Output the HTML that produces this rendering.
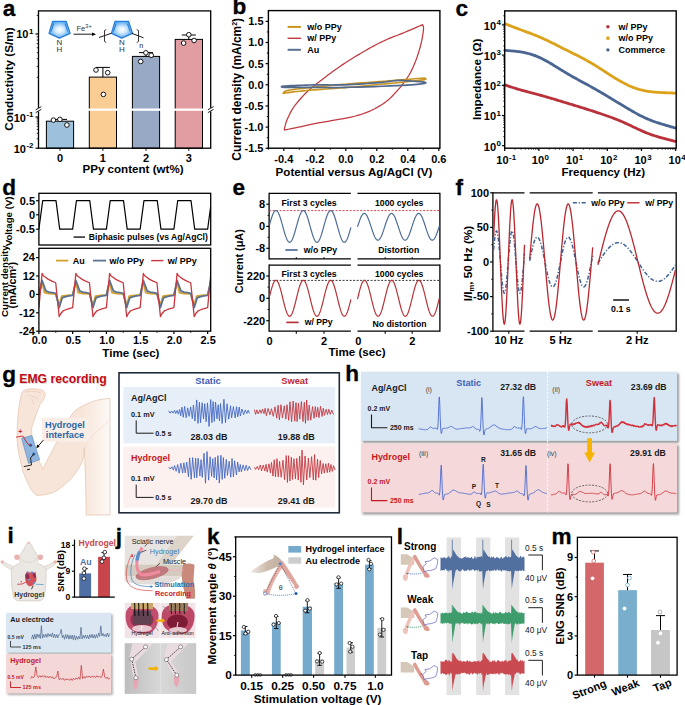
<!DOCTYPE html>
<html><head><meta charset="utf-8"><style>
html,body{margin:0;padding:0;background:#fff;width:685px;height:705px;overflow:hidden}
svg{display:block}
text{font-family:"Liberation Sans", sans-serif}
</style></head><body>
<svg width="685" height="705" viewBox="0 0 685 705">
<defs>
<radialGradient id="pyg" cx="50%" cy="50%" r="55%"><stop offset="0" stop-color="#ffffff"/><stop offset="0.35" stop-color="#d8ecff"/><stop offset="1" stop-color="#3f9ff0"/></radialGradient>
</defs><text x="2.7" y="16.4" font-size="22.6" font-weight="bold" fill="#000" stroke="#000" stroke-width="0.3">a</text><rect x="46.4" y="121.2" width="27.2" height="27" fill="#9dc0dd" stroke="#000" stroke-width="1" /><rect x="89.3" y="77.1" width="27.2" height="71.1" fill="#f9cd93" stroke="#000" stroke-width="1" /><rect x="132.4" y="56.4" width="27.2" height="91.8" fill="#98a9c6" stroke="#000" stroke-width="1" /><rect x="175.2" y="39.4" width="27.3" height="108.8" fill="#e19da1" stroke="#000" stroke-width="1" /><rect x="39.3" y="108.5" width="170.6" height="2.3" fill="#fff" stroke="none" stroke-width="1" /><line x1="60" y1="121.2" x2="60" y2="119.4" stroke="#000" stroke-width="1" /><line x1="53" y1="119.4" x2="67" y2="119.4" stroke="#000" stroke-width="1" /><line x1="102.9" y1="77.1" x2="102.9" y2="67.4" stroke="#000" stroke-width="1" /><line x1="95.9" y1="67.4" x2="109.9" y2="67.4" stroke="#000" stroke-width="1" /><line x1="146" y1="56.4" x2="146" y2="52.6" stroke="#000" stroke-width="1" /><line x1="139" y1="52.6" x2="153" y2="52.6" stroke="#000" stroke-width="1" /><line x1="188.8" y1="39.4" x2="188.8" y2="35" stroke="#000" stroke-width="1" /><line x1="181.8" y1="35" x2="195.8" y2="35" stroke="#000" stroke-width="1" /><circle cx="53.4" cy="120.1" r="2.3" fill="#fff" stroke="#000" stroke-width="0.9" /><circle cx="59.9" cy="119.4" r="2.3" fill="#fff" stroke="#000" stroke-width="0.9" /><circle cx="66.9" cy="125" r="2.3" fill="#fff" stroke="#000" stroke-width="0.9" /><circle cx="96" cy="70" r="2.3" fill="#fff" stroke="#000" stroke-width="0.9" /><circle cx="107.7" cy="72.7" r="2.3" fill="#fff" stroke="#000" stroke-width="0.9" /><circle cx="103.4" cy="94.4" r="2.3" fill="#fff" stroke="#000" stroke-width="0.9" /><circle cx="145.9" cy="52.8" r="2.3" fill="#fff" stroke="#000" stroke-width="0.9" /><circle cx="151.2" cy="55.3" r="2.3" fill="#fff" stroke="#000" stroke-width="0.9" /><circle cx="140.7" cy="61.5" r="2.3" fill="#fff" stroke="#000" stroke-width="0.9" /><circle cx="188.8" cy="34.7" r="2.3" fill="#fff" stroke="#000" stroke-width="0.9" /><circle cx="194.1" cy="40.5" r="2.3" fill="#fff" stroke="#000" stroke-width="0.9" /><circle cx="183.6" cy="43.1" r="2.3" fill="#fff" stroke="#000" stroke-width="0.9" /><rect x="38.5" y="10.9" width="172.2" height="137.3" fill="none" stroke="#000" stroke-width="1.3" /><rect x="36" y="107.8" width="5" height="3.7" fill="#fff" stroke="none" stroke-width="1" /><line x1="35.7" y1="109.8" x2="41.3" y2="106.6" stroke="#000" stroke-width="0.9" /><line x1="35.7" y1="112.6" x2="41.3" y2="109.4" stroke="#000" stroke-width="0.9" /><rect x="208.2" y="107.8" width="5" height="3.7" fill="#fff" stroke="none" stroke-width="1" /><line x1="207.9" y1="109.8" x2="213.5" y2="106.6" stroke="#000" stroke-width="0.9" /><line x1="207.9" y1="112.6" x2="213.5" y2="109.4" stroke="#000" stroke-width="0.9" /><line x1="35.5" y1="34" x2="38.5" y2="34" stroke="#000" stroke-width="1.2" /><line x1="35.5" y1="117" x2="38.5" y2="117" stroke="#000" stroke-width="1.2" /><line x1="35.5" y1="148.2" x2="38.5" y2="148.2" stroke="#000" stroke-width="1.2" /><line x1="36.7" y1="138.81" x2="38.5" y2="138.81" stroke="#000" stroke-width="0.8" /><line x1="36.7" y1="133.31" x2="38.5" y2="133.31" stroke="#000" stroke-width="0.8" /><line x1="36.7" y1="129.42" x2="38.5" y2="129.42" stroke="#000" stroke-width="0.8" /><line x1="36.7" y1="126.39" x2="38.5" y2="126.39" stroke="#000" stroke-width="0.8" /><line x1="36.7" y1="123.92" x2="38.5" y2="123.92" stroke="#000" stroke-width="0.8" /><line x1="36.7" y1="121.83" x2="38.5" y2="121.83" stroke="#000" stroke-width="0.8" /><line x1="36.7" y1="120.02" x2="38.5" y2="120.02" stroke="#000" stroke-width="0.8" /><line x1="36.7" y1="118.43" x2="38.5" y2="118.43" stroke="#000" stroke-width="0.8" /><line x1="36.7" y1="77.34" x2="38.5" y2="77.34" stroke="#000" stroke-width="0.8" /><line x1="36.7" y1="15.34" x2="38.5" y2="15.34" stroke="#000" stroke-width="0.8" /><line x1="36.7" y1="66.42" x2="38.5" y2="66.42" stroke="#000" stroke-width="0.8" /><line x1="36.7" y1="58.67" x2="38.5" y2="58.67" stroke="#000" stroke-width="0.8" /><line x1="36.7" y1="52.66" x2="38.5" y2="52.66" stroke="#000" stroke-width="0.8" /><line x1="36.7" y1="47.75" x2="38.5" y2="47.75" stroke="#000" stroke-width="0.8" /><line x1="36.7" y1="43.6" x2="38.5" y2="43.6" stroke="#000" stroke-width="0.8" /><line x1="36.7" y1="40.01" x2="38.5" y2="40.01" stroke="#000" stroke-width="0.8" /><line x1="36.7" y1="36.84" x2="38.5" y2="36.84" stroke="#000" stroke-width="0.8" /><text x="33.3" y="38.45" font-size="11" text-anchor="end" font-weight="bold" fill="#000">10<tspan font-size="7.92" dx="0.5" dy="-4.62">1</tspan></text><text x="33.5" y="121.85" font-size="11" text-anchor="end" font-weight="bold" fill="#000">10<tspan font-size="7.92" dx="0.5" dy="-4.62">-1</tspan></text><text x="33.5" y="152.85" font-size="11" text-anchor="end" font-weight="bold" fill="#000">10<tspan font-size="7.92" dx="0.5" dy="-4.62">-2</tspan></text><line x1="60" y1="148.2" x2="60" y2="150.7" stroke="#000" stroke-width="1" /><text x="60" y="162.25" font-size="11" text-anchor="middle" font-weight="bold" fill="#000" >0</text><line x1="102.9" y1="148.2" x2="102.9" y2="150.7" stroke="#000" stroke-width="1" /><text x="102.9" y="162.25" font-size="11" text-anchor="middle" font-weight="bold" fill="#000" >1</text><line x1="146" y1="148.2" x2="146" y2="150.7" stroke="#000" stroke-width="1" /><text x="146" y="162.25" font-size="11" text-anchor="middle" font-weight="bold" fill="#000" >2</text><line x1="188.8" y1="148.2" x2="188.8" y2="150.7" stroke="#000" stroke-width="1" /><text x="188.8" y="162.25" font-size="11" text-anchor="middle" font-weight="bold" fill="#000" >3</text><text x="133" y="172.76" font-size="11.6" text-anchor="middle" font-weight="bold" fill="#000" >PPy content (wt%)</text><text x="8.6" y="83.19" font-size="11.7" text-anchor="middle" font-weight="bold" fill="#000" transform="rotate(-90 8.6 79.1)" >Conductivity (S/m)</text><path d="M52.6 21.4 L66.2 21.4 L70.1 33.3 L59.4 38.2 L49.1 33.3 Z" fill="url(#pyg)" stroke="#2a7fd8" stroke-width="1.3" stroke-linejoin="round" /><line x1="53.6" y1="23.8" x2="51.2" y2="31.5" stroke="#1f6fc2" stroke-width="0.9" /><line x1="65.2" y1="23.8" x2="67.6" y2="31.5" stroke="#1f6fc2" stroke-width="0.9" /><text x="59.4" y="44.8" font-size="8" text-anchor="middle" font-weight="normal" fill="#333" >N</text><text x="59.4" y="52.4" font-size="8" text-anchor="middle" font-weight="normal" fill="#333" >H</text><path d="M115 21.4 L128.6 21.4 L132.5 33.3 L121.8 38.2 L111.5 33.3 Z" fill="url(#pyg)" stroke="#2a7fd8" stroke-width="1.3" stroke-linejoin="round" /><line x1="116" y1="23.8" x2="113.6" y2="31.5" stroke="#1f6fc2" stroke-width="0.9" /><line x1="127.6" y1="23.8" x2="130" y2="31.5" stroke="#1f6fc2" stroke-width="0.9" /><text x="121.8" y="44.8" font-size="8" text-anchor="middle" font-weight="normal" fill="#333" >N</text><text x="121.8" y="52.4" font-size="8" text-anchor="middle" font-weight="normal" fill="#333" >H</text><line x1="73.6" y1="34.2" x2="94.5" y2="34.2" stroke="#000" stroke-width="0.9" /><path d="M92 32.4 L96 34.2 L92 36 Z" fill="#000" stroke="#000" stroke-width="0" stroke-linejoin="round" /><text x="76.4" y="30.6" font-size="7.6" fill="#333">Fe<tspan font-size="5.6" dy="-3">3+</tspan></text><line x1="99" y1="37.5" x2="111.4" y2="33.3" stroke="#000" stroke-width="0.9" /><line x1="131.8" y1="33.3" x2="143.5" y2="37.8" stroke="#000" stroke-width="0.9" /><path d="M106.3 29.6 L104.5 30.5 L104.5 41.5 L106.3 42.6" fill="none" stroke="#222" stroke-width="0.9"/><path d="M136.7 29.6 L138.5 30.5 L138.5 41.5 L136.7 42.6" fill="none" stroke="#222" stroke-width="0.9"/><text x="141.2" y="47.72" font-size="7.2" text-anchor="middle" font-weight="normal" fill="#222" >n</text><text x="232.4" y="13.8" font-size="22.6" font-weight="bold" fill="#000" stroke="#000" stroke-width="0.3">b</text><path d="M284.1 130.1 L284.28 129.39 L284.49 128.46 L284.74 127.36 L285.04 126.13 L285.38 124.81 L285.76 123.43 L286.2 122.05 L286.7 120.7 L287.26 119.34 L287.87 117.91 L288.54 116.43 L289.25 114.92 L290.01 113.4 L290.81 111.89 L291.64 110.42 L292.5 109 L293.4 107.62 L294.36 106.26 L295.35 104.92 L296.38 103.6 L297.44 102.3 L298.52 101.01 L299.61 99.75 L300.7 98.5 L301.79 97.28 L302.89 96.09 L304 94.92 L305.13 93.77 L306.29 92.63 L307.48 91.5 L308.72 90.35 L310 89.2 L311.35 88.03 L312.76 86.86 L314.21 85.69 L315.7 84.52 L317.21 83.35 L318.72 82.19 L320.22 81.04 L321.7 79.9 L323.13 78.79 L324.52 77.72 L325.89 76.66 L327.26 75.61 L328.68 74.55 L330.15 73.45 L331.72 72.31 L333.4 71.1 L335.18 69.83 L337.03 68.52 L338.95 67.18 L340.94 65.79 L343 64.38 L345.15 62.94 L347.38 61.48 L349.7 60 L352.18 58.46 L354.85 56.82 L357.64 55.14 L360.49 53.44 L363.34 51.77 L366.12 50.17 L368.76 48.66 L371.2 47.3 L373.43 46.08 L375.51 44.97 L377.48 43.95 L379.37 42.99 L381.21 42.09 L383.04 41.22 L384.89 40.36 L386.8 39.5 L388.72 38.66 L390.59 37.89 L392.44 37.16 L394.31 36.45 L396.21 35.73 L398.17 34.98 L400.23 34.18 L402.4 33.3 L404.85 32.28 L407.62 31.12 L410.56 29.87 L413.52 28.61 L416.37 27.4 L418.94 26.3 L421.1 25.38 L422.7 24.7 L422.78 25 L422.92 25.33 L423.08 25.71 L423.25 26.18 L423.4 26.75 L423.51 27.46 L423.55 28.34 L423.5 29.4 L423.37 30.69 L423.18 32.21 L422.94 33.9 L422.64 35.72 L422.31 37.62 L421.94 39.57 L421.53 41.51 L421.1 43.4 L420.63 45.28 L420.12 47.23 L419.57 49.2 L418.99 51.2 L418.37 53.2 L417.73 55.17 L417.08 57.12 L416.4 59 L415.7 60.86 L414.96 62.72 L414.18 64.57 L413.39 66.39 L412.59 68.16 L411.79 69.86 L410.99 71.48 L410.2 73 L409.43 74.41 L408.65 75.71 L407.88 76.93 L407.11 78.09 L406.33 79.19 L405.56 80.27 L404.78 81.33 L404 82.4 L403.25 83.43 L402.54 84.39 L401.85 85.31 L401.14 86.21 L400.4 87.12 L399.6 88.07 L398.71 89.09 L397.7 90.2 L396.59 91.42 L395.41 92.74 L394.16 94.13 L392.83 95.55 L391.43 96.99 L389.96 98.41 L388.42 99.79 L386.8 101.1 L385.07 102.37 L383.23 103.65 L381.29 104.91 L379.29 106.14 L377.26 107.33 L375.21 108.46 L373.18 109.52 L371.2 110.5 L369.25 111.39 L367.3 112.2 L365.35 112.95 L363.4 113.64 L361.45 114.28 L359.5 114.88 L357.55 115.45 L355.6 116 L353.71 116.5 L351.9 116.94 L350.12 117.32 L348.33 117.68 L346.47 118.03 L344.5 118.38 L342.36 118.77 L340 119.2 L337.35 119.68 L334.42 120.19 L331.3 120.72 L328.07 121.26 L324.83 121.81 L321.66 122.35 L318.65 122.89 L315.9 123.4 L313.37 123.9 L310.99 124.4 L308.71 124.89 L306.54 125.38 L304.44 125.86 L302.4 126.32 L300.39 126.77 L298.4 127.2 L296.36 127.63 L294.26 128.06 L292.17 128.48 L290.16 128.89 L288.27 129.26 L286.59 129.6 L285.18 129.88 L284.1 130.1" fill="none" stroke="#c0393f" stroke-width="1.25" stroke-linejoin="round" /><path d="M283.6 93.6 L283.55 93.55 L283.45 93.49 L283.33 93.43 L283.21 93.35 L283.13 93.25 L283.12 93.13 L283.2 92.98 L283.4 92.8 L283.63 92.58 L283.8 92.32 L284.01 92.03 L284.31 91.72 L284.79 91.4 L285.51 91.07 L286.56 90.73 L288 90.4 L289.83 90.07 L291.97 89.74 L294.4 89.41 L297.1 89.06 L300.03 88.71 L303.18 88.35 L306.51 87.98 L310 87.6 L313.68 87.2 L317.6 86.79 L321.73 86.37 L326.06 85.94 L330.57 85.5 L335.24 85.06 L340.06 84.63 L345 84.2 L350.22 83.77 L355.8 83.34 L361.62 82.9 L367.55 82.46 L373.48 82.03 L379.28 81.61 L384.82 81.2 L390 80.8 L395.03 80.4 L400.11 79.99 L405.12 79.58 L409.91 79.19 L414.35 78.82 L418.31 78.49 L421.64 78.21 L424.2 78 L424.37 78.12 L424.77 78.26 L425.26 78.43 L425.71 78.62 L425.97 78.84 L425.9 79.08 L425.36 79.33 L424.2 79.6 L422.54 79.88 L420.57 80.16 L418.25 80.46 L415.54 80.77 L412.39 81.12 L408.78 81.5 L404.66 81.93 L400 82.4 L394.46 82.95 L387.95 83.59 L380.75 84.29 L373.18 85.01 L365.51 85.73 L358.07 86.43 L351.13 87.06 L345 87.6 L339.58 88.05 L334.54 88.44 L329.84 88.77 L325.44 89.07 L321.29 89.35 L317.37 89.62 L313.62 89.9 L310 90.2 L306.51 90.52 L303.17 90.85 L300.02 91.18 L297.09 91.5 L294.39 91.81 L291.96 92.1 L289.82 92.37 L288 92.6 L286.58 92.8 L285.56 92.97 L284.87 93.12 L284.43 93.25 L284.15 93.36 L283.98 93.45 L283.82 93.53 L283.6 93.6" fill="none" stroke="#c8961e" stroke-width="1.6" stroke-linejoin="round" /><path d="M283.4 87.5 L283.22 87.4 L282.78 87.26 L282.23 87.1 L281.74 86.93 L281.45 86.74 L281.53 86.55 L282.13 86.37 L283.4 86.2 L285.39 86.04 L287.98 85.87 L291.06 85.7 L294.51 85.53 L298.24 85.37 L302.14 85.23 L306.09 85.1 L310 85 L313.98 84.94 L318.18 84.93 L322.55 84.94 L327.04 84.96 L331.58 84.98 L336.12 84.97 L340.62 84.91 L345 84.8 L349.4 84.62 L353.93 84.39 L358.5 84.12 L363.02 83.82 L367.41 83.51 L371.6 83.2 L375.49 82.89 L379 82.6 L382.13 82.31 L384.97 81.99 L387.54 81.66 L389.89 81.34 L392.04 81.03 L394.04 80.77 L395.91 80.55 L397.7 80.4 L399.27 80.32 L400.52 80.3 L401.57 80.32 L402.5 80.39 L403.42 80.48 L404.43 80.58 L405.62 80.69 L407.1 80.8 L408.99 80.92 L411.23 81.07 L413.7 81.24 L416.24 81.42 L418.7 81.6 L420.95 81.77 L422.83 81.9 L424.2 82 L424.35 82.1 L424.71 82.24 L425.16 82.4 L425.56 82.58 L425.8 82.77 L425.73 82.98 L425.24 83.19 L424.2 83.4 L422.76 83.62 L421.12 83.86 L419.19 84.11 L416.89 84.36 L414.14 84.62 L410.86 84.89 L406.98 85.15 L402.4 85.4 L396.78 85.66 L390.03 85.95 L382.5 86.24 L374.52 86.53 L366.45 86.8 L358.61 87.04 L351.35 87.25 L345 87.4 L339.5 87.5 L334.48 87.54 L329.87 87.54 L325.57 87.52 L321.53 87.48 L317.63 87.44 L313.82 87.41 L310 87.4 L306.09 87.41 L302.14 87.42 L298.24 87.43 L294.51 87.45 L291.06 87.47 L287.98 87.48 L285.39 87.49 L283.4 87.5" fill="none" stroke="#52698c" stroke-width="1.7" stroke-linejoin="round" /><rect x="268.4" y="10.6" width="171.5" height="137.6" fill="none" stroke="#000" stroke-width="1.4" /><line x1="265.6" y1="21.35" x2="268.4" y2="21.35" stroke="#000" stroke-width="1.2" /><text x="263.5" y="25.2" font-size="11" text-anchor="end" font-weight="bold" fill="#000" >1.5</text><line x1="266.8" y1="31.95" x2="268.4" y2="31.95" stroke="#000" stroke-width="0.9" /><line x1="265.6" y1="42.5" x2="268.4" y2="42.5" stroke="#000" stroke-width="1.2" /><text x="263.5" y="46.35" font-size="11" text-anchor="end" font-weight="bold" fill="#000" >1.0</text><line x1="266.8" y1="53.1" x2="268.4" y2="53.1" stroke="#000" stroke-width="0.9" /><line x1="265.6" y1="63.65" x2="268.4" y2="63.65" stroke="#000" stroke-width="1.2" /><text x="263.5" y="67.5" font-size="11" text-anchor="end" font-weight="bold" fill="#000" >0.5</text><line x1="266.8" y1="74.25" x2="268.4" y2="74.25" stroke="#000" stroke-width="0.9" /><line x1="265.6" y1="84.8" x2="268.4" y2="84.8" stroke="#000" stroke-width="1.2" /><text x="263.5" y="88.65" font-size="11" text-anchor="end" font-weight="bold" fill="#000" >0.0</text><line x1="266.8" y1="95.4" x2="268.4" y2="95.4" stroke="#000" stroke-width="0.9" /><line x1="265.6" y1="105.95" x2="268.4" y2="105.95" stroke="#000" stroke-width="1.2" /><text x="263.5" y="109.8" font-size="11" text-anchor="end" font-weight="bold" fill="#000" >-0.5</text><line x1="266.8" y1="116.55" x2="268.4" y2="116.55" stroke="#000" stroke-width="0.9" /><line x1="265.6" y1="127.1" x2="268.4" y2="127.1" stroke="#000" stroke-width="1.2" /><text x="263.5" y="130.95" font-size="11" text-anchor="end" font-weight="bold" fill="#000" >-1.0</text><line x1="266.8" y1="137.7" x2="268.4" y2="137.7" stroke="#000" stroke-width="0.9" /><line x1="265.6" y1="148.25" x2="268.4" y2="148.25" stroke="#000" stroke-width="1.2" /><text x="263.5" y="152.1" font-size="11" text-anchor="end" font-weight="bold" fill="#000" >-1.5</text><line x1="283.8" y1="148.2" x2="283.8" y2="151" stroke="#000" stroke-width="1.2" /><text x="283.8" y="163.15" font-size="11" text-anchor="middle" font-weight="bold" fill="#000" >-0.4</text><line x1="314.8" y1="148.2" x2="314.8" y2="151" stroke="#000" stroke-width="1.2" /><text x="314.8" y="163.15" font-size="11" text-anchor="middle" font-weight="bold" fill="#000" >-0.2</text><line x1="345.8" y1="148.2" x2="345.8" y2="151" stroke="#000" stroke-width="1.2" /><text x="345.8" y="163.15" font-size="11" text-anchor="middle" font-weight="bold" fill="#000" >0.0</text><line x1="376.8" y1="148.2" x2="376.8" y2="151" stroke="#000" stroke-width="1.2" /><text x="376.8" y="163.15" font-size="11" text-anchor="middle" font-weight="bold" fill="#000" >0.2</text><line x1="407.8" y1="148.2" x2="407.8" y2="151" stroke="#000" stroke-width="1.2" /><text x="407.8" y="163.15" font-size="11" text-anchor="middle" font-weight="bold" fill="#000" >0.4</text><line x1="438.8" y1="148.2" x2="438.8" y2="151" stroke="#000" stroke-width="1.2" /><text x="438.8" y="163.15" font-size="11" text-anchor="middle" font-weight="bold" fill="#000" >0.6</text><line x1="268.3" y1="148.2" x2="268.3" y2="149.8" stroke="#000" stroke-width="0.9" /><line x1="299.3" y1="148.2" x2="299.3" y2="149.8" stroke="#000" stroke-width="0.9" /><line x1="330.3" y1="148.2" x2="330.3" y2="149.8" stroke="#000" stroke-width="0.9" /><line x1="361.3" y1="148.2" x2="361.3" y2="149.8" stroke="#000" stroke-width="0.9" /><line x1="392.3" y1="148.2" x2="392.3" y2="149.8" stroke="#000" stroke-width="0.9" /><line x1="423.3" y1="148.2" x2="423.3" y2="149.8" stroke="#000" stroke-width="0.9" /><text x="354" y="176.16" font-size="11.6" text-anchor="middle" font-weight="bold" fill="#000" >Potential versus Ag/AgCl (V)</text><text transform="rotate(-90 237.4 89.3)" x="237.4" y="93.3" font-size="11.9" text-anchor="middle" font-weight="bold">Current density (mA/cm<tspan font-size="7" dy="-4">2</tspan><tspan dy="4">)</tspan></text><line x1="287.6" y1="26.9" x2="300.9" y2="26.9" stroke="#c8961e" stroke-width="2" /><text x="307.3" y="30.05" font-size="9" text-anchor="start" font-weight="bold" fill="#000" >w/o PPy</text><line x1="287.6" y1="38.3" x2="300.9" y2="38.3" stroke="#c0393f" stroke-width="1.4" /><text x="307.3" y="41.45" font-size="9" text-anchor="start" font-weight="bold" fill="#000" >w/ PPy</text><line x1="287.6" y1="49.8" x2="300.9" y2="49.8" stroke="#5a7292" stroke-width="2" /><text x="307.3" y="52.95" font-size="9" text-anchor="start" font-weight="bold" fill="#000" >Au</text><text x="455.5" y="16.4" font-size="22.6" font-weight="bold" fill="#000" stroke="#000" stroke-width="0.3">c</text><path d="M504.8 23.6 L506.23 24.18 L507.67 24.76 L509.1 25.34 L510.53 25.91 L511.97 26.48 L513.4 27.04 L514.84 27.59 L516.27 28.14 L517.7 28.68 L519.14 29.21 L520.57 29.74 L522 30.26 L523.44 30.79 L524.87 31.31 L526.3 31.83 L527.74 32.35 L529.17 32.88 L530.61 33.42 L532.04 33.96 L533.47 34.51 L534.91 35.08 L536.34 35.65 L537.77 36.24 L539.21 36.85 L540.64 37.47 L542.07 38.11 L543.51 38.75 L544.94 39.42 L546.37 40.09 L547.81 40.78 L549.24 41.47 L550.68 42.17 L552.11 42.89 L553.54 43.6 L554.98 44.32 L556.41 45.05 L557.84 45.77 L559.28 46.5 L560.71 47.23 L562.14 47.95 L563.58 48.68 L565.01 49.4 L566.45 50.12 L567.88 50.83 L569.31 51.54 L570.75 52.25 L572.18 52.95 L573.61 53.66 L575.05 54.37 L576.48 55.08 L577.91 55.8 L579.35 56.53 L580.78 57.27 L582.22 58.03 L583.65 58.79 L585.08 59.57 L586.52 60.36 L587.95 61.16 L589.38 61.98 L590.82 62.81 L592.25 63.65 L593.68 64.51 L595.12 65.38 L596.55 66.26 L597.98 67.15 L599.42 68.06 L600.85 68.98 L602.29 69.9 L603.72 70.84 L605.15 71.77 L606.59 72.71 L608.02 73.64 L609.45 74.57 L610.89 75.49 L612.32 76.41 L613.75 77.31 L615.19 78.19 L616.62 79.06 L618.06 79.91 L619.49 80.74 L620.92 81.55 L622.36 82.34 L623.79 83.11 L625.22 83.85 L626.66 84.56 L628.09 85.25 L629.52 85.9 L630.96 86.52 L632.39 87.1 L633.83 87.65 L635.26 88.16 L636.69 88.64 L638.13 89.08 L639.56 89.49 L640.99 89.87 L642.43 90.21 L643.86 90.53 L645.29 90.82 L646.73 91.08 L648.16 91.31 L649.59 91.52 L651.03 91.71 L652.46 91.88 L653.9 92.03 L655.33 92.16 L656.76 92.28 L658.2 92.38 L659.63 92.47 L661.06 92.56 L662.5 92.63 L663.93 92.7 L665.36 92.76 L666.8 92.81 L668.23 92.87 L669.67 92.92 L671.1 92.96 L672.53 93.01 L673.97 93.06 L675.4 93.1" fill="none" stroke="#dba21a" stroke-width="2.8" stroke-linejoin="round" stroke-linecap="round"/><path d="M504.8 50.4 L506.23 50.49 L507.67 50.59 L509.1 50.7 L510.53 50.81 L511.97 50.93 L513.4 51.06 L514.84 51.2 L516.27 51.36 L517.7 51.54 L519.14 51.73 L520.57 51.94 L522 52.17 L523.44 52.43 L524.87 52.71 L526.3 53.02 L527.74 53.37 L529.17 53.75 L530.61 54.16 L532.04 54.61 L533.47 55.09 L534.91 55.61 L536.34 56.17 L537.77 56.76 L539.21 57.38 L540.64 58.04 L542.07 58.74 L543.51 59.46 L544.94 60.22 L546.37 60.99 L547.81 61.8 L549.24 62.62 L550.68 63.46 L552.11 64.32 L553.54 65.2 L554.98 66.08 L556.41 66.97 L557.84 67.86 L559.28 68.75 L560.71 69.64 L562.14 70.53 L563.58 71.41 L565.01 72.28 L566.45 73.14 L567.88 73.98 L569.31 74.82 L570.75 75.64 L572.18 76.45 L573.61 77.25 L575.05 78.05 L576.48 78.84 L577.91 79.62 L579.35 80.4 L580.78 81.18 L582.22 81.96 L583.65 82.74 L585.08 83.52 L586.52 84.3 L587.95 85.08 L589.38 85.86 L590.82 86.64 L592.25 87.43 L593.68 88.23 L595.12 89.03 L596.55 89.85 L597.98 90.67 L599.42 91.5 L600.85 92.35 L602.29 93.2 L603.72 94.06 L605.15 94.92 L606.59 95.78 L608.02 96.64 L609.45 97.51 L610.89 98.38 L612.32 99.24 L613.75 100.1 L615.19 100.97 L616.62 101.83 L618.06 102.68 L619.49 103.54 L620.92 104.41 L622.36 105.27 L623.79 106.13 L625.22 106.99 L626.66 107.85 L628.09 108.71 L629.52 109.56 L630.96 110.4 L632.39 111.23 L633.83 112.05 L635.26 112.85 L636.69 113.64 L638.13 114.41 L639.56 115.16 L640.99 115.89 L642.43 116.6 L643.86 117.29 L645.29 117.96 L646.73 118.61 L648.16 119.23 L649.59 119.82 L651.03 120.39 L652.46 120.94 L653.9 121.47 L655.33 121.98 L656.76 122.47 L658.2 122.94 L659.63 123.4 L661.06 123.85 L662.5 124.28 L663.93 124.71 L665.36 125.13 L666.8 125.55 L668.23 125.96 L669.67 126.37 L671.1 126.78 L672.53 127.19 L673.97 127.6 L675.4 128" fill="none" stroke="#4a6591" stroke-width="2.8" stroke-linejoin="round" stroke-linecap="round"/><path d="M504.8 84.9 L506.23 85.38 L507.67 85.87 L509.1 86.34 L510.53 86.81 L511.97 87.28 L513.4 87.74 L514.84 88.18 L516.27 88.62 L517.7 89.05 L519.14 89.47 L520.57 89.89 L522 90.29 L523.44 90.69 L524.87 91.08 L526.3 91.47 L527.74 91.85 L529.17 92.23 L530.61 92.6 L532.04 92.98 L533.47 93.35 L534.91 93.73 L536.34 94.11 L537.77 94.49 L539.21 94.88 L540.64 95.28 L542.07 95.68 L543.51 96.08 L544.94 96.49 L546.37 96.9 L547.81 97.32 L549.24 97.74 L550.68 98.17 L552.11 98.59 L553.54 99.02 L554.98 99.46 L556.41 99.89 L557.84 100.32 L559.28 100.76 L560.71 101.19 L562.14 101.62 L563.58 102.06 L565.01 102.49 L566.45 102.93 L567.88 103.36 L569.31 103.8 L570.75 104.23 L572.18 104.67 L573.61 105.11 L575.05 105.55 L576.48 105.99 L577.91 106.43 L579.35 106.87 L580.78 107.32 L582.22 107.76 L583.65 108.21 L585.08 108.66 L586.52 109.11 L587.95 109.56 L589.38 110.02 L590.82 110.47 L592.25 110.93 L593.68 111.39 L595.12 111.85 L596.55 112.32 L597.98 112.8 L599.42 113.27 L600.85 113.75 L602.29 114.24 L603.72 114.73 L605.15 115.23 L606.59 115.73 L608.02 116.24 L609.45 116.76 L610.89 117.28 L612.32 117.81 L613.75 118.35 L615.19 118.9 L616.62 119.46 L618.06 120.03 L619.49 120.62 L620.92 121.22 L622.36 121.83 L623.79 122.46 L625.22 123.11 L626.66 123.76 L628.09 124.43 L629.52 125.11 L630.96 125.79 L632.39 126.47 L633.83 127.15 L635.26 127.83 L636.69 128.51 L638.13 129.18 L639.56 129.83 L640.99 130.48 L642.43 131.12 L643.86 131.74 L645.29 132.35 L646.73 132.93 L648.16 133.5 L649.59 134.05 L651.03 134.57 L652.46 135.07 L653.9 135.54 L655.33 136 L656.76 136.44 L658.2 136.87 L659.63 137.28 L661.06 137.68 L662.5 138.07 L663.93 138.45 L665.36 138.83 L666.8 139.21 L668.23 139.58 L669.67 139.94 L671.1 140.31 L672.53 140.67 L673.97 141.04 L675.4 141.4" fill="none" stroke="#b8313b" stroke-width="2.8" stroke-linejoin="round" stroke-linecap="round"/><rect x="504.7" y="10.9" width="171.5" height="137.3" fill="none" stroke="#000" stroke-width="1.4" /><line x1="501.9" y1="145.7" x2="504.7" y2="145.7" stroke="#000" stroke-width="1.2" /><text x="501" y="150.55" font-size="11" text-anchor="end" font-weight="bold" fill="#000">10<tspan font-size="7.92" dx="0.5" dy="-4.62">0</tspan></text><line x1="503.1" y1="136.61" x2="504.7" y2="136.61" stroke="#000" stroke-width="0.7" /><line x1="503.1" y1="131.29" x2="504.7" y2="131.29" stroke="#000" stroke-width="0.7" /><line x1="503.1" y1="127.52" x2="504.7" y2="127.52" stroke="#000" stroke-width="0.7" /><line x1="503.1" y1="124.59" x2="504.7" y2="124.59" stroke="#000" stroke-width="0.7" /><line x1="503.1" y1="122.2" x2="504.7" y2="122.2" stroke="#000" stroke-width="0.7" /><line x1="503.1" y1="120.18" x2="504.7" y2="120.18" stroke="#000" stroke-width="0.7" /><line x1="503.1" y1="118.43" x2="504.7" y2="118.43" stroke="#000" stroke-width="0.7" /><line x1="503.1" y1="116.88" x2="504.7" y2="116.88" stroke="#000" stroke-width="0.7" /><line x1="501.9" y1="115.5" x2="504.7" y2="115.5" stroke="#000" stroke-width="1.2" /><text x="501" y="120.35" font-size="11" text-anchor="end" font-weight="bold" fill="#000">10<tspan font-size="7.92" dx="0.5" dy="-4.62">1</tspan></text><line x1="503.1" y1="106.41" x2="504.7" y2="106.41" stroke="#000" stroke-width="0.7" /><line x1="503.1" y1="101.09" x2="504.7" y2="101.09" stroke="#000" stroke-width="0.7" /><line x1="503.1" y1="97.32" x2="504.7" y2="97.32" stroke="#000" stroke-width="0.7" /><line x1="503.1" y1="94.39" x2="504.7" y2="94.39" stroke="#000" stroke-width="0.7" /><line x1="503.1" y1="92" x2="504.7" y2="92" stroke="#000" stroke-width="0.7" /><line x1="503.1" y1="89.98" x2="504.7" y2="89.98" stroke="#000" stroke-width="0.7" /><line x1="503.1" y1="88.23" x2="504.7" y2="88.23" stroke="#000" stroke-width="0.7" /><line x1="503.1" y1="86.68" x2="504.7" y2="86.68" stroke="#000" stroke-width="0.7" /><line x1="501.9" y1="85.3" x2="504.7" y2="85.3" stroke="#000" stroke-width="1.2" /><text x="501" y="90.15" font-size="11" text-anchor="end" font-weight="bold" fill="#000">10<tspan font-size="7.92" dx="0.5" dy="-4.62">2</tspan></text><line x1="503.1" y1="76.21" x2="504.7" y2="76.21" stroke="#000" stroke-width="0.7" /><line x1="503.1" y1="70.89" x2="504.7" y2="70.89" stroke="#000" stroke-width="0.7" /><line x1="503.1" y1="67.12" x2="504.7" y2="67.12" stroke="#000" stroke-width="0.7" /><line x1="503.1" y1="64.19" x2="504.7" y2="64.19" stroke="#000" stroke-width="0.7" /><line x1="503.1" y1="61.8" x2="504.7" y2="61.8" stroke="#000" stroke-width="0.7" /><line x1="503.1" y1="59.78" x2="504.7" y2="59.78" stroke="#000" stroke-width="0.7" /><line x1="503.1" y1="58.03" x2="504.7" y2="58.03" stroke="#000" stroke-width="0.7" /><line x1="503.1" y1="56.48" x2="504.7" y2="56.48" stroke="#000" stroke-width="0.7" /><line x1="501.9" y1="55.1" x2="504.7" y2="55.1" stroke="#000" stroke-width="1.2" /><text x="501" y="59.95" font-size="11" text-anchor="end" font-weight="bold" fill="#000">10<tspan font-size="7.92" dx="0.5" dy="-4.62">3</tspan></text><line x1="503.1" y1="46.01" x2="504.7" y2="46.01" stroke="#000" stroke-width="0.7" /><line x1="503.1" y1="40.69" x2="504.7" y2="40.69" stroke="#000" stroke-width="0.7" /><line x1="503.1" y1="36.92" x2="504.7" y2="36.92" stroke="#000" stroke-width="0.7" /><line x1="503.1" y1="33.99" x2="504.7" y2="33.99" stroke="#000" stroke-width="0.7" /><line x1="503.1" y1="31.6" x2="504.7" y2="31.6" stroke="#000" stroke-width="0.7" /><line x1="503.1" y1="29.58" x2="504.7" y2="29.58" stroke="#000" stroke-width="0.7" /><line x1="503.1" y1="27.83" x2="504.7" y2="27.83" stroke="#000" stroke-width="0.7" /><line x1="503.1" y1="26.28" x2="504.7" y2="26.28" stroke="#000" stroke-width="0.7" /><line x1="501.9" y1="24.9" x2="504.7" y2="24.9" stroke="#000" stroke-width="1.2" /><text x="501" y="29.75" font-size="11" text-anchor="end" font-weight="bold" fill="#000">10<tspan font-size="7.92" dx="0.5" dy="-4.62">4</tspan></text><line x1="503.1" y1="15.81" x2="504.7" y2="15.81" stroke="#000" stroke-width="0.7" /><line x1="504.7" y1="148.2" x2="504.7" y2="151" stroke="#000" stroke-width="1.2" /><text x="506.2" y="164.15" font-size="11" text-anchor="middle" font-weight="bold" fill="#000">10<tspan font-size="7.92" dx="0.5" dy="-4.62">-1</tspan></text><line x1="515" y1="148.2" x2="515" y2="149.8" stroke="#000" stroke-width="0.7" /><line x1="521.02" y1="148.2" x2="521.02" y2="149.8" stroke="#000" stroke-width="0.7" /><line x1="525.29" y1="148.2" x2="525.29" y2="149.8" stroke="#000" stroke-width="0.7" /><line x1="528.6" y1="148.2" x2="528.6" y2="149.8" stroke="#000" stroke-width="0.7" /><line x1="531.31" y1="148.2" x2="531.31" y2="149.8" stroke="#000" stroke-width="0.7" /><line x1="533.6" y1="148.2" x2="533.6" y2="149.8" stroke="#000" stroke-width="0.7" /><line x1="535.59" y1="148.2" x2="535.59" y2="149.8" stroke="#000" stroke-width="0.7" /><line x1="537.34" y1="148.2" x2="537.34" y2="149.8" stroke="#000" stroke-width="0.7" /><line x1="538.9" y1="148.2" x2="538.9" y2="151" stroke="#000" stroke-width="1.2" /><text x="540.4" y="164.15" font-size="11" text-anchor="middle" font-weight="bold" fill="#000">10<tspan font-size="7.92" dx="0.5" dy="-4.62">0</tspan></text><line x1="549.2" y1="148.2" x2="549.2" y2="149.8" stroke="#000" stroke-width="0.7" /><line x1="555.22" y1="148.2" x2="555.22" y2="149.8" stroke="#000" stroke-width="0.7" /><line x1="559.49" y1="148.2" x2="559.49" y2="149.8" stroke="#000" stroke-width="0.7" /><line x1="562.8" y1="148.2" x2="562.8" y2="149.8" stroke="#000" stroke-width="0.7" /><line x1="565.51" y1="148.2" x2="565.51" y2="149.8" stroke="#000" stroke-width="0.7" /><line x1="567.8" y1="148.2" x2="567.8" y2="149.8" stroke="#000" stroke-width="0.7" /><line x1="569.79" y1="148.2" x2="569.79" y2="149.8" stroke="#000" stroke-width="0.7" /><line x1="571.54" y1="148.2" x2="571.54" y2="149.8" stroke="#000" stroke-width="0.7" /><line x1="573.1" y1="148.2" x2="573.1" y2="151" stroke="#000" stroke-width="1.2" /><text x="574.6" y="164.15" font-size="11" text-anchor="middle" font-weight="bold" fill="#000">10<tspan font-size="7.92" dx="0.5" dy="-4.62">1</tspan></text><line x1="583.4" y1="148.2" x2="583.4" y2="149.8" stroke="#000" stroke-width="0.7" /><line x1="589.42" y1="148.2" x2="589.42" y2="149.8" stroke="#000" stroke-width="0.7" /><line x1="593.69" y1="148.2" x2="593.69" y2="149.8" stroke="#000" stroke-width="0.7" /><line x1="597" y1="148.2" x2="597" y2="149.8" stroke="#000" stroke-width="0.7" /><line x1="599.71" y1="148.2" x2="599.71" y2="149.8" stroke="#000" stroke-width="0.7" /><line x1="602" y1="148.2" x2="602" y2="149.8" stroke="#000" stroke-width="0.7" /><line x1="603.99" y1="148.2" x2="603.99" y2="149.8" stroke="#000" stroke-width="0.7" /><line x1="605.74" y1="148.2" x2="605.74" y2="149.8" stroke="#000" stroke-width="0.7" /><line x1="607.3" y1="148.2" x2="607.3" y2="151" stroke="#000" stroke-width="1.2" /><text x="608.8" y="164.15" font-size="11" text-anchor="middle" font-weight="bold" fill="#000">10<tspan font-size="7.92" dx="0.5" dy="-4.62">2</tspan></text><line x1="617.6" y1="148.2" x2="617.6" y2="149.8" stroke="#000" stroke-width="0.7" /><line x1="623.62" y1="148.2" x2="623.62" y2="149.8" stroke="#000" stroke-width="0.7" /><line x1="627.89" y1="148.2" x2="627.89" y2="149.8" stroke="#000" stroke-width="0.7" /><line x1="631.2" y1="148.2" x2="631.2" y2="149.8" stroke="#000" stroke-width="0.7" /><line x1="633.91" y1="148.2" x2="633.91" y2="149.8" stroke="#000" stroke-width="0.7" /><line x1="636.2" y1="148.2" x2="636.2" y2="149.8" stroke="#000" stroke-width="0.7" /><line x1="638.19" y1="148.2" x2="638.19" y2="149.8" stroke="#000" stroke-width="0.7" /><line x1="639.94" y1="148.2" x2="639.94" y2="149.8" stroke="#000" stroke-width="0.7" /><line x1="641.5" y1="148.2" x2="641.5" y2="151" stroke="#000" stroke-width="1.2" /><text x="643" y="164.15" font-size="11" text-anchor="middle" font-weight="bold" fill="#000">10<tspan font-size="7.92" dx="0.5" dy="-4.62">3</tspan></text><line x1="651.8" y1="148.2" x2="651.8" y2="149.8" stroke="#000" stroke-width="0.7" /><line x1="657.82" y1="148.2" x2="657.82" y2="149.8" stroke="#000" stroke-width="0.7" /><line x1="662.09" y1="148.2" x2="662.09" y2="149.8" stroke="#000" stroke-width="0.7" /><line x1="665.4" y1="148.2" x2="665.4" y2="149.8" stroke="#000" stroke-width="0.7" /><line x1="668.11" y1="148.2" x2="668.11" y2="149.8" stroke="#000" stroke-width="0.7" /><line x1="670.4" y1="148.2" x2="670.4" y2="149.8" stroke="#000" stroke-width="0.7" /><line x1="672.39" y1="148.2" x2="672.39" y2="149.8" stroke="#000" stroke-width="0.7" /><line x1="674.14" y1="148.2" x2="674.14" y2="149.8" stroke="#000" stroke-width="0.7" /><line x1="675.7" y1="148.2" x2="675.7" y2="151" stroke="#000" stroke-width="1.2" /><text x="677.2" y="164.15" font-size="11" text-anchor="middle" font-weight="bold" fill="#000">10<tspan font-size="7.92" dx="0.5" dy="-4.62">4</tspan></text><text x="603.3" y="176.36" font-size="11.6" text-anchor="middle" font-weight="bold" fill="#000" >Frequency (Hz)</text><text x="476.6" y="83.39" font-size="11.7" text-anchor="middle" font-weight="bold" fill="#000" transform="rotate(-90 476.6 79.3)" >Impedance (Ω)</text><circle cx="607.9" cy="26.8" r="1.7" fill="#b8313b" stroke="none" stroke-width="0" /><rect x="606.3" y="36.6" width="3.2" height="3.2" fill="#dba21a" stroke="none" stroke-width="1" /><circle cx="607.9" cy="49.9" r="1.7" fill="#4a6591" stroke="none" stroke-width="0" /><text x="618.4" y="29.95" font-size="9" text-anchor="start" font-weight="bold" fill="#000" >w/ PPy</text><text x="618.4" y="41.35" font-size="9" text-anchor="start" font-weight="bold" fill="#000" >w/o PPy</text><text x="618.4" y="53.05" font-size="9" text-anchor="start" font-weight="bold" fill="#000" >Commerce</text><text x="2.3" y="195" font-size="22.6" font-weight="bold" fill="#000" stroke="#000" stroke-width="0.3">d</text><clipPath id="cd1"><rect x="38.9" y="193.3" width="171.79999999999998" height="51.69999999999999"/></clipPath><g clip-path="url(#cd1)"><path d="M38.9 229.2 L42.7 200.7 L56 200.7 L59.7 229.2 L72.65 229.2 L76.45 200.7 L89.75 200.7 L93.45 229.2 L106.4 229.2 L110.2 200.7 L123.5 200.7 L127.2 229.2 L140.15 229.2 L143.95 200.7 L157.25 200.7 L160.95 229.2 L173.9 229.2 L177.7 200.7 L191 200.7 L194.7 229.2 L207.65 229.2 L210.7 206.33" fill="none" stroke="#000" stroke-width="1.2" stroke-linejoin="round" /></g><rect x="38.9" y="193.3" width="171.8" height="51.7" fill="none" stroke="#000" stroke-width="1.3" /><line x1="36.1" y1="200.7" x2="38.9" y2="200.7" stroke="#000" stroke-width="1.2" /><text x="35" y="204.55" font-size="11" text-anchor="end" font-weight="bold" fill="#000" >0.5</text><line x1="36.1" y1="214.8" x2="38.9" y2="214.8" stroke="#000" stroke-width="1.2" /><text x="35" y="218.65" font-size="11" text-anchor="end" font-weight="bold" fill="#000" >0</text><line x1="36.1" y1="229.2" x2="38.9" y2="229.2" stroke="#000" stroke-width="1.2" /><text x="35" y="233.05" font-size="11" text-anchor="end" font-weight="bold" fill="#000" >-0.5</text><line x1="73.6" y1="237.1" x2="85" y2="237.1" stroke="#333" stroke-width="1.6" /><text x="88.8" y="240.11" font-size="8.6" text-anchor="start" font-weight="bold" fill="#000" >Biphasic pulses (vs Ag/AgCl)</text><text x="8.3" y="224.8" font-size="9.7" text-anchor="middle" font-weight="bold" fill="#000" transform="rotate(-90 8.3 221.4)" >Voltage (V)</text><clipPath id="cd2"><rect x="38.9" y="248.3" width="171.79999999999998" height="82.89999999999998"/></clipPath><g clip-path="url(#cd2)"><path d="M38.9 294.86 L42.1 281.68 L44.5 292.71 L48.9 293.63 L55.7 293.94 L59.2 304.98 L61.7 296.24 L66.9 295.32 L72.65 294.86 L75.85 281.68 L78.25 292.71 L82.65 293.63 L89.45 293.94 L92.95 304.98 L95.45 296.24 L100.65 295.32 L106.4 294.86 L109.6 281.68 L112 292.71 L116.4 293.63 L123.2 293.94 L126.7 304.98 L129.2 296.24 L134.4 295.32 L140.15 294.86 L143.35 281.68 L145.75 292.71 L150.15 293.63 L156.95 293.94 L160.45 304.98 L162.95 296.24 L168.15 295.32 L173.9 294.86 L177.1 281.68 L179.5 292.71 L183.9 293.63 L190.7 293.94 L194.2 304.98 L196.7 296.24 L201.9 295.32 L207.65 294.86 L210.85 281.68 L213.25 292.71 L217.65 293.63 L224.45 293.94 L227.95 304.98 L230.45 296.24 L235.65 295.32" fill="none" stroke="#d6a128" stroke-width="1.8" stroke-linejoin="round" /><path d="M38.9 295.32 L42.1 280.45 L45.9 290.87 L48.9 292.1 L52.6 292.71 L55.7 293.33 L59.2 307.58 L62.2 297.93 L64.9 296.85 L68.9 295.93 L72.65 295.32 L75.85 280.45 L79.65 290.87 L82.65 292.1 L86.35 292.71 L89.45 293.33 L92.95 307.58 L95.95 297.93 L98.65 296.85 L102.65 295.93 L106.4 295.32 L109.6 280.45 L113.4 290.87 L116.4 292.1 L120.1 292.71 L123.2 293.33 L126.7 307.58 L129.7 297.93 L132.4 296.85 L136.4 295.93 L140.15 295.32 L143.35 280.45 L147.15 290.87 L150.15 292.1 L153.85 292.71 L156.95 293.33 L160.45 307.58 L163.45 297.93 L166.15 296.85 L170.15 295.93 L173.9 295.32 L177.1 280.45 L180.9 290.87 L183.9 292.1 L187.6 292.71 L190.7 293.33 L194.2 307.58 L197.2 297.93 L199.9 296.85 L203.9 295.93 L207.65 295.32 L210.85 280.45 L214.65 290.87 L217.65 292.1 L221.35 292.71 L224.45 293.33 L227.95 307.58 L230.95 297.93 L233.65 296.85 L237.65 295.93" fill="none" stroke="#5b7394" stroke-width="1.8" stroke-linejoin="round" /><path d="M38.9 307.58 L42.1 273.4 L43.4 275.7 L45.5 277.23 L48.4 279.38 L51.9 281.06 L55.7 282.75 L59.2 316.63 L60.7 313.72 L63 310.96 L65.9 309.73 L68.3 308.96 L72.65 307.58 L75.85 273.4 L77.15 275.7 L79.25 277.23 L82.15 279.38 L85.65 281.06 L89.45 282.75 L92.95 316.63 L94.45 313.72 L96.75 310.96 L99.65 309.73 L102.05 308.96 L106.4 307.58 L109.6 273.4 L110.9 275.7 L113 277.23 L115.9 279.38 L119.4 281.06 L123.2 282.75 L126.7 316.63 L128.2 313.72 L130.5 310.96 L133.4 309.73 L135.8 308.96 L140.15 307.58 L143.35 273.4 L144.65 275.7 L146.75 277.23 L149.65 279.38 L153.15 281.06 L156.95 282.75 L160.45 316.63 L161.95 313.72 L164.25 310.96 L167.15 309.73 L169.55 308.96 L173.9 307.58 L177.1 273.4 L178.4 275.7 L180.5 277.23 L183.4 279.38 L186.9 281.06 L190.7 282.75 L194.2 316.63 L195.7 313.72 L198 310.96 L200.9 309.73 L203.3 308.96 L207.65 307.58 L210.85 273.4 L212.15 275.7 L214.25 277.23 L217.15 279.38 L220.65 281.06 L224.45 282.75 L227.95 316.63 L229.45 313.72 L231.75 310.96 L234.65 309.73 L237.05 308.96" fill="none" stroke="#c8383e" stroke-width="1.3" stroke-linejoin="round" /></g><rect x="38.9" y="248.3" width="171.8" height="82.9" fill="none" stroke="#000" stroke-width="1.3" /><line x1="36.1" y1="257.61" x2="38.9" y2="257.61" stroke="#000" stroke-width="1.2" /><text x="35" y="261.46" font-size="11" text-anchor="end" font-weight="bold" fill="#000" >24</text><line x1="36.1" y1="276" x2="38.9" y2="276" stroke="#000" stroke-width="1.2" /><text x="35" y="279.85" font-size="11" text-anchor="end" font-weight="bold" fill="#000" >12</text><line x1="36.1" y1="294.4" x2="38.9" y2="294.4" stroke="#000" stroke-width="1.2" /><text x="35" y="298.25" font-size="11" text-anchor="end" font-weight="bold" fill="#000" >0</text><line x1="36.1" y1="312.8" x2="38.9" y2="312.8" stroke="#000" stroke-width="1.2" /><text x="35" y="316.65" font-size="11" text-anchor="end" font-weight="bold" fill="#000" >-12</text><line x1="36.1" y1="331.19" x2="38.9" y2="331.19" stroke="#000" stroke-width="1.2" /><text x="35" y="335.04" font-size="11" text-anchor="end" font-weight="bold" fill="#000" >-24</text><line x1="38.9" y1="331.2" x2="38.9" y2="334" stroke="#000" stroke-width="1.2" /><text x="39.4" y="343.65" font-size="11" text-anchor="middle" font-weight="bold" fill="#000" >0.0</text><line x1="55.77" y1="331.2" x2="55.77" y2="332.8" stroke="#000" stroke-width="0.9" /><line x1="72.65" y1="331.2" x2="72.65" y2="334" stroke="#000" stroke-width="1.2" /><text x="73.15" y="343.65" font-size="11" text-anchor="middle" font-weight="bold" fill="#000" >0.5</text><line x1="89.53" y1="331.2" x2="89.53" y2="332.8" stroke="#000" stroke-width="0.9" /><line x1="106.4" y1="331.2" x2="106.4" y2="334" stroke="#000" stroke-width="1.2" /><text x="106.9" y="343.65" font-size="11" text-anchor="middle" font-weight="bold" fill="#000" >1.0</text><line x1="123.28" y1="331.2" x2="123.28" y2="332.8" stroke="#000" stroke-width="0.9" /><line x1="140.15" y1="331.2" x2="140.15" y2="334" stroke="#000" stroke-width="1.2" /><text x="140.65" y="343.65" font-size="11" text-anchor="middle" font-weight="bold" fill="#000" >1.5</text><line x1="157.03" y1="331.2" x2="157.03" y2="332.8" stroke="#000" stroke-width="0.9" /><line x1="173.9" y1="331.2" x2="173.9" y2="334" stroke="#000" stroke-width="1.2" /><text x="174.4" y="343.65" font-size="11" text-anchor="middle" font-weight="bold" fill="#000" >2.0</text><line x1="190.78" y1="331.2" x2="190.78" y2="332.8" stroke="#000" stroke-width="0.9" /><line x1="207.65" y1="331.2" x2="207.65" y2="334" stroke="#000" stroke-width="1.2" /><text x="208.15" y="343.65" font-size="11" text-anchor="middle" font-weight="bold" fill="#000" >2.5</text><text x="130.9" y="357.26" font-size="11.6" text-anchor="middle" font-weight="bold" fill="#000" >Time (sec)</text><text x="4.7" y="284.59" font-size="9.7" text-anchor="middle" font-weight="bold" fill="#000" transform="rotate(-90 4.7 281.2)" >Current density</text><text transform="rotate(-90 12.8 285.2)" x="12.8" y="288.8" font-size="10.8" text-anchor="middle" font-weight="bold">(mA/cm<tspan font-size="6" dy="-3.5">2</tspan><tspan dy="3.5">)</tspan></text><line x1="56" y1="260.6" x2="68.3" y2="260.6" stroke="#d6a128" stroke-width="1.8" /><text x="72.7" y="263.75" font-size="9" text-anchor="start" font-weight="bold" fill="#000" >Au</text><line x1="92.9" y1="260.6" x2="106" y2="260.6" stroke="#5b7394" stroke-width="1.8" /><text x="109.5" y="263.75" font-size="9" text-anchor="start" font-weight="bold" fill="#000" >w/o PPy</text><line x1="151.2" y1="260.6" x2="163.4" y2="260.6" stroke="#c8383e" stroke-width="1.4" /><text x="167.8" y="263.75" font-size="9" text-anchor="start" font-weight="bold" fill="#000" >w/ PPy</text><text x="232.4" y="195" font-size="22.6" font-weight="bold" fill="#000" stroke="#000" stroke-width="0.3">e</text><line x1="269.1" y1="193.3" x2="350.9" y2="193.3" stroke="#000" stroke-width="1.3" /><line x1="269.1" y1="258.9" x2="350.9" y2="258.9" stroke="#000" stroke-width="1.3" /><line x1="357.5" y1="193.3" x2="439.9" y2="193.3" stroke="#000" stroke-width="1.3" /><line x1="357.5" y1="258.9" x2="439.9" y2="258.9" stroke="#000" stroke-width="1.3" /><line x1="269.1" y1="192.65" x2="269.1" y2="259.55" stroke="#000" stroke-width="1.3" /><line x1="439.9" y1="192.65" x2="439.9" y2="259.55" stroke="#000" stroke-width="1.3" /><line x1="269.1" y1="265.2" x2="350.9" y2="265.2" stroke="#000" stroke-width="1.3" /><line x1="269.1" y1="331.2" x2="350.9" y2="331.2" stroke="#000" stroke-width="1.3" /><line x1="357.5" y1="265.2" x2="439.9" y2="265.2" stroke="#000" stroke-width="1.3" /><line x1="357.5" y1="331.2" x2="439.9" y2="331.2" stroke="#000" stroke-width="1.3" /><line x1="269.1" y1="264.55" x2="269.1" y2="331.85" stroke="#000" stroke-width="1.3" /><line x1="439.9" y1="264.55" x2="439.9" y2="331.85" stroke="#000" stroke-width="1.3" /><line x1="269.1" y1="210.6" x2="439.9" y2="210.6" stroke="#d0303a" stroke-width="0.9" stroke-dasharray="2 1.5"/><line x1="269.1" y1="280.4" x2="439.9" y2="280.4" stroke="#222" stroke-width="0.9" stroke-dasharray="2 1.5"/><path d="M269.7 224.22 L270.2 222.43 L270.7 220.7 L271.19 219.04 L271.69 217.48 L272.19 216.04 L272.69 214.73 L273.19 213.57 L273.69 212.58 L274.18 211.77 L274.68 211.16 L275.18 210.74 L275.68 210.53 L276.18 210.52 L276.67 210.73 L277.17 211.14 L277.67 211.74 L278.17 212.54 L278.67 213.52 L279.17 214.67 L279.66 215.98 L280.16 217.42 L280.66 218.97 L281.16 220.63 L281.66 222.36 L282.15 224.14 L282.65 225.95 L283.15 227.77 L283.65 229.57 L284.15 231.33 L284.64 233.02 L285.14 234.63 L285.64 236.13 L286.14 237.5 L286.64 238.73 L287.14 239.79 L287.63 240.69 L288.13 241.39 L288.63 241.9 L289.13 242.2 L289.63 242.3 L290.12 242.19 L290.62 241.87 L291.12 241.35 L291.62 240.64 L292.12 239.74 L292.62 238.66 L293.11 237.43 L293.61 236.05 L294.11 234.54 L294.61 232.93 L295.11 231.23 L295.6 229.47 L296.1 227.67 L296.6 225.85 L297.1 224.04 L297.6 222.26 L298.1 220.53 L298.59 218.88 L299.09 217.33 L299.59 215.9 L300.09 214.61 L300.59 213.47 L301.08 212.49 L301.58 211.7 L302.08 211.11 L302.58 210.71 L303.08 210.52 L303.57 210.53 L304.07 210.76 L304.57 211.19 L305.07 211.81 L305.57 212.63 L306.07 213.63 L306.56 214.8 L307.06 216.11 L307.56 217.56 L308.06 219.13 L308.56 220.79 L309.05 222.53 L309.55 224.32 L310.05 226.13 L310.55 227.95 L311.05 229.74 L311.55 231.5 L312.04 233.18 L312.54 234.78 L313.04 236.27 L313.54 237.63 L314.04 238.84 L314.53 239.89 L315.03 240.76 L315.53 241.45 L316.03 241.94 L316.53 242.22 L317.03 242.3 L317.52 242.17 L318.02 241.83 L318.52 241.29 L319.02 240.56 L319.52 239.64 L320.01 238.55 L320.51 237.3 L321.01 235.91 L321.51 234.39 L322.01 232.77 L322.5 231.06 L323 229.29 L323.5 227.49 L324 225.67 L324.5 223.86 L325 222.09 L325.49 220.37 L325.99 218.73 L326.49 217.19 L326.99 215.77 L327.49 214.49 L327.98 213.36 L328.48 212.41 L328.98 211.64 L329.48 211.06 L329.98 210.68 L330.48 210.51 L330.97 210.55 L331.47 210.79 L331.97 211.24 L332.47 211.89 L332.97 212.72 L333.46 213.74 L333.96 214.92 L334.46 216.25 L334.96 217.71 L335.46 219.29 L335.96 220.96 L336.45 222.7 L336.95 224.49 L337.45 226.31 L337.95 228.12 L338.45 229.92 L338.94 231.67 L339.44 233.34 L339.94 234.93 L340.44 236.41 L340.94 237.75 L341.43 238.95 L341.93 239.98 L342.43 240.84 L342.93 241.5 L343.43 241.97 L343.93 242.24 L344.42 242.29 L344.92 242.14 L345.42 241.79 L345.92 241.23 L346.42 240.48 L346.91 239.54 L347.41 238.43 L347.91 237.17 L348.41 235.76 L348.91 234.23 L349.41 232.6 L349.9 230.89 L350.4 229.12 L350.9 227.31" fill="none" stroke="#4f6d96" stroke-width="1.2" stroke-linejoin="round" /><path d="M357.5 226.8 L358 225.26 L358.5 223.74 L359 222.26 L359.5 220.84 L359.99 219.5 L360.49 218.26 L360.99 217.13 L361.49 216.12 L361.99 215.26 L362.49 214.56 L362.99 214.01 L363.49 213.64 L363.98 213.44 L364.48 213.41 L364.98 213.57 L365.48 213.9 L365.98 214.4 L366.48 215.06 L366.98 215.88 L367.48 216.85 L367.97 217.94 L368.47 219.16 L368.97 220.47 L369.47 221.87 L369.97 223.34 L370.47 224.85 L370.97 226.39 L371.47 227.93 L371.96 229.46 L372.46 230.95 L372.96 232.39 L373.46 233.75 L373.96 235.02 L374.46 236.18 L374.96 237.22 L375.46 238.12 L375.95 238.87 L376.45 239.46 L376.95 239.88 L377.45 240.13 L377.95 240.2 L378.45 240.09 L378.95 239.81 L379.45 239.35 L379.95 238.73 L380.44 237.95 L380.94 237.02 L381.44 235.96 L381.94 234.78 L382.44 233.48 L382.94 232.11 L383.44 230.66 L383.94 229.15 L384.43 227.62 L384.93 226.08 L385.43 224.55 L385.93 223.04 L386.43 221.59 L386.93 220.2 L387.43 218.91 L387.93 217.71 L388.42 216.64 L388.92 215.7 L389.42 214.91 L389.92 214.28 L390.42 213.82 L390.92 213.52 L391.42 213.4 L391.92 213.46 L392.41 213.7 L392.91 214.11 L393.41 214.69 L393.91 215.43 L394.41 216.31 L394.91 217.34 L395.41 218.5 L395.91 219.76 L396.4 221.12 L396.9 222.55 L397.4 224.04 L397.9 225.57 L398.4 227.11 L398.9 228.65 L399.4 230.16 L399.9 231.63 L400.4 233.04 L400.89 234.36 L401.39 235.58 L401.89 236.68 L402.39 237.66 L402.89 238.49 L403.39 239.17 L403.89 239.68 L404.39 240.02 L404.88 240.18 L405.38 240.17 L405.88 239.98 L406.38 239.62 L406.88 239.08 L407.38 238.39 L407.88 237.54 L408.38 236.54 L408.87 235.42 L409.37 234.18 L409.87 232.85 L410.37 231.44 L410.87 229.96 L411.37 228.44 L411.87 226.9 L412.37 225.36 L412.86 223.84 L413.36 222.36 L413.86 220.93 L414.36 219.59 L414.86 218.34 L415.36 217.2 L415.86 216.19 L416.36 215.32 L416.85 214.6 L417.35 214.04 L417.85 213.66 L418.35 213.44 L418.85 213.41 L419.35 213.55 L419.85 213.87 L420.35 214.36 L420.85 215.01 L421.34 215.82 L421.84 216.78 L422.34 217.87 L422.84 219.08 L423.34 220.39 L423.84 221.78 L424.34 223.24 L424.84 224.75 L425.33 226.29 L425.83 227.83 L426.33 229.36 L426.83 230.85 L427.33 232.3 L427.83 233.66 L428.33 234.94 L428.83 236.11 L429.32 237.16 L429.82 238.07 L430.32 238.83 L430.82 239.43 L431.32 239.86 L431.82 240.12 L432.32 240.2 L432.82 240.1 L433.31 239.83 L433.81 239.39 L434.31 238.78 L434.81 238.01 L435.31 237.09 L435.81 236.03 L436.31 234.86 L436.81 233.57 L437.3 232.2 L437.8 230.75 L438.3 229.25 L438.8 227.72 L439.3 226.18" fill="none" stroke="#4f6d96" stroke-width="1.2" stroke-linejoin="round" /><path d="M269.7 295.83 L270.2 293.81 L270.7 291.85 L271.19 289.97 L271.69 288.2 L272.19 286.57 L272.69 285.08 L273.19 283.78 L273.69 282.66 L274.18 281.74 L274.68 281.04 L275.18 280.57 L275.68 280.33 L276.18 280.33 L276.67 280.56 L277.17 281.02 L277.67 281.71 L278.17 282.61 L278.67 283.72 L279.17 285.03 L279.66 286.5 L280.16 288.13 L280.66 289.89 L281.16 291.76 L281.66 293.72 L282.15 295.74 L282.65 297.79 L283.15 299.85 L283.65 301.89 L284.15 303.88 L284.64 305.8 L285.14 307.62 L285.64 309.31 L286.14 310.87 L286.64 312.26 L287.14 313.46 L287.63 314.47 L288.13 315.27 L288.63 315.84 L289.13 316.19 L289.63 316.3 L290.12 316.18 L290.62 315.82 L291.12 315.23 L291.62 314.42 L292.12 313.4 L292.62 312.18 L293.11 310.79 L293.61 309.22 L294.11 307.52 L294.61 305.69 L295.11 303.77 L295.6 301.78 L296.1 299.74 L296.6 297.68 L297.1 295.63 L297.6 293.61 L298.1 291.66 L298.59 289.79 L299.09 288.04 L299.59 286.41 L300.09 284.95 L300.59 283.66 L301.08 282.56 L301.58 281.66 L302.08 280.99 L302.58 280.54 L303.08 280.32 L303.57 280.34 L304.07 280.59 L304.57 281.08 L305.07 281.79 L305.57 282.71 L306.07 283.84 L306.56 285.16 L307.06 286.65 L307.56 288.3 L308.06 290.07 L308.56 291.95 L309.05 293.92 L309.55 295.94 L310.05 297.99 L310.55 300.05 L311.05 302.09 L311.55 304.07 L312.04 305.98 L312.54 307.79 L313.04 309.47 L313.54 311.01 L314.04 312.38 L314.53 313.57 L315.03 314.56 L315.53 315.33 L316.03 315.89 L316.53 316.21 L317.03 316.3 L317.52 316.15 L318.02 315.77 L318.52 315.16 L319.02 314.33 L319.52 313.29 L320.01 312.05 L320.51 310.64 L321.01 309.06 L321.51 307.34 L322.01 305.51 L322.5 303.58 L323 301.58 L323.5 299.53 L324 297.48 L324.5 295.43 L325 293.42 L325.49 291.47 L325.99 289.61 L326.49 287.87 L326.99 286.26 L327.49 284.81 L327.98 283.54 L328.48 282.46 L328.98 281.59 L329.48 280.93 L329.98 280.51 L330.48 280.31 L330.97 280.35 L331.47 280.63 L331.97 281.14 L332.47 281.87 L332.97 282.82 L333.46 283.96 L333.96 285.3 L334.46 286.81 L334.96 288.47 L335.46 290.25 L335.96 292.14 L336.45 294.11 L336.95 296.14 L337.45 298.2 L337.95 300.25 L338.45 302.28 L338.94 304.26 L339.44 306.16 L339.94 307.96 L340.44 309.63 L340.94 311.15 L341.43 312.51 L341.93 313.68 L342.43 314.65 L342.93 315.4 L343.43 315.93 L343.93 316.23 L344.42 316.29 L344.92 316.12 L345.42 315.72 L345.92 315.09 L346.42 314.24 L346.91 313.18 L347.41 311.92 L347.91 310.49 L348.41 308.9 L348.91 307.17 L349.41 305.32 L349.9 303.38 L350.4 301.38 L350.9 299.33" fill="none" stroke="#b8343a" stroke-width="1.2" stroke-linejoin="round" /><path d="M357.5 299.13 L358 297.06 L358.5 295 L359 292.99 L359.5 291.05 L359.99 289.2 L360.49 287.48 L360.99 285.9 L361.49 284.48 L361.99 283.24 L362.49 282.21 L362.99 281.39 L363.49 280.79 L363.98 280.43 L364.48 280.3 L364.98 280.41 L365.48 280.76 L365.98 281.34 L366.48 282.15 L366.98 283.17 L367.48 284.39 L367.97 285.79 L368.47 287.36 L368.97 289.08 L369.47 290.92 L369.97 292.85 L370.47 294.86 L370.97 296.92 L371.47 298.99 L371.96 301.05 L372.46 303.08 L372.96 305.04 L373.46 306.92 L373.96 308.68 L374.46 310.3 L374.96 311.76 L375.46 313.05 L375.95 314.13 L376.45 315.01 L376.95 315.67 L377.45 316.1 L377.95 316.29 L378.45 316.24 L378.95 315.96 L379.45 315.44 L379.95 314.69 L380.44 313.73 L380.94 312.56 L381.44 311.2 L381.94 309.67 L382.44 307.99 L382.94 306.18 L383.44 304.27 L383.94 302.28 L384.43 300.23 L384.93 298.16 L385.43 296.09 L385.93 294.06 L386.43 292.07 L386.93 290.17 L387.43 288.38 L387.93 286.72 L388.42 285.21 L388.92 283.88 L389.42 282.74 L389.92 281.8 L390.42 281.08 L390.92 280.59 L391.42 280.34 L391.92 280.32 L392.41 280.54 L392.91 281 L393.41 281.69 L393.91 282.6 L394.41 283.71 L394.91 285.02 L395.41 286.51 L395.91 288.15 L396.4 289.92 L396.9 291.81 L397.4 293.79 L397.9 295.82 L398.4 297.88 L398.9 299.96 L399.4 302.01 L399.9 304.01 L400.4 305.93 L400.89 307.75 L401.39 309.45 L401.89 311 L402.39 312.38 L402.89 313.58 L403.39 314.57 L403.89 315.35 L404.39 315.9 L404.88 316.22 L405.38 316.3 L405.88 316.14 L406.38 315.74 L406.88 315.12 L407.38 314.27 L407.88 313.2 L408.38 311.95 L408.87 310.51 L409.37 308.9 L409.87 307.16 L410.37 305.3 L410.87 303.35 L411.37 301.33 L411.87 299.27 L412.37 297.2 L412.86 295.14 L413.36 293.12 L413.86 291.17 L414.36 289.32 L414.86 287.59 L415.36 285.99 L415.86 284.57 L416.36 283.32 L416.85 282.27 L417.35 281.44 L417.85 280.82 L418.35 280.44 L418.85 280.3 L419.35 280.4 L419.85 280.73 L420.35 281.3 L420.85 282.09 L421.34 283.09 L421.84 284.3 L422.34 285.69 L422.84 287.26 L423.34 288.96 L423.84 290.79 L424.34 292.72 L424.84 294.73 L425.33 296.78 L425.83 298.85 L426.33 300.92 L426.83 302.95 L427.33 304.92 L427.83 306.8 L428.33 308.56 L428.83 310.2 L429.32 311.67 L429.82 312.97 L430.32 314.07 L430.82 314.96 L431.32 315.63 L431.82 316.08 L432.32 316.28 L432.82 316.25 L433.31 315.98 L433.81 315.48 L434.31 314.75 L434.81 313.8 L435.31 312.64 L435.81 311.29 L436.31 309.78 L436.81 308.11 L437.3 306.31 L437.8 304.4 L438.3 302.41 L438.8 300.37 L439.3 298.3" fill="none" stroke="#b8343a" stroke-width="1.2" stroke-linejoin="round" /><line x1="266.3" y1="204.2" x2="269.1" y2="204.2" stroke="#000" stroke-width="1.2" /><text x="265.2" y="208.05" font-size="11" text-anchor="end" font-weight="bold" fill="#000" >8</text><line x1="266.3" y1="226.4" x2="269.1" y2="226.4" stroke="#000" stroke-width="1.2" /><text x="265.2" y="230.25" font-size="11" text-anchor="end" font-weight="bold" fill="#000" >0</text><line x1="266.3" y1="248.3" x2="269.1" y2="248.3" stroke="#000" stroke-width="1.2" /><text x="265.2" y="252.15" font-size="11" text-anchor="end" font-weight="bold" fill="#000" >-8</text><line x1="266.3" y1="276" x2="269.1" y2="276" stroke="#000" stroke-width="1.2" /><text x="265.2" y="279.85" font-size="11" text-anchor="end" font-weight="bold" fill="#000" >220</text><line x1="266.3" y1="298.3" x2="269.1" y2="298.3" stroke="#000" stroke-width="1.2" /><text x="265.2" y="302.15" font-size="11" text-anchor="end" font-weight="bold" fill="#000" >0</text><line x1="266.3" y1="320.7" x2="269.1" y2="320.7" stroke="#000" stroke-width="1.2" /><text x="265.2" y="324.55" font-size="11" text-anchor="end" font-weight="bold" fill="#000" >-220</text><line x1="267.5" y1="215.3" x2="269.1" y2="215.3" stroke="#000" stroke-width="0.9" /><line x1="267.5" y1="237.3" x2="269.1" y2="237.3" stroke="#000" stroke-width="0.9" /><line x1="267.5" y1="287.1" x2="269.1" y2="287.1" stroke="#000" stroke-width="0.9" /><line x1="267.5" y1="309.5" x2="269.1" y2="309.5" stroke="#000" stroke-width="0.9" /><line x1="296.3" y1="258.9" x2="296.3" y2="257.1" stroke="#000" stroke-width="0.9" /><line x1="296.3" y1="331.2" x2="296.3" y2="333.8" stroke="#000" stroke-width="1.1" /><line x1="324" y1="258.9" x2="324" y2="257.1" stroke="#000" stroke-width="0.9" /><line x1="324" y1="331.2" x2="324" y2="333.8" stroke="#000" stroke-width="1.1" /><line x1="385.2" y1="258.9" x2="385.2" y2="257.1" stroke="#000" stroke-width="0.9" /><line x1="385.2" y1="331.2" x2="385.2" y2="333.8" stroke="#000" stroke-width="1.1" /><line x1="412.2" y1="258.9" x2="412.2" y2="257.1" stroke="#000" stroke-width="0.9" /><line x1="412.2" y1="331.2" x2="412.2" y2="333.8" stroke="#000" stroke-width="1.1" /><text x="269.6" y="344.65" font-size="11" text-anchor="middle" font-weight="bold" fill="#000" >0</text><text x="324" y="344.65" font-size="11" text-anchor="middle" font-weight="bold" fill="#000" >2</text><text x="358.4" y="344.65" font-size="11" text-anchor="middle" font-weight="bold" fill="#000" >0</text><text x="412.2" y="344.65" font-size="11" text-anchor="middle" font-weight="bold" fill="#000" >2</text><text x="357" y="355.86" font-size="11.6" text-anchor="middle" font-weight="bold" fill="#000" >Time (sec)</text><text x="239.5" y="265.01" font-size="10.9" text-anchor="middle" font-weight="bold" fill="#000" transform="rotate(-90 239.5 261.2)" >Current (μA)</text><text x="309.1" y="205.84" font-size="8.7" text-anchor="middle" font-weight="bold" fill="#000" >First 3 cycles</text><text x="399.2" y="205.84" font-size="8.7" text-anchor="middle" font-weight="bold" fill="#000" >1000 cycles</text><text x="309.1" y="276.94" font-size="8.7" text-anchor="middle" font-weight="bold" fill="#000" >First 3 cycles</text><text x="399.2" y="276.94" font-size="8.7" text-anchor="middle" font-weight="bold" fill="#000" >1000 cycles</text><line x1="285.4" y1="250" x2="297.7" y2="250" stroke="#4f6d96" stroke-width="1.7" /><text x="303.8" y="253.04" font-size="8.7" text-anchor="start" font-weight="bold" fill="#000" >w/o PPy</text><text x="398.7" y="253.04" font-size="8.7" text-anchor="middle" font-weight="bold" fill="#000" >Distortion</text><line x1="286.3" y1="322.4" x2="298.6" y2="322.4" stroke="#b8343a" stroke-width="1.7" /><text x="304.7" y="325.44" font-size="8.7" text-anchor="start" font-weight="bold" fill="#000" >w/ PPy</text><text x="399.6" y="326.85" font-size="8.7" text-anchor="middle" font-weight="bold" fill="#000" >No distortion</text><text x="455.6" y="194.9" font-size="22.6" font-weight="bold" fill="#000" stroke="#000" stroke-width="0.3">f</text><line x1="492.9" y1="192.8" x2="524.5" y2="192.8" stroke="#000" stroke-width="1.3" /><line x1="492.9" y1="331.2" x2="524.5" y2="331.2" stroke="#000" stroke-width="1.3" /><line x1="529.7" y1="192.8" x2="592.7" y2="192.8" stroke="#000" stroke-width="1.3" /><line x1="529.7" y1="331.2" x2="592.7" y2="331.2" stroke="#000" stroke-width="1.3" /><line x1="597.9" y1="192.8" x2="676.2" y2="192.8" stroke="#000" stroke-width="1.3" /><line x1="597.9" y1="331.2" x2="676.2" y2="331.2" stroke="#000" stroke-width="1.3" /><line x1="492.9" y1="192.15" x2="492.9" y2="331.85" stroke="#000" stroke-width="1.3" /><line x1="676.2" y1="192.15" x2="676.2" y2="331.85" stroke="#000" stroke-width="1.3" /><path d="M493.6 249.79 L494 245.4 L494.39 241.42 L494.79 237.97 L495.18 235.13 L495.58 232.97 L495.98 231.55 L496.37 230.9 L496.77 231.04 L497.17 231.97 L497.56 233.66 L497.96 236.07 L498.35 239.14 L498.75 242.8 L499.15 246.93 L499.54 251.46 L499.94 256.24 L500.33 261.18 L500.73 266.14 L501.13 270.99 L501.52 275.61 L501.92 279.89 L502.32 283.71 L502.71 286.98 L503.11 289.62 L503.5 291.55 L503.9 292.74 L504.3 293.14 L504.69 292.75 L505.09 291.58 L505.48 289.66 L505.88 287.04 L506.28 283.78 L506.67 279.97 L507.07 275.7 L507.47 271.08 L507.86 266.23 L508.26 261.28 L508.65 256.34 L509.05 251.55 L509.45 247.02 L509.84 242.87 L510.24 239.21 L510.63 236.13 L511.03 233.7 L511.43 232 L511.82 231.05 L512.22 230.9 L512.62 231.53 L513.01 232.94 L513.41 235.08 L513.8 237.91 L514.2 241.35 L514.6 245.32 L514.99 249.71 L515.39 254.41 L515.78 259.3 L516.18 264.27 L516.58 269.17 L516.97 273.89 L517.37 278.32 L517.77 282.32 L518.16 285.81 L518.56 288.7 L518.95 290.91 L519.35 292.38 L519.75 293.08 L520.14 292.99 L520.54 292.12 L520.93 290.48 L521.33 288.11 L521.73 285.08 L522.12 281.47 L522.52 277.36 L522.92 272.86 L523.31 268.09 L523.71 263.16 L524.1 258.2 L524.5 253.34" fill="none" stroke="#3e6294" stroke-width="1.5" stroke-linejoin="round" stroke-dasharray="4 1.8 1.2 1.8"/><path d="M493.6 237.59 L494 228.8 L494.39 220.85 L494.79 213.94 L495.18 208.26 L495.58 203.94 L495.98 201.1 L496.37 199.8 L496.77 200.09 L497.17 201.94 L497.56 205.33 L497.96 210.15 L498.35 216.29 L498.75 223.59 L499.15 231.87 L499.54 240.91 L499.94 250.49 L500.33 260.36 L500.73 270.27 L501.13 279.98 L501.52 289.22 L501.92 297.78 L502.32 305.42 L502.71 311.96 L503.11 317.24 L503.5 321.11 L503.9 323.47 L504.3 324.28 L504.69 323.5 L505.09 321.17 L505.48 317.32 L505.88 312.08 L506.28 305.56 L506.67 297.93 L507.07 289.39 L507.47 280.16 L507.86 270.46 L508.26 260.55 L508.65 250.68 L509.05 241.09 L509.45 232.04 L509.84 223.74 L510.24 216.42 L510.63 210.26 L511.03 205.41 L511.43 201.99 L511.82 200.11 L512.22 199.79 L512.62 201.06 L513.01 203.87 L513.41 208.16 L513.8 213.82 L514.2 220.7 L514.6 228.63 L514.99 237.41 L515.39 246.81 L515.78 256.6 L516.18 266.53 L516.58 276.34 L516.97 285.79 L517.37 294.63 L517.77 302.65 L518.16 309.63 L518.56 315.4 L518.95 319.81 L519.35 322.76 L519.75 324.16 L520.14 323.98 L520.54 322.23 L520.93 318.95 L521.33 314.22 L521.73 308.17 L522.12 300.94 L522.52 292.72 L522.92 283.72 L523.31 274.17 L523.71 264.31 L524.1 254.4 L524.5 244.67" fill="none" stroke="#b8282f" stroke-width="1.3" stroke-linejoin="round" /><path d="M529.7 260.74 L530.1 258.73 L530.5 256.75 L530.9 254.8 L531.29 252.9 L531.69 251.06 L532.09 249.29 L532.49 247.6 L532.89 246 L533.29 244.51 L533.69 243.14 L534.09 241.89 L534.48 240.77 L534.88 239.78 L535.28 238.95 L535.68 238.26 L536.08 237.73 L536.48 237.35 L536.88 237.14 L537.28 237.09 L537.67 237.2 L538.07 237.48 L538.47 237.91 L538.87 238.5 L539.27 239.25 L539.67 240.14 L540.07 241.18 L540.47 242.35 L540.86 243.65 L541.26 245.07 L541.66 246.6 L542.06 248.23 L542.46 249.95 L542.86 251.75 L543.26 253.62 L543.66 255.54 L544.05 257.5 L544.45 259.5 L544.85 261.5 L545.25 263.52 L545.65 265.52 L546.05 267.5 L546.45 269.44 L546.85 271.34 L547.24 273.17 L547.64 274.93 L548.04 276.61 L548.44 278.19 L548.84 279.67 L549.24 281.03 L549.64 282.26 L550.04 283.37 L550.43 284.33 L550.83 285.15 L551.23 285.82 L551.63 286.33 L552.03 286.68 L552.43 286.87 L552.83 286.9 L553.23 286.77 L553.62 286.48 L554.02 286.02 L554.42 285.41 L554.82 284.65 L555.22 283.74 L555.62 282.68 L556.02 281.49 L556.42 280.18 L556.81 278.74 L557.21 277.2 L557.61 275.56 L558.01 273.82 L558.41 272.01 L558.81 270.14 L559.21 268.21 L559.61 266.25 L560 264.25 L560.4 262.24 L560.8 260.23 L561.2 258.23 L561.6 256.25 L562 254.31 L562.4 252.43 L562.79 250.6 L563.19 248.85 L563.59 247.18 L563.99 245.62 L564.39 244.15 L564.79 242.81 L565.19 241.59 L565.59 240.5 L565.98 239.56 L566.38 238.76 L566.78 238.11 L567.18 237.62 L567.58 237.28 L567.98 237.11 L568.38 237.1 L568.78 237.26 L569.17 237.57 L569.57 238.05 L569.97 238.68 L570.37 239.46 L570.77 240.39 L571.17 241.46 L571.57 242.67 L571.97 244 L572.36 245.45 L572.76 247.01 L573.16 248.66 L573.56 250.4 L573.96 252.22 L574.36 254.1 L574.76 256.03 L575.16 258.01 L575.55 260 L575.95 262.02 L576.35 264.03 L576.75 266.02 L577.15 268 L577.55 269.93 L577.95 271.81 L578.35 273.63 L578.74 275.37 L579.14 277.02 L579.54 278.58 L579.94 280.02 L580.34 281.35 L580.74 282.56 L581.14 283.62 L581.54 284.55 L581.93 285.33 L582.33 285.96 L582.73 286.43 L583.13 286.75 L583.53 286.9 L583.93 286.89 L584.33 286.71 L584.73 286.38 L585.12 285.88 L585.52 285.23 L585.92 284.43 L586.32 283.48 L586.72 282.39 L587.12 281.17 L587.52 279.82 L587.92 278.36 L588.31 276.79 L588.71 275.12 L589.11 273.37 L589.51 271.54 L589.91 269.66 L590.31 267.72 L590.71 265.74 L591.11 263.74 L591.5 261.73 L591.9 259.72 L592.3 257.72 L592.7 255.76" fill="none" stroke="#3e6294" stroke-width="1.5" stroke-linejoin="round" stroke-dasharray="4 1.8 1.2 1.8"/><path d="M529.7 259.06 L530.1 254.38 L530.5 249.75 L530.9 245.2 L531.29 240.77 L531.69 236.47 L532.09 232.34 L532.49 228.4 L532.89 224.68 L533.29 221.2 L533.69 217.99 L534.09 215.07 L534.48 212.45 L534.88 210.16 L535.28 208.21 L535.68 206.61 L536.08 205.36 L536.48 204.49 L536.88 204 L537.28 203.88 L537.67 204.14 L538.07 204.78 L538.47 205.79 L538.87 207.17 L539.27 208.91 L539.67 211 L540.07 213.41 L540.47 216.15 L540.86 219.18 L541.26 222.5 L541.66 226.07 L542.06 229.87 L542.46 233.89 L542.86 238.09 L543.26 242.44 L543.66 246.93 L544.05 251.51 L544.45 256.16 L544.85 260.84 L545.25 265.54 L545.65 270.21 L546.05 274.83 L546.45 279.37 L546.85 283.79 L547.24 288.07 L547.64 292.18 L548.04 296.09 L548.44 299.78 L548.84 303.22 L549.24 306.4 L549.64 309.28 L550.04 311.86 L550.43 314.11 L550.83 316.02 L551.23 317.57 L551.63 318.77 L552.03 319.59 L552.43 320.04 L552.83 320.11 L553.23 319.8 L553.62 319.11 L554.02 318.05 L554.42 316.63 L554.82 314.84 L555.22 312.72 L555.62 310.26 L556.02 307.48 L556.42 304.41 L556.81 301.06 L557.21 297.46 L557.61 293.63 L558.01 289.59 L558.41 285.37 L558.81 280.99 L559.21 276.5 L559.61 271.91 L560 267.25 L560.4 262.56 L560.8 257.87 L561.2 253.2 L561.6 248.59 L562 244.07 L562.4 239.66 L562.79 235.4 L563.19 231.32 L563.59 227.43 L563.99 223.77 L564.39 220.36 L564.79 217.22 L565.19 214.38 L565.59 211.84 L565.98 209.63 L566.38 207.77 L566.78 206.26 L567.18 205.11 L567.58 204.33 L567.98 203.93 L568.38 203.91 L568.78 204.27 L569.17 205 L569.57 206.11 L569.97 207.58 L570.37 209.41 L570.77 211.58 L571.17 214.08 L571.57 216.89 L571.97 220 L572.36 223.38 L572.76 227.01 L573.16 230.87 L573.56 234.94 L573.96 239.18 L574.36 243.57 L574.76 248.08 L575.16 252.68 L575.55 257.34 L575.95 262.04 L576.35 266.73 L576.75 271.39 L577.15 275.99 L577.55 280.5 L577.95 284.89 L578.35 289.13 L578.74 293.19 L579.14 297.05 L579.54 300.68 L579.94 304.05 L580.34 307.16 L580.74 309.96 L581.14 312.46 L581.54 314.62 L581.93 316.44 L582.33 317.91 L582.73 319.01 L583.13 319.74 L583.53 320.09 L583.93 320.07 L584.33 319.66 L584.73 318.88 L585.12 317.72 L585.52 316.21 L585.92 314.33 L586.32 312.12 L586.72 309.58 L587.12 306.73 L587.52 303.59 L587.92 300.17 L588.31 296.51 L588.71 292.62 L589.11 288.53 L589.51 284.27 L589.91 279.86 L590.31 275.34 L590.71 270.73 L591.11 266.06 L591.5 261.37 L591.9 256.68 L592.3 252.02 L592.7 247.43" fill="none" stroke="#b8282f" stroke-width="1.3" stroke-linejoin="round" /><path d="M597.9 263.08 L598.3 262.47 L598.7 261.85 L599.09 261.24 L599.49 260.62 L599.89 260.01 L600.29 259.4 L600.69 258.79 L601.08 258.19 L601.48 257.59 L601.88 256.99 L602.28 256.4 L602.68 255.81 L603.07 255.23 L603.47 254.66 L603.87 254.1 L604.27 253.54 L604.67 252.99 L605.06 252.45 L605.46 251.92 L605.86 251.4 L606.26 250.89 L606.65 250.39 L607.05 249.91 L607.45 249.43 L607.85 248.97 L608.25 248.52 L608.64 248.09 L609.04 247.67 L609.44 247.26 L609.84 246.87 L610.24 246.49 L610.63 246.13 L611.03 245.79 L611.43 245.46 L611.83 245.15 L612.23 244.85 L612.62 244.57 L613.02 244.31 L613.42 244.07 L613.82 243.85 L614.22 243.64 L614.61 243.45 L615.01 243.29 L615.41 243.14 L615.81 243.01 L616.21 242.89 L616.6 242.8 L617 242.73 L617.4 242.67 L617.8 242.64 L618.2 242.62 L618.59 242.63 L618.99 242.65 L619.39 242.7 L619.79 242.76 L620.19 242.84 L620.58 242.94 L620.98 243.07 L621.38 243.2 L621.78 243.36 L622.17 243.54 L622.57 243.74 L622.97 243.95 L623.37 244.19 L623.77 244.44 L624.16 244.7 L624.56 244.99 L624.96 245.29 L625.36 245.61 L625.76 245.95 L626.15 246.3 L626.55 246.67 L626.95 247.05 L627.35 247.45 L627.75 247.87 L628.14 248.29 L628.54 248.73 L628.94 249.19 L629.34 249.66 L629.74 250.14 L630.13 250.63 L630.53 251.13 L630.93 251.65 L631.33 252.17 L631.73 252.71 L632.12 253.25 L632.52 253.8 L632.92 254.36 L633.32 254.93 L633.72 255.51 L634.11 256.09 L634.51 256.68 L634.91 257.27 L635.31 257.87 L635.71 258.47 L636.1 259.08 L636.5 259.69 L636.9 260.3 L637.3 260.91 L637.69 261.53 L638.09 262.14 L638.49 262.76 L638.89 263.37 L639.29 263.98 L639.68 264.59 L640.08 265.2 L640.48 265.81 L640.88 266.41 L641.28 267 L641.67 267.6 L642.07 268.18 L642.47 268.76 L642.87 269.33 L643.27 269.9 L643.66 270.46 L644.06 271.01 L644.46 271.54 L644.86 272.08 L645.26 272.6 L645.65 273.1 L646.05 273.6 L646.45 274.09 L646.85 274.56 L647.25 275.03 L647.64 275.47 L648.04 275.91 L648.44 276.33 L648.84 276.74 L649.24 277.13 L649.63 277.5 L650.03 277.87 L650.43 278.21 L650.83 278.54 L651.23 278.85 L651.62 279.15 L652.02 279.42 L652.42 279.68 L652.82 279.93 L653.21 280.15 L653.61 280.36 L654.01 280.54 L654.41 280.71 L654.81 280.86 L655.2 280.99 L655.6 281.11 L656 281.2 L656.4 281.27 L656.8 281.33 L657.19 281.36 L657.59 281.38 L657.99 281.37 L658.39 281.35 L658.79 281.3 L659.18 281.24 L659.58 281.16 L659.98 281.06 L660.38 280.94 L660.78 280.8 L661.17 280.64 L661.57 280.46 L661.97 280.26 L662.37 280.05 L662.77 279.82 L663.16 279.57 L663.56 279.3 L663.96 279.01 L664.36 278.71 L664.76 278.39 L665.15 278.05 L665.55 277.7 L665.95 277.33 L666.35 276.95 L666.75 276.55 L667.14 276.14 L667.54 275.71 L667.94 275.27 L668.34 274.81 L668.73 274.35 L669.13 273.87 L669.53 273.38 L669.93 272.87 L670.33 272.36 L670.72 271.83 L671.12 271.3 L671.52 270.75 L671.92 270.2 L672.32 269.64 L672.71 269.07 L673.11 268.5 L673.51 267.91 L673.91 267.33 L674.31 266.73 L674.7 266.13 L675.1 265.53 L675.5 264.92" fill="none" stroke="#3e6294" stroke-width="1.5" stroke-linejoin="round" stroke-dasharray="4 1.8 1.2 1.8"/><path d="M597.9 264.86 L598.3 263.23 L598.7 261.61 L599.09 259.98 L599.49 258.36 L599.89 256.74 L600.29 255.13 L600.69 253.52 L601.08 251.93 L601.48 250.34 L601.88 248.76 L602.28 247.2 L602.68 245.65 L603.07 244.12 L603.47 242.61 L603.87 241.11 L604.27 239.64 L604.67 238.19 L605.06 236.76 L605.46 235.36 L605.86 233.99 L606.26 232.64 L606.65 231.33 L607.05 230.04 L607.45 228.79 L607.85 227.57 L608.25 226.38 L608.64 225.23 L609.04 224.12 L609.44 223.05 L609.84 222.01 L610.24 221.02 L610.63 220.06 L611.03 219.15 L611.43 218.28 L611.83 217.46 L612.23 216.68 L612.62 215.95 L613.02 215.26 L613.42 214.62 L613.82 214.03 L614.22 213.48 L614.61 212.99 L615.01 212.54 L615.41 212.15 L615.81 211.8 L616.21 211.5 L616.6 211.26 L617 211.07 L617.4 210.92 L617.8 210.83 L618.2 210.79 L618.59 210.81 L618.99 210.87 L619.39 210.99 L619.79 211.15 L620.19 211.37 L620.58 211.64 L620.98 211.96 L621.38 212.33 L621.78 212.75 L622.17 213.22 L622.57 213.74 L622.97 214.3 L623.37 214.92 L623.77 215.58 L624.16 216.29 L624.56 217.04 L624.96 217.85 L625.36 218.69 L625.76 219.58 L626.15 220.51 L626.55 221.48 L626.95 222.5 L627.35 223.55 L627.75 224.64 L628.14 225.77 L628.54 226.94 L628.94 228.14 L629.34 229.38 L629.74 230.65 L630.13 231.95 L630.53 233.28 L630.93 234.64 L631.33 236.02 L631.73 237.44 L632.12 238.87 L632.52 240.34 L632.92 241.82 L633.32 243.32 L633.72 244.84 L634.11 246.38 L634.51 247.94 L634.91 249.51 L635.31 251.09 L635.71 252.68 L636.1 254.28 L636.5 255.89 L636.9 257.51 L637.3 259.13 L637.69 260.75 L638.09 262.38 L638.49 264 L638.89 265.63 L639.29 267.24 L639.68 268.86 L640.08 270.46 L640.48 272.06 L640.88 273.65 L641.28 275.23 L641.67 276.79 L642.07 278.34 L642.47 279.87 L642.87 281.38 L643.27 282.88 L643.66 284.35 L644.06 285.8 L644.46 287.23 L644.86 288.63 L645.26 290 L645.65 291.35 L646.05 292.66 L646.45 293.95 L646.85 295.2 L647.25 296.42 L647.64 297.61 L648.04 298.76 L648.44 299.87 L648.84 300.95 L649.24 301.98 L649.63 302.98 L650.03 303.93 L650.43 304.84 L650.83 305.71 L651.23 306.53 L651.62 307.31 L652.02 308.05 L652.42 308.73 L652.82 309.38 L653.21 309.97 L653.61 310.51 L654.01 311.01 L654.41 311.45 L654.81 311.85 L655.2 312.2 L655.6 312.49 L656 312.74 L656.4 312.93 L656.8 313.08 L657.19 313.17 L657.59 313.21 L657.99 313.19 L658.39 313.13 L658.79 313.02 L659.18 312.85 L659.58 312.63 L659.98 312.36 L660.38 312.05 L660.78 311.68 L661.17 311.26 L661.57 310.79 L661.97 310.27 L662.37 309.7 L662.77 309.09 L663.16 308.43 L663.56 307.72 L663.96 306.96 L664.36 306.16 L664.76 305.32 L665.15 304.43 L665.55 303.5 L665.95 302.52 L666.35 301.51 L666.75 300.46 L667.14 299.37 L667.54 298.24 L667.94 297.07 L668.34 295.87 L668.73 294.63 L669.13 293.36 L669.53 292.06 L669.93 290.73 L670.33 289.37 L670.72 287.99 L671.12 286.57 L671.52 285.14 L671.92 283.68 L672.32 282.19 L672.71 280.69 L673.11 279.17 L673.51 277.63 L673.91 276.07 L674.31 274.5 L674.7 272.92 L675.1 271.33 L675.5 269.73" fill="none" stroke="#b8282f" stroke-width="1.3" stroke-linejoin="round" /><line x1="490.1" y1="192.8" x2="492.9" y2="192.8" stroke="#000" stroke-width="1.2" /><text x="489" y="196.65" font-size="11" text-anchor="end" font-weight="bold" fill="#000" >100</text><line x1="490.1" y1="227.4" x2="492.9" y2="227.4" stroke="#000" stroke-width="1.2" /><text x="489" y="231.25" font-size="11" text-anchor="end" font-weight="bold" fill="#000" >50</text><line x1="490.1" y1="262" x2="492.9" y2="262" stroke="#000" stroke-width="1.2" /><text x="489" y="265.85" font-size="11" text-anchor="end" font-weight="bold" fill="#000" >0</text><line x1="490.1" y1="296.6" x2="492.9" y2="296.6" stroke="#000" stroke-width="1.2" /><text x="489" y="300.45" font-size="11" text-anchor="end" font-weight="bold" fill="#000" >-50</text><line x1="490.1" y1="331.2" x2="492.9" y2="331.2" stroke="#000" stroke-width="1.2" /><text x="489" y="335.05" font-size="11" text-anchor="end" font-weight="bold" fill="#000" >-100</text><line x1="491.3" y1="210.1" x2="492.9" y2="210.1" stroke="#000" stroke-width="0.9" /><line x1="491.3" y1="244.7" x2="492.9" y2="244.7" stroke="#000" stroke-width="0.9" /><line x1="491.3" y1="279.3" x2="492.9" y2="279.3" stroke="#000" stroke-width="0.9" /><line x1="491.3" y1="313.9" x2="492.9" y2="313.9" stroke="#000" stroke-width="0.9" /><line x1="508.8" y1="331.2" x2="508.8" y2="333.8" stroke="#000" stroke-width="1.1" /><text x="508.8" y="344.35" font-size="11" text-anchor="middle" font-weight="bold" fill="#000" >10 Hz</text><line x1="560.8" y1="331.2" x2="560.8" y2="333.8" stroke="#000" stroke-width="1.1" /><text x="560.8" y="344.35" font-size="11" text-anchor="middle" font-weight="bold" fill="#000" >5 Hz</text><line x1="637.2" y1="331.2" x2="637.2" y2="333.8" stroke="#000" stroke-width="1.1" /><text x="637.2" y="344.35" font-size="11" text-anchor="middle" font-weight="bold" fill="#000" >2 Hz</text><line x1="613.2" y1="300" x2="629" y2="300" stroke="#000" stroke-width="1.4" /><text x="620.9" y="312.38" font-size="8.8" text-anchor="middle" font-weight="bold" fill="#000" >0.1 s</text><text transform="rotate(-90 467.6 263.5)" x="467.6" y="267.5" font-size="11.8" text-anchor="middle" font-weight="bold">I/I<tspan font-size="7.5" dy="2.5">m</tspan><tspan dy="-2.5">, 50 Hz (%)</tspan></text><line x1="572.9" y1="202.8" x2="586" y2="202.8" stroke="#3e6294" stroke-width="1.5" stroke-dasharray="4 1.8 1.2 1.8"/><text x="591.3" y="205.84" font-size="8.7" text-anchor="start" font-weight="bold" fill="#000" >w/o PPy</text><line x1="627.2" y1="202.8" x2="639.5" y2="202.8" stroke="#b8282f" stroke-width="1.4" /><text x="645.2" y="205.84" font-size="8.7" text-anchor="start" font-weight="bold" fill="#000" >w/ PPy</text><text x="2.2" y="382.3" font-size="22.6" font-weight="bold" fill="#000" stroke="#000" stroke-width="0.3">g</text><text x="20.1" y="383.57" font-size="12.2" text-anchor="start" font-weight="bold" fill="#bbb" opacity="0.6">EMG recording</text><text x="19.3" y="382.87" font-size="12.2" text-anchor="start" font-weight="bold" fill="#c20a16" >EMG recording</text><linearGradient id="skfade" x1="0" y1="0" x2="1" y2="0"><stop offset="0.7" stop-color="#f7e5d9"/><stop offset="1" stop-color="#f7e5d9" stop-opacity="0.25"/></linearGradient><linearGradient id="skfade2" x1="0" y1="0" x2="0" y2="1"><stop offset="0.6" stop-color="#f7e5d9"/><stop offset="1" stop-color="#f7e5d9" stop-opacity="0.2"/></linearGradient><path d="M43.1 469.3 C47 460 50 455 53.7 448.2 C60 435 65 425 70.9 415.7 C74 411 78 408 82.4 406.1 C90 402 96 400 101.6 399.4 L110 398.4 L110 515 L86.2 515 C85.8 490 85.2 465 84.3 448.2 C84 453 83.4 457 82.4 461.7 C78 470 74 476 69 480.8 C64 485 59 490 53.7 492.3 C47 495 41 495.5 36.4 495.2 C32 492 30 488 28.7 484.7 C25 477 23 472 22 467.4 C19 455 17.5 448 17.2 440.6 C17 430 17.5 420 18.2 413.7 C19 405 20.5 398 22 392.7 C24 389 30 388.5 36 389 C41 389.5 44.5 390.5 45 393 C45.5 397 43 401 40.2 404.2 C38 409 36 414 34.5 419.5 C33 423 32 426 31.6 429.1 C31.8 436 32.5 442 33.5 448.2 C35 454 37 458 39.3 461.7 C41 464.5 42 467 43.1 469.3 Z" fill="url(#skfade)" stroke="#e6c6b2" stroke-width="0.8"/><path d="M25 392 C30 390.5 36 391 41 393 M28 395 C32 396 36 397 38.5 400 M31.6 398.5 C33 401 33.5 403 33 405" fill="none" stroke="#e6c6b2" stroke-width="0.6"/><path d="M84.3 448.2 C88 440 95 432 110 420" fill="none" stroke="#efd8ca" stroke-width="0.7"/><rect x="42" y="417.8" width="47.6" height="23.9" fill="#f9eee7" stroke="none" stroke-width="1" rx="1"/><path d="M21.6 438.3 L31.8 435.6 L39.7 459.8 L28.6 463.4 Z" fill="#8fb5de" stroke="#6b98c9" stroke-width="0.8"/><circle cx="30.6" cy="445.2" r="1.5" fill="#2d5a8e" stroke="none" stroke-width="0" /><circle cx="33.8" cy="454" r="1.5" fill="#2d5a8e" stroke="none" stroke-width="0" /><path d="M16 437.2 L22.8 436 L27.8 444 L30.6 445.2" fill="none" stroke="#d0202a" stroke-width="0.9" stroke-linejoin="round" /><path d="M23.8 466.6 L31.5 465 L30.5 458 L33.8 454" fill="none" stroke="#111" stroke-width="0.9" stroke-linejoin="round" /><text x="20.4" y="433.95" font-size="7" text-anchor="middle" font-weight="bold" fill="#d0202a" >+</text><line x1="27" y1="469.8" x2="30" y2="469" stroke="#000" stroke-width="0.9" /><line x1="43.3" y1="440.2" x2="37.6" y2="446.8" stroke="#000" stroke-width="0.9" /><path d="M36.4 448.2 L37.2 444.6 L39.6 446.8 Z" fill="#000" stroke="#000" stroke-width="0" stroke-linejoin="round" /><text x="65" y="427.92" font-size="9.2" text-anchor="middle" font-weight="bold" fill="#2c67a8" >Hydrogel</text><text x="65" y="438.12" font-size="9.2" text-anchor="middle" font-weight="bold" fill="#2c67a8" >interface</text><rect x="123.4" y="386.9" width="211.6" height="56.4" fill="#e6eff8" stroke="none" stroke-width="1" /><rect x="123.4" y="446.6" width="211.6" height="61.1" fill="#fcf1ef" stroke="none" stroke-width="1" /><rect x="119" y="372.8" width="220.3" height="140" fill="none" stroke="#1f2a3a" stroke-width="1.6" /><text x="208" y="384.06" font-size="9.3" text-anchor="middle" font-weight="bold" fill="#3a5cb8" >Static</text><text x="294.7" y="384.06" font-size="9.3" text-anchor="middle" font-weight="bold" fill="#c0282e" >Sweat</text><text x="131.1" y="400.75" font-size="9" text-anchor="start" font-weight="bold" fill="#1a1a1a" >Ag/AgCl</text><text x="131.1" y="460.55" font-size="9" text-anchor="start" font-weight="bold" fill="#c4161c" >Hydrogel</text><text x="131" y="416.95" font-size="7.3" text-anchor="start" font-weight="bold" fill="#1a1a1a" >0.1 mV</text><path d="M136.2 420.4 L136.2 433.2 L153.6 433.2" fill="none" stroke="#1a1a1a" stroke-width="1" stroke-linejoin="round" /><text x="155.3" y="435.75" font-size="7.3" text-anchor="start" font-weight="bold" fill="#1a1a1a" >0.5 s</text><text x="131" y="481.15" font-size="7.3" text-anchor="start" font-weight="bold" fill="#1a1a1a" >0.1 mV</text><path d="M136.2 484.6 L136.2 497.4 L153.6 497.4" fill="none" stroke="#1a1a1a" stroke-width="1" stroke-linejoin="round" /><text x="155.3" y="499.95" font-size="7.3" text-anchor="start" font-weight="bold" fill="#1a1a1a" >0.5 s</text><text x="209" y="439.75" font-size="9" text-anchor="middle" font-weight="bold" fill="#1a1a1a" >28.03 dB</text><text x="296.3" y="439.75" font-size="9" text-anchor="middle" font-weight="bold" fill="#1a1a1a" >19.88 dB</text><text x="209" y="503.55" font-size="9" text-anchor="middle" font-weight="bold" fill="#1a1a1a" >29.70 dB</text><text x="296.3" y="503.55" font-size="9" text-anchor="middle" font-weight="bold" fill="#1a1a1a" >29.41 dB</text><path d="M168.7 410.74 L169.97 413.21 L171.63 410.93 L173.03 413.18 L174.64 410.29 L175.75 413.56 L177.12 410.46 L178.37 414.16 L179.62 409.44 L180.72 415.9 L181.95 407.17 L183.27 417.29 L184.67 406.41 L186.18 417.8 L187.7 407.9 L189.08 416.4 L190.66 406.91 L192.31 418.66 L193.42 405.02 L194.94 421.13 L196.74 399.92 L197.99 423.38 L199.41 402.21 L200.51 422.76 L202.13 402.75 L203.53 419 L204.76 403.72 L206.1 421.65 L207.52 402.9 L209.03 426.41 L210.71 399.53 L211.86 422.74 L213.12 401.57 L214.26 421.41 L215.55 402.14 L216.98 418.9 L218.2 404.72 L219.44 420.98 L220.54 403.56 L222.14 423.5 L223.93 399.27 L225.49 422.69 L227.04 403.74 L228.76 419.21 L230.53 405.72 L231.62 417.92 L233.41 406.63 L235.2 417.97 L236.54 406.72 L237.77 416.88 L239.22 407.02 L240.32 415.96 L241.97 409 L243.67 414.68 L245.25 409.96 L246.87 413.48 L248.11 410.15 L249.46 413.5" fill="none" stroke="#3d63c0" stroke-width="0.85" stroke-linejoin="round" /><path d="M254.4 409.55 L255.55 414.35 L256.86 409.89 L258.06 413.84 L259.87 409.85 L261.15 413.31 L262.47 408.98 L263.97 413.66 L265.15 408.31 L266.37 415.66 L268.12 408.45 L269.91 414.82 L271.52 408.7 L273.28 416.34 L275.01 406.81 L276.76 418.17 L278.08 405.32 L279.37 419.81 L280.97 404.7 L282.48 418.03 L284.24 405.86 L285.86 419.1 L286.99 404.7 L288.71 420.3 L289.97 401.79 L291.58 421.71 L293.16 401 L294.77 421.21 L295.98 402.62 L297.09 421.54 L298.43 403.21 L299.76 419.11 L301.39 401.52 L302.99 421.62 L304.3 402.3 L305.48 423.31 L306.67 399.97 L308.07 420.47 L309.19 405.11 L310.74 420.21 L312.55 406.64 L314.07 418.34 L315.34 406.62 L316.45 417.09 L317.72 407.35 L318.96 417.65 L320.51 406.21 L322.13 416.48 L323.25 408.22 L324.41 415.36 L326.17 409.26 L327.52 414.64 L328.83 409.26 L330.25 414.33 L331.76 410.08 L333.53 414.53" fill="none" stroke="#c2303a" stroke-width="0.85" stroke-linejoin="round" /><path d="M168.7 466.94 L170.23 469.09 L171.92 466.63 L173.35 470.17 L174.55 465.48 L176.17 471.3 L177.69 464.47 L179.12 473.24 L180.87 463.24 L182.64 473.14 L183.88 462.73 L185.19 472.87 L186.7 462.06 L188.46 476.63 L189.67 457.83 L191.17 479.32 L192.67 457.6 L194.47 477.86 L195.67 458.2 L196.79 477.75 L198.12 458.16 L199.93 476.03 L201.04 459.6 L202.24 477.42 L204.02 453.29 L205.49 483.22 L207.03 451.54 L208.64 480.15 L210.1 456.79 L211.61 476.39 L212.74 458.6 L214.08 477.89 L215.21 457.37 L216.63 479.88 L217.95 455.68 L219.31 483.08 L220.93 455.3 L222.19 479.43 L223.35 457.59 L224.76 478.27 L226.31 459.43 L227.49 475.46 L229.18 461.24 L230.74 477.19 L232.04 458.5 L233.43 476.81 L234.63 460.82 L236.43 475.03 L237.68 461.98 L239.14 471.89 L240.28 464.47 L241.4 471.84 L243.14 464.92 L244.76 470.69 L246.23 465.14 L247.57 470.62 L249.22 466.26 L250.9 469.83" fill="none" stroke="#3d63c0" stroke-width="0.85" stroke-linejoin="round" /><path d="M254.4 467.21 L255.6 469.49 L257.27 466.39 L258.56 469.74 L260.32 464.95 L261.54 470.99 L263.25 465.03 L264.83 470.94 L265.98 464.32 L267.28 472.1 L268.98 463.76 L270.38 473.04 L271.5 462.36 L272.98 476.08 L274.21 459.73 L275.5 476.86 L276.99 458.65 L278.24 476.94 L279.57 461.38 L281.16 477.27 L282.95 460.28 L284.6 479.63 L286.28 455.55 L287.46 482.44 L288.56 455.72 L289.91 480.99 L291.3 457.27 L292.51 479.41 L293.95 458.78 L295.43 478.89 L296.86 458.31 L298.25 480.07 L299.7 456.16 L300.94 482.27 L302.06 450.17 L303.44 484.88 L305.07 455.93 L306.79 479.95 L308.36 457.99 L309.83 477.64 L311.58 456.64 L313.37 479.94 L314.55 454.52 L315.76 480.24 L317.52 459.23 L318.61 477.64 L320.27 460.48 L321.5 473.98 L323.15 463.41 L324.26 473.08 L325.79 463.77 L327.26 472.63 L328.41 463.29 L329.72 472.22 L330.88 464.52 L332.34 471.41 L333.47 465.65 L335.17 470.08" fill="none" stroke="#c2303a" stroke-width="0.85" stroke-linejoin="round" /><text x="345.3" y="381.4" font-size="22.6" font-weight="bold" fill="#000" stroke="#000" stroke-width="0.3">h</text><filter id="sh" x="-5%" y="-10%" width="110%" height="130%"><feGaussianBlur stdDeviation="1"/></filter><rect x="362.5" y="373.5" width="316.5" height="69.5" fill="#9a9a9a" stroke="none" stroke-width="1" filter="url(#sh)"/><rect x="362.5" y="445.2" width="316.5" height="69.3" fill="#9a9a9a" stroke="none" stroke-width="1" filter="url(#sh)"/><rect x="361" y="371.8" width="316.1" height="69.1" fill="#d8e6f3" stroke="none" stroke-width="1" /><rect x="361" y="443.6" width="316.1" height="68.8" fill="#f5d9da" stroke="none" stroke-width="1" /><line x1="547.6" y1="371.8" x2="547.6" y2="512.4" stroke="#fff" stroke-width="1" stroke-dasharray="2.5 1.5"/><text x="371.5" y="390.72" font-size="8.9" text-anchor="start" font-weight="bold" fill="#1a1a1a" >Ag/AgCl</text><text x="371.5" y="460.31" font-size="8.9" text-anchor="start" font-weight="bold" fill="#c4161c" >Hydrogel</text><text x="468.7" y="386.29" font-size="9.1" text-anchor="middle" font-weight="bold" fill="#3f5fb8" >Static</text><text x="599" y="386.29" font-size="9.1" text-anchor="middle" font-weight="bold" fill="#c4161c" >Sweat</text><text x="536" y="390.05" font-size="8.7" text-anchor="end" font-weight="bold" fill="#1a1a1a" >27.32 dB</text><text x="666.6" y="390.05" font-size="8.7" text-anchor="end" font-weight="bold" fill="#1a1a1a" >23.69 dB</text><text x="536" y="456.35" font-size="8.7" text-anchor="end" font-weight="bold" fill="#1a1a1a" >31.65 dB</text><text x="665.8" y="456.35" font-size="8.7" text-anchor="end" font-weight="bold" fill="#1a1a1a" >29.91 dB</text><text x="428.8" y="391.95" font-size="7" text-anchor="middle" font-weight="normal" fill="#444" >(i)</text><text x="556.2" y="391.95" font-size="7" text-anchor="middle" font-weight="normal" fill="#444" >(ii)</text><text x="423.6" y="456.45" font-size="7" text-anchor="middle" font-weight="normal" fill="#444" >(iii)</text><text x="551.8" y="456.45" font-size="7" text-anchor="middle" font-weight="normal" fill="#444" >(iv)</text><text x="367.6" y="411.05" font-size="7" text-anchor="start" font-weight="bold" fill="#1a1a1a" >0.2 mV</text><path d="M371.5 414.6 L371.5 427.8 L387.3 427.8" fill="none" stroke="#1a1a1a" stroke-width="1.1" stroke-linejoin="round" /><text x="389.9" y="430.25" font-size="7" text-anchor="start" font-weight="bold" fill="#1a1a1a" >250 ms</text><text x="367.6" y="483.85" font-size="7" text-anchor="start" font-weight="bold" fill="#c4161c" >0.2 mV</text><path d="M371.5 487.4 L371.5 500.6 L387.3 500.6" fill="none" stroke="#c4161c" stroke-width="1.1" stroke-linejoin="round" /><text x="389.9" y="503.05" font-size="7" text-anchor="start" font-weight="bold" fill="#c4161c" >250 ms</text><path d="M418.8 428.92 L419.15 428.64 L419.5 428.75 L419.85 429.08 L420.2 429.03 L420.55 429.12 L420.9 429.09 L421.25 429.09 L421.6 429.5 L421.95 429.59 L422.3 429.24 L422.65 429.49 L423 429.37 L423.35 429.8 L423.7 429.61 L424.05 429.51 L424.4 429.78 L424.75 429.44 L425.1 429.48 L425.46 429.92 L425.81 429.92 L426.16 429.65 L426.51 429.41 L426.86 429.62 L427.21 429.6 L427.56 429.34 L427.91 429.32 L428.26 428.94 L428.61 428.49 L428.96 428.09 L429.31 427.85 L429.66 427.54 L430.01 427.32 L430.36 427.09 L430.71 427.2 L431.06 427.47 L431.41 427.29 L431.76 427.68 L432.11 427.89 L432.46 428.33 L432.81 428.08 L433.16 428.25 L433.51 428.66 L433.86 428.56 L434.21 428.34 L434.56 428.31 L434.91 428.14 L435.26 428.34 L435.61 428.08 L435.96 428.11 L436.31 428.31 L436.66 428.49 L437.01 429.13 L437.36 429.52 L437.71 428.06 L438.07 423.63 L438.42 416.1 L438.77 405.56 L439.12 397.07 L439.47 397.05 L439.82 405.23 L440.17 416.03 L440.52 424.98 L440.87 430.79 L441.22 433.62 L441.57 433.33 L441.92 431.32 L442.27 429.31 L442.62 428.49 L442.97 428.28 L443.32 428.21 L443.67 428.48 L444.02 428.52 L444.37 428.23 L444.72 428.13 L445.07 428.36 L445.42 428.47 L445.77 428.59 L446.12 428.4 L446.47 428.13 L446.82 428.17 L447.17 428.19 L447.52 427.91 L447.87 428.08 L448.22 427.77 L448.57 427.37 L448.92 427.36 L449.27 427.23 L449.62 427.14 L449.97 426.84 L450.32 426.5 L450.67 426.89 L451.03 426.46 L451.38 426.46 L451.73 426.5 L452.08 426.69 L452.43 426.83 L452.78 427.17 L453.13 427.38 L453.48 427.7 L453.83 428.13 L454.18 427.97 L454.53 428.34 L454.88 428.73 L455.23 428.75 L455.58 428.91 L455.93 429.08 L456.28 429.17 L456.63 429.12 L456.98 429.11 L457.33 429.12 L457.68 429.18 L458.03 429.37 L458.38 429.22 L458.73 429.2 L459.08 428.94 L459.43 428.74 L459.78 428.7 L460.13 428.63 L460.48 428.55 L460.83 428.76 L461.18 428.4 L461.53 428.41 L461.88 428.64 L462.23 428.61 L462.58 428.55 L462.93 428.12 L463.28 428.32 L463.63 428.34 L463.99 428.03 L464.34 428.13 L464.69 428.23 L465.04 428.15 L465.39 427.94 L465.74 428.1 L466.09 428.03 L466.44 427.8 L466.79 427.92 L467.14 427.99 L467.49 427.92 L467.84 428.16 L468.19 427.99 L468.54 427.98 L468.89 428.11 L469.24 428.15 L469.59 427.73 L469.94 427.86 L470.29 427.91 L470.64 427.55 L470.99 427.23 L471.34 427.37 L471.69 427.11 L472.04 426.81 L472.39 426.36 L472.74 426.58 L473.09 426.39 L473.44 426.61 L473.79 426.99 L474.14 427.53 L474.49 427.56 L474.84 428.03 L475.19 428.5 L475.54 428.92 L475.89 428.92 L476.24 429.21 L476.6 429.24 L476.95 429.46 L477.3 429.38 L477.65 429.72 L478 429.65 L478.35 429.35 L478.7 429.45 L479.05 429.9 L479.4 430.2 L479.75 431.35 L480.1 430.84 L480.45 428.35 L480.8 422.93 L481.15 413.93 L481.5 403.69 L481.85 397.58 L482.2 401.29 L482.55 410.79 L482.9 421.29 L483.25 429.23 L483.6 433.97 L483.95 435.05 L484.3 433.79 L484.65 431.7 L485 430.16 L485.35 429.48 L485.7 429.24 L486.05 429.2 L486.4 428.88 L486.75 428.92 L487.1 428.94 L487.45 428.88 L487.8 428.48 L488.15 428.54 L488.5 428.29 L488.85 428.21 L489.2 427.75 L489.56 427.53 L489.91 427.73 L490.26 427.38 L490.61 427.04 L490.96 426.42 L491.31 426.22 L491.66 426.14 L492.01 425.92 L492.36 425.42 L492.71 425.11 L493.06 424.88 L493.41 425.05 L493.76 424.72 L494.11 424.82 L494.46 424.98 L494.81 424.86 L495.16 425.42 L495.51 425.4 L495.86 425.98 L496.21 426.22 L496.56 426.14 L496.91 426.78 L497.26 426.79 L497.61 427.14 L497.96 427.26 L498.31 427.73 L498.66 427.94 L499.01 428.14 L499.36 428.02 L499.71 428.29 L500.06 428.24 L500.41 428.38 L500.76 428.86 L501.11 428.75 L501.46 429.06 L501.81 429.17 L502.17 429.23 L502.52 428.91 L502.87 429.02 L503.22 429.07 L503.57 429.37 L503.92 429.29 L504.27 429.27 L504.62 429.52 L504.97 429.47 L505.32 429.69 L505.67 429.8 L506.02 429.74 L506.37 429.45 L506.72 429.64 L507.07 429.47 L507.42 429.72 L507.77 429.81 L508.12 429.55 L508.47 429.53 L508.82 429.92 L509.17 429.57 L509.52 429.83 L509.87 429.79 L510.22 429.35 L510.57 429.71 L510.92 429.51 L511.27 429 L511.62 429.1 L511.97 429.02 L512.32 428.69 L512.67 428.29 L513.02 427.65 L513.37 427.58 L513.72 426.83 L514.07 426.85 L514.42 426.42 L514.77 426.46 L515.13 426.89 L515.48 427.12 L515.83 427.26 L516.18 427.7 L516.53 427.65 L516.88 428.12 L517.23 428.25 L517.58 427.83 L517.93 428.2 L518.28 428.04 L518.63 428.09 L518.98 428.13 L519.33 428.23 L519.68 427.77 L520.03 427.72 L520.38 427.76 L520.73 428.49 L521.08 429.23 L521.43 429.55 L521.78 428.01 L522.13 424.17 L522.48 416.69 L522.83 406.41 L523.18 397.92 L523.53 396.68 L523.88 404.27 L524.23 415.3 L524.58 424.74 L524.93 430.78 L525.28 433.44 L525.63 433.74 L525.98 431.77 L526.33 429.86 L526.68 428.69 L527.03 428.67 L527.38 428.69 L527.73 428.73 L528.09 428.8 L528.44 428.59 L528.79 428.61 L529.14 428.94 L529.49 428.94 L529.84 428.84 L530.19 428.8 L530.54 428.75 L530.89 428.85 L531.24 428.86 L531.59 428.62 L531.94 428.55 L532.29 428.12 L532.64 428.15 L532.99 427.93 L533.34 427.43 L533.69 427.39 L534.04 426.94 L534.39 426.93 L534.74 426.62 L535.09 426.9 L535.44 426.7 L535.79 426.58 L536.14 427.02 L536.49 426.71 L536.84 427.27 L537.19 427.16 L537.54 427.27 L537.89 427.56 L538.24 428.03 L538.59 428.33 L538.94 428.3 L539.29 428.25 L539.64 428.68 L539.99 428.47 L540.34 428.91 L540.7 428.56 L541.05 429.01 L541.4 428.86 L541.75 428.54 L542.1 428.55 L542.45 428.46 L542.8 428.43 L543.15 428.42 L543.5 428.39 L543.85 428.58 L544.2 428.4 L544.55 428.47 L544.9 428.14 L545.25 428.11 L545.6 428.26 L545.95 428.31 L546.3 427.82 L546.65 427.86 L547 427.96" fill="none" stroke="#4a6ad0" stroke-width="0.9" stroke-linejoin="round" /><path d="M551 425.15 L551.35 425.26 L551.7 426.25 L552.05 426.31 L552.4 425.66 L552.75 425.85 L553.11 426 L553.46 426.43 L553.81 426.19 L554.16 426.22 L554.51 426.25 L554.86 426.62 L555.21 426.24 L555.56 426.1 L555.91 425.53 L556.26 424.98 L556.62 424.74 L556.97 424.89 L557.32 424.81 L557.67 424.92 L558.02 425.22 L558.37 425.41 L558.72 425.23 L559.07 425.68 L559.42 425.92 L559.77 425.68 L560.13 426.25 L560.48 426.35 L560.83 426.75 L561.18 426.99 L561.53 426.68 L561.88 426.82 L562.23 426.39 L562.58 425.83 L562.93 426.07 L563.28 426.48 L563.64 425.72 L563.99 425.99 L564.34 426.72 L564.69 427.12 L565.04 426.23 L565.39 422.81 L565.74 417.13 L566.09 407.83 L566.44 399.96 L566.79 398.87 L567.15 403.87 L567.5 413.11 L567.85 421.61 L568.2 427.22 L568.55 430.23 L568.9 429.9 L569.25 428.42 L569.6 426 L569.95 425.26 L570.3 424.29 L570.65 424.14 L571.01 424.54 L571.36 424.4 L571.71 424.02 L572.06 424.2 L572.41 424.41 L572.76 424.64 L573.11 424.49 L573.46 424.07 L573.81 424.53 L574.16 423.7 L574.52 424.24 L574.87 423.47 L575.22 423.92 L575.57 423.12 L575.92 423.19 L576.27 423.22 L576.62 423.04 L576.97 422.75 L577.32 422.68 L577.67 422.87 L578.03 422.93 L578.38 422.64 L578.73 422.29 L579.08 422.73 L579.43 423.47 L579.78 422.96 L580.13 423.34 L580.48 423.47 L580.83 424.52 L581.18 424.3 L581.54 425.32 L581.89 425.05 L582.24 425.73 L582.59 426.05 L582.94 425.63 L583.29 426.61 L583.64 426.36 L583.99 426.17 L584.34 426.89 L584.69 427.01 L585.05 426.4 L585.4 426.9 L585.75 426.63 L586.1 427.32 L586.45 426.99 L586.8 427.16 L587.15 426.63 L587.5 427.18 L587.85 426.27 L588.2 427.14 L588.55 426.38 L588.91 427.02 L589.26 426.72 L589.61 426.08 L589.96 426.66 L590.31 426.55 L590.66 425.95 L591.01 426.17 L591.36 426.41 L591.71 425.37 L592.06 426.11 L592.42 426.13 L592.77 425.73 L593.12 425.36 L593.47 425.14 L593.82 425.68 L594.17 425.36 L594.52 425.58 L594.87 425.08 L595.22 424.69 L595.57 424.64 L595.93 424.41 L596.28 424.49 L596.63 424.32 L596.98 424.41 L597.33 424.57 L597.68 424.72 L598.03 424.17 L598.38 424.35 L598.73 424.36 L599.08 423.76 L599.44 423.03 L599.79 423.46 L600.14 422.7 L600.49 422.66 L600.84 422.41 L601.19 422.79 L601.54 422.12 L601.89 423.09 L602.24 423.1 L602.59 423.68 L602.95 424.47 L603.3 424.29 L603.65 425.02 L604 425.35 L604.35 425.57 L604.7 425.61 L605.05 425.81 L605.4 425.39 L605.75 425.62 L606.1 425.25 L606.45 425.4 L606.81 425.44 L607.16 426.39 L607.51 426.69 L607.86 427.85 L608.21 427.87 L608.56 426.19 L608.91 421.92 L609.26 415.04 L609.61 406.68 L609.96 400.34 L610.32 401.23 L610.67 409.33 L611.02 418.68 L611.37 425.83 L611.72 430.98 L612.07 432.43 L612.42 432.22 L612.77 430.25 L613.12 428.38 L613.47 427.46 L613.83 427.2 L614.18 426.81 L614.53 426.81 L614.88 426.91 L615.23 426.51 L615.58 426.86 L615.93 426.06 L616.28 425.88 L616.63 425.97 L616.98 426.1 L617.34 425.82 L617.69 425.52 L618.04 425.8 L618.39 425.14 L618.74 424.72 L619.09 424.73 L619.44 424.47 L619.79 423.41 L620.14 423.5 L620.49 423.01 L620.85 422.31 L621.2 422.36 L621.55 422.47 L621.9 421.63 L622.25 422.15 L622.6 422.48 L622.95 421.86 L623.3 422.53 L623.65 422.47 L624 422.11 L624.35 422.48 L624.71 423.36 L625.06 423.14 L625.41 423.4 L625.76 423.52 L626.11 423.99 L626.46 423.78 L626.81 424.44 L627.16 424.36 L627.51 424.39 L627.86 423.93 L628.22 424.88 L628.57 424.29 L628.92 424.93 L629.27 424.63 L629.62 424.88 L629.97 424.89 L630.32 424.68 L630.67 425.12 L631.02 425.48 L631.37 425.57 L631.73 425.7 L632.08 425.02 L632.43 425.32 L632.78 425.1 L633.13 425.47 L633.48 426.23 L633.83 425.69 L634.18 425.67 L634.53 425.82 L634.88 426.13 L635.24 426.36 L635.59 426.35 L635.94 426.09 L636.29 426.7 L636.64 426.51 L636.99 426.63 L637.34 426.21 L637.69 426.41 L638.04 426.33 L638.39 426.47 L638.75 427.04 L639.1 427.14 L639.45 426.9 L639.8 427.14 L640.15 426.97 L640.5 426.71 L640.85 426.44 L641.2 426.74 L641.55 426.44 L641.9 427.06 L642.25 426.65 L642.61 425.8 L642.96 426.38 L643.31 425.77 L643.66 425.74 L644.01 425.32 L644.36 424.13 L644.71 423.73 L645.06 423.86 L645.41 424.31 L645.76 424.19 L646.12 424.41 L646.47 424.19 L646.82 424.41 L647.17 424.86 L647.52 424.94 L647.87 425.46 L648.22 425.09 L648.57 424.68 L648.92 424.85 L649.27 425.46 L649.63 424.97 L649.98 424.71 L650.33 425.1 L650.68 424.4 L651.03 424.79 L651.38 424.66 L651.73 425.53 L652.08 425.74 L652.43 425.6 L652.78 423.23 L653.14 418.49 L653.49 410.21 L653.84 402.02 L654.19 397.43 L654.54 400.79 L654.89 410.28 L655.24 418.9 L655.59 425.52 L655.94 429.52 L656.29 430.28 L656.65 428.7 L657 426.83 L657.35 425.67 L657.7 424.67 L658.05 425.22 L658.4 424.85 L658.75 425.01 L659.1 424.98 L659.45 424.96 L659.8 425.65 L660.15 425.3 L660.51 425.56 L660.86 425.31 L661.21 425 L661.56 425.31 L661.91 425.88 L662.26 425.34 L662.61 424.98 L662.96 424.66 L663.31 424.73 L663.66 424.39 L664.02 425 L664.37 423.89 L664.72 423.94 L665.07 423.92 L665.42 423.51 L665.77 423.47 L666.12 424.25 L666.47 423.57 L666.82 423.72 L667.17 424.42 L667.53 424.06 L667.88 424.42 L668.23 425.04 L668.58 424.66 L668.93 425.56 L669.28 425.3 L669.63 425.67 L669.98 426.01 L670.33 425.83 L670.68 426.03 L671.04 426.36 L671.39 425.64 L671.74 426.54 L672.09 426.59 L672.44 426.08 L672.79 425.67 L673.14 425.79 L673.49 425.62 L673.84 425.8 L674.19 425.53 L674.55 425.78 L674.9 425.75 L675.25 425.42 L675.6 425.81 L675.95 425.66 L676.3 424.9" fill="none" stroke="#d2303a" stroke-width="1.4" stroke-linejoin="round" /><path d="M418.8 494.35 L419.15 494.2 L419.5 494.24 L419.85 494.12 L420.2 494.07 L420.55 494.25 L420.9 494.22 L421.25 493.84 L421.6 494.02 L421.95 493.98 L422.3 493.61 L422.65 493.76 L423 493.56 L423.35 493.64 L423.7 493.51 L424.05 493.64 L424.4 493.38 L424.75 493.22 L425.1 493.3 L425.46 493.15 L425.81 493.12 L426.16 493.3 L426.51 492.97 L426.86 492.98 L427.21 493.04 L427.56 493.1 L427.91 492.71 L428.26 492.81 L428.61 492.63 L428.96 492.47 L429.31 492.39 L429.66 492.13 L430.01 492.1 L430.36 491.64 L430.71 491.46 L431.06 490.94 L431.41 490.67 L431.76 490.78 L432.11 490.68 L432.46 490.7 L432.81 490.59 L433.16 491.09 L433.51 491.36 L433.86 491.86 L434.21 492.12 L434.56 492.47 L434.91 492.73 L435.26 492.83 L435.61 492.98 L435.96 492.96 L436.31 493.14 L436.66 493.12 L437.01 493.22 L437.36 493.24 L437.71 493.43 L438.07 493.73 L438.42 493.71 L438.77 494.39 L439.12 495.28 L439.47 494.93 L439.82 492.01 L440.17 486.53 L440.52 477.58 L440.87 468.71 L441.22 465.19 L441.57 469.85 L441.92 479.13 L442.27 488.46 L442.62 495.51 L442.97 499.04 L443.32 500.06 L443.67 498.66 L444.02 496.47 L444.37 494.89 L444.72 494.3 L445.07 494.49 L445.42 494.22 L445.77 494.42 L446.12 494.11 L446.47 494.22 L446.82 493.93 L447.17 493.81 L447.52 493.9 L447.87 493.58 L448.22 493.71 L448.57 493.63 L448.92 493.21 L449.27 493.21 L449.62 492.88 L449.97 492.51 L450.32 492.12 L450.67 491.98 L451.03 491.71 L451.38 491.07 L451.73 491 L452.08 490.48 L452.43 490.29 L452.78 490.34 L453.13 490.2 L453.48 490.14 L453.83 490.11 L454.18 490.2 L454.53 490.35 L454.88 490.49 L455.23 490.56 L455.58 490.95 L455.93 491.2 L456.28 491.3 L456.63 491.71 L456.98 491.88 L457.33 491.78 L457.68 492.11 L458.03 492.23 L458.38 492.56 L458.73 492.49 L459.08 492.51 L459.43 492.8 L459.78 492.62 L460.13 492.67 L460.48 492.94 L460.83 492.77 L461.18 492.88 L461.53 492.84 L461.88 493.02 L462.23 492.93 L462.58 492.98 L462.93 493.32 L463.28 493.36 L463.63 493.18 L463.99 493.12 L464.34 493.47 L464.69 493.46 L465.04 493.46 L465.39 493.64 L465.74 493.68 L466.09 493.77 L466.44 493.81 L466.79 493.78 L467.14 493.95 L467.49 493.98 L467.84 493.87 L468.19 494.22 L468.54 494.05 L468.89 494.03 L469.24 494.23 L469.59 494.29 L469.94 494.08 L470.29 494.31 L470.64 494.3 L470.99 494.14 L471.34 493.93 L471.69 494 L472.04 493.68 L472.39 493.39 L472.74 492.86 L473.09 492.67 L473.44 492.2 L473.79 492.24 L474.14 492.06 L474.49 491.94 L474.84 491.98 L475.19 492.38 L475.54 492.74 L475.89 493.06 L476.24 493.14 L476.6 493.47 L476.95 493.35 L477.3 493.42 L477.65 493.7 L478 493.65 L478.35 493.41 L478.7 493.43 L479.05 493.3 L479.4 493.43 L479.75 493.46 L480.1 493.36 L480.45 493.33 L480.8 494.19 L481.15 494.85 L481.5 494.03 L481.85 490.82 L482.2 484.74 L482.55 475.53 L482.9 467.03 L483.25 464.11 L483.6 468.92 L483.95 478.66 L484.3 487.74 L484.65 494.34 L485 497.64 L485.35 498.22 L485.7 496.84 L486.05 494.53 L486.4 493.2 L486.75 492.8 L487.1 492.75 L487.45 492.84 L487.8 492.84 L488.15 492.9 L488.5 492.98 L488.85 492.78 L489.2 492.9 L489.56 492.67 L489.91 492.95 L490.26 492.56 L490.61 492.58 L490.96 492.39 L491.31 492.28 L491.66 492.14 L492.01 492.1 L492.36 492.15 L492.71 491.66 L493.06 491.7 L493.41 491.47 L493.76 491.16 L494.11 491.08 L494.46 491.04 L494.81 490.79 L495.16 490.94 L495.51 491.12 L495.86 491.28 L496.21 491.22 L496.56 491.59 L496.91 491.72 L497.26 492.16 L497.61 492.5 L497.96 492.65 L498.31 492.8 L498.66 493.3 L499.01 493.27 L499.36 493.4 L499.71 493.6 L500.06 493.72 L500.41 494.14 L500.76 493.96 L501.11 493.9 L501.46 494.25 L501.81 494.16 L502.17 494.15 L502.52 494.03 L502.87 494.03 L503.22 493.97 L503.57 493.8 L503.92 494.06 L504.27 493.99 L504.62 493.9 L504.97 493.84 L505.32 493.8 L505.67 493.37 L506.02 493.36 L506.37 493.6 L506.72 493.37 L507.07 493.38 L507.42 493.32 L507.77 493.24 L508.12 493.07 L508.47 493.04 L508.82 493.07 L509.17 493.09 L509.52 492.99 L509.87 493.03 L510.22 492.82 L510.57 492.72 L510.92 492.82 L511.27 492.92 L511.62 492.86 L511.97 492.76 L512.32 492.65 L512.67 492.57 L513.02 492.71 L513.37 492.5 L513.72 492.52 L514.07 492.5 L514.42 492.39 L514.77 492.14 L515.13 491.81 L515.48 491.64 L515.83 491.25 L516.18 491.08 L516.53 490.99 L516.88 490.82 L517.23 490.83 L517.58 491.28 L517.93 491.44 L518.28 491.82 L518.63 492.03 L518.98 492.37 L519.33 492.92 L519.68 492.98 L520.03 493.23 L520.38 493.6 L520.73 493.64 L521.08 493.87 L521.43 493.67 L521.78 493.8 L522.13 493.77 L522.48 493.87 L522.83 493.99 L523.18 494.18 L523.53 494.9 L523.88 495.96 L524.23 495.45 L524.58 493.04 L524.93 487.58 L525.28 478.83 L525.63 469.91 L525.98 465.48 L526.33 469.27 L526.68 478.28 L527.03 488.08 L527.38 495.08 L527.73 498.8 L528.09 500.19 L528.44 498.52 L528.79 496.4 L529.14 494.82 L529.49 494.12 L529.84 494.06 L530.19 493.89 L530.54 494.13 L530.89 493.77 L531.24 493.79 L531.59 493.62 L531.94 493.76 L532.29 493.38 L532.64 493.16 L532.99 493.35 L533.34 493.06 L533.69 492.75 L534.04 492.4 L534.39 492.37 L534.74 492.11 L535.09 491.78 L535.44 491.32 L535.79 490.95 L536.14 490.8 L536.49 490.53 L536.84 490.27 L537.19 490.09 L537.54 489.92 L537.89 489.97 L538.24 489.79 L538.59 489.65 L538.94 489.98 L539.29 490 L539.64 490.44 L539.99 490.46 L540.34 490.68 L540.7 490.98 L541.05 491.3 L541.4 491.57 L541.75 491.74 L542.1 491.86 L542.45 492.35 L542.8 492.55 L543.15 492.44 L543.5 492.5 L543.85 492.78 L544.2 492.91 L544.55 492.9 L544.9 493.2 L545.25 493.24 L545.6 493.34 L545.95 493.26 L546.3 493.44 L546.65 493.54 L547 493.42" fill="none" stroke="#4a6ad0" stroke-width="0.9" stroke-linejoin="round" /><path d="M551 494.86 L551.35 494.88 L551.7 494.74 L552.05 494.8 L552.4 494.8 L552.75 494.62 L553.11 494.37 L553.46 494.36 L553.81 494.32 L554.16 494.48 L554.51 494.29 L554.86 494.32 L555.21 494.27 L555.56 494.18 L555.91 493.98 L556.26 493.49 L556.62 493.28 L556.97 492.97 L557.32 492.61 L557.67 492.46 L558.02 492.04 L558.37 491.59 L558.72 491.33 L559.07 491.18 L559.42 491.22 L559.77 491.7 L560.13 491.74 L560.48 492 L560.83 492.35 L561.18 492.74 L561.53 492.82 L561.88 493.12 L562.23 492.88 L562.58 492.97 L562.93 493.14 L563.28 493.26 L563.64 493.03 L563.99 493.18 L564.34 493.08 L564.69 493.12 L565.04 493.36 L565.39 493.83 L565.74 494.64 L566.09 495.06 L566.44 493.44 L566.79 488.92 L567.15 480.92 L567.5 471.11 L567.85 463.7 L568.2 464.14 L568.55 472.69 L568.9 483.3 L569.25 491.89 L569.6 497.38 L569.95 499.5 L570.3 499.33 L570.65 497.23 L571.01 495.54 L571.36 494.53 L571.71 494.46 L572.06 494.42 L572.41 494.3 L572.76 494.51 L573.11 494.45 L573.46 494.32 L573.81 494.65 L574.16 494.65 L574.52 494.54 L574.87 494.27 L575.22 494.24 L575.57 494.27 L575.92 494.08 L576.27 493.96 L576.62 493.63 L576.97 493.56 L577.32 493.04 L577.67 492.7 L578.03 492.4 L578.38 492.23 L578.73 491.91 L579.08 492.08 L579.43 491.82 L579.78 491.44 L580.13 491.47 L580.48 491.62 L580.83 491.46 L581.18 491.7 L581.54 491.77 L581.89 492.15 L582.24 492.38 L582.59 492.47 L582.94 492.79 L583.29 492.87 L583.64 492.79 L583.99 493.18 L584.34 493.42 L584.69 493.49 L585.05 493.5 L585.4 493.29 L585.75 493.47 L586.1 493.51 L586.45 493.57 L586.8 493.2 L587.15 493.4 L587.5 493.46 L587.85 493.49 L588.2 493.47 L588.55 493.4 L588.91 493.17 L589.26 493.37 L589.61 493.4 L589.96 493.21 L590.31 493.3 L590.66 493 L591.01 493.36 L591.36 493.21 L591.71 493.12 L592.06 493.29 L592.42 493.09 L592.77 493.32 L593.12 493.45 L593.47 493.42 L593.82 493.62 L594.17 493.51 L594.52 493.63 L594.87 493.43 L595.22 493.5 L595.57 493.7 L595.93 493.94 L596.28 493.91 L596.63 493.97 L596.98 494.03 L597.33 494.06 L597.68 493.81 L598.03 494.07 L598.38 494.04 L598.73 493.55 L599.08 493.5 L599.44 493.09 L599.79 493.05 L600.14 492.59 L600.49 492.47 L600.84 492.31 L601.19 492.33 L601.54 492.57 L601.89 492.98 L602.24 493.26 L602.59 493.34 L602.95 493.67 L603.3 493.96 L603.65 494.43 L604 494.47 L604.35 494.52 L604.7 494.65 L605.05 494.61 L605.4 494.73 L605.75 494.67 L606.1 494.64 L606.45 494.78 L606.81 494.49 L607.16 494.52 L607.51 495.26 L607.86 495.72 L608.21 495.91 L608.56 494.08 L608.91 489.61 L609.26 481.18 L609.61 471.24 L609.96 463.69 L610.32 464.82 L610.67 473.61 L611.02 484.12 L611.37 492.22 L611.72 497.4 L612.07 499.43 L612.42 498.62 L612.77 496.74 L613.12 494.97 L613.47 493.7 L613.83 493.75 L614.18 493.29 L614.53 493.54 L614.88 493.2 L615.23 493.15 L615.58 493.05 L615.93 493.11 L616.28 492.9 L616.63 493.08 L616.98 492.79 L617.34 492.8 L617.69 492.43 L618.04 492.31 L618.39 492.25 L618.74 492.02 L619.09 491.99 L619.44 491.76 L619.79 491.31 L620.14 491.13 L620.49 490.78 L620.85 490.71 L621.2 490.78 L621.55 490.61 L621.9 490.44 L622.25 490.59 L622.6 490.9 L622.95 490.74 L623.3 490.97 L623.65 491.53 L624 491.64 L624.35 492.02 L624.71 492.18 L625.06 492.69 L625.41 493.03 L625.76 493.21 L626.11 493.28 L626.46 493.86 L626.81 494.06 L627.16 494.03 L627.51 494.07 L627.86 494.34 L628.22 494.48 L628.57 494.39 L628.92 494.49 L629.27 494.83 L629.62 494.55 L629.97 494.86 L630.32 494.84 L630.67 494.65 L631.02 494.82 L631.37 494.68 L631.73 494.93 L632.08 494.64 L632.43 494.91 L632.78 494.9 L633.13 494.74 L633.48 494.78 L633.83 494.66 L634.18 494.48 L634.53 494.52 L634.88 494.76 L635.24 494.59 L635.59 494.44 L635.94 494.41 L636.29 494.26 L636.64 494.3 L636.99 494.4 L637.34 494.27 L637.69 493.96 L638.04 494.09 L638.39 493.87 L638.75 493.71 L639.1 493.79 L639.45 493.71 L639.8 493.67 L640.15 493.71 L640.5 493.39 L640.85 493.47 L641.2 493.16 L641.55 493.24 L641.9 492.79 L642.25 492.55 L642.61 492.3 L642.96 492.01 L643.31 491.78 L643.66 491.22 L644.01 491.16 L644.36 490.95 L644.71 491.2 L645.06 491.4 L645.41 491.64 L645.76 491.71 L646.12 492.3 L646.47 492.32 L646.82 492.8 L647.17 492.94 L647.52 493.19 L647.87 493.2 L648.22 493.51 L648.57 493.46 L648.92 493.31 L649.27 493.67 L649.63 493.54 L649.98 493.73 L650.33 493.84 L650.68 494.27 L651.03 495.08 L651.38 495.44 L651.73 494.56 L652.08 491.06 L652.43 484.37 L652.78 474.59 L653.14 465.93 L653.49 463.55 L653.84 470 L654.19 480.58 L654.54 489.92 L654.89 496.4 L655.24 499.66 L655.59 500.33 L655.94 498.35 L656.29 496.32 L656.65 495.14 L657 494.79 L657.35 494.63 L657.7 494.83 L658.05 494.58 L658.4 494.78 L658.75 494.68 L659.1 494.52 L659.45 494.54 L659.8 494.62 L660.15 494.55 L660.51 494.38 L660.86 494.1 L661.21 493.76 L661.56 493.58 L661.91 493.53 L662.26 493.25 L662.61 492.78 L662.96 492.69 L663.31 492.33 L663.66 492.19 L664.02 491.84 L664.37 491.45 L664.72 491.19 L665.07 491.07 L665.42 491.08 L665.77 490.81 L666.12 490.97 L666.47 491.24 L666.82 491.4 L667.17 491.2 L667.53 491.38 L667.88 491.61 L668.23 491.94 L668.58 492.25 L668.93 492.52 L669.28 492.62 L669.63 492.77 L669.98 492.61 L670.33 492.72 L670.68 492.84 L671.04 493.15 L671.39 493.17 L671.74 493.18 L672.09 492.94 L672.44 493.28 L672.79 493.05 L673.14 493.12 L673.49 493.19 L673.84 493.05 L674.19 493.36 L674.55 493.28 L674.9 493.46 L675.25 493.53 L675.6 493.59 L675.95 493.53 L676.3 493.65" fill="none" stroke="#d2303a" stroke-width="0.9" stroke-linejoin="round" /><ellipse cx="589.6" cy="424.4" rx="17.9" ry="8.4" fill="none" stroke="#555" stroke-width="0.9" stroke-dasharray="2 1.3"/><ellipse cx="589.6" cy="493.5" rx="17.9" ry="8.4" fill="none" stroke="#555" stroke-width="0.9" stroke-dasharray="2 1.3"/><path d="M587.2 438.3 L592.0 438.3 L592.0 452.5 L595.0 452.5 L589.6 462.5 L584.2 452.5 L587.2 452.5 Z" fill="#f6b400"/><text x="483.5" y="462.11" font-size="6.6" text-anchor="middle" font-weight="bold" fill="#1a1a1a" >R</text><text x="474" y="489.21" font-size="6.6" text-anchor="middle" font-weight="bold" fill="#1a1a1a" >P</text><text x="496.9" y="487.61" font-size="6.6" text-anchor="middle" font-weight="bold" fill="#1a1a1a" >T</text><text x="478.5" y="505.51" font-size="6.6" text-anchor="middle" font-weight="bold" fill="#1a1a1a" >Q</text><text x="488.4" y="507.31" font-size="6.6" text-anchor="middle" font-weight="bold" fill="#1a1a1a" >S</text><text x="7.4" y="543.4" font-size="22.6" font-weight="bold" fill="#000" stroke="#000" stroke-width="0.3">i</text><path d="M13.5 566.5 C10 565 6 563.5 3.2 561.2 L1.6 563.2 C4.5 566 8.5 568.5 12.5 570.5 Z" fill="#ebe7e3" stroke="#d4cbc3" stroke-width="0.6"/><path d="M44 566.5 C47.5 565 51.5 563.5 54.3 561.2 L55.9 563.2 C53 566 49 568.5 45 570.5 Z" fill="#ebe7e3" stroke="#d4cbc3" stroke-width="0.6"/><path d="M28.7 542.2 C30.5 542.5 32.5 547 34.5 551 C36.5 554 38.5 556 38.5 558.5 C38 561 36.5 562.5 37.5 563.5 C41 564.5 45 566 46 570 C46.5 578 45.5 590 44.5 595 C44 598.5 42 600.5 39 600.8 L18.5 600.8 C15.5 600.5 13.5 598.5 13 595 C12 590 11 578 11.5 570 C12.5 566 16.5 564.5 20 563.5 C21 562.5 19.5 561 19 558.5 C19 556 21 554 23 551 C25 547 27 542.5 28.7 542.2 Z" fill="#ebe7e3" stroke="#d4cbc3" stroke-width="0.8"/><path d="M20.5 558 C23 561.5 26 562.5 28.7 562.5 C31.4 562.5 34.5 561.5 37 558" fill="none" stroke="#d8d0c8" stroke-width="0.8"/><circle cx="17" cy="557.3" r="2.7" fill="#e6b3ae" stroke="none" stroke-width="0" /><circle cx="40.4" cy="557.3" r="2.7" fill="#e6b3ae" stroke="none" stroke-width="0" /><circle cx="2.3" cy="562" r="1.7" fill="#e9b8b2" stroke="none" stroke-width="0" /><circle cx="55.1" cy="562" r="1.7" fill="#e9b8b2" stroke="none" stroke-width="0" /><circle cx="28.7" cy="542.8" r="0.9" fill="#e6a8a6" stroke="none" stroke-width="0" /><path d="M26.2 572.2 L35.8 572.2 L36.5 580 C35 585 31 586.5 29.5 586.2 C26.5 585.5 24.8 581 25.2 576 Z" fill="#d2525a"/><path d="M25.5 574 C27 572 29 573 29.5 577 C28 580 26 580 25.5 577 Z" fill="#8f2d4e"/><path d="M32.5 573 C35 573 36.4 575 36 578 C34 578 32.5 576 32.5 573 Z" fill="#8f2d4e"/><rect x="26.8" y="571.4" width="1.7" height="2.2" fill="#5f8be0" stroke="none" stroke-width="1" /><rect x="31.2" y="571.4" width="1.6" height="2.2" fill="#5f8be0" stroke="none" stroke-width="1" /><circle cx="29.3" cy="579.8" r="1.1" fill="#4aa0e8" stroke="none" stroke-width="0" /><circle cx="34.1" cy="583.2" r="1" fill="#4aa0e8" stroke="none" stroke-width="0" /><path d="M17.2 584.3 L22 584 L25.8 582.2 L27.5 581" fill="none" stroke="#d0303a" stroke-width="0.8" stroke-linejoin="round" /><circle cx="21.2" cy="581.8" r="0.7" fill="#d0303a" stroke="none" stroke-width="0" /><path d="M35.8 584.3 L43.6 584.6" fill="none" stroke="#5aa0d0" stroke-width="0.8" stroke-linejoin="round" /><line x1="33.2" y1="585.5" x2="31.5" y2="589.2" stroke="#000" stroke-width="0.7" /><text x="29.3" y="596.81" font-size="6.9" text-anchor="middle" font-weight="bold" fill="#333" >Hydrogel</text><rect x="79.2" y="573.4" width="11.9" height="23.7" fill="#4e70a6" stroke="none" stroke-width="1" /><rect x="98.1" y="556.8" width="11.9" height="40.3" fill="#c9454c" stroke="none" stroke-width="1" /><line x1="85.15" y1="573.4" x2="85.15" y2="568.7" stroke="#000" stroke-width="0.9" /><line x1="82.5" y1="568.7" x2="87.8" y2="568.7" stroke="#000" stroke-width="0.9" /><line x1="104.05" y1="556.8" x2="104.05" y2="552.6" stroke="#000" stroke-width="0.9" /><line x1="101.4" y1="552.6" x2="106.7" y2="552.6" stroke="#000" stroke-width="0.9" /><circle cx="84.4" cy="568.7" r="1.8" fill="#fff" stroke="#000" stroke-width="0.7" /><circle cx="83.9" cy="573" r="1.8" fill="#fff" stroke="#000" stroke-width="0.7" /><circle cx="83.9" cy="578.6" r="1.8" fill="#fff" stroke="#000" stroke-width="0.7" /><circle cx="104.8" cy="552.1" r="1.8" fill="#fff" stroke="#000" stroke-width="0.7" /><circle cx="103.9" cy="557.8" r="1.8" fill="#fff" stroke="#000" stroke-width="0.7" /><circle cx="102" cy="561.6" r="1.8" fill="#fff" stroke="#000" stroke-width="0.7" /><line x1="74.5" y1="539.6" x2="74.5" y2="597.7" stroke="#000" stroke-width="1.2" /><line x1="74.5" y1="597.1" x2="114.8" y2="597.1" stroke="#000" stroke-width="1.2" /><line x1="72" y1="545.33" x2="74.5" y2="545.33" stroke="#000" stroke-width="1.1" /><text x="70.4" y="548.34" font-size="8.6" text-anchor="end" font-weight="bold" fill="#000" >18</text><line x1="72" y1="571.22" x2="74.5" y2="571.22" stroke="#000" stroke-width="1.1" /><text x="70.4" y="574.23" font-size="8.6" text-anchor="end" font-weight="bold" fill="#000" >9</text><line x1="72" y1="597.1" x2="74.5" y2="597.1" stroke="#000" stroke-width="1.1" /><text x="70.4" y="600.11" font-size="8.6" text-anchor="end" font-weight="bold" fill="#000" >0</text><text x="60.7" y="574.36" font-size="9.6" text-anchor="middle" font-weight="bold" fill="#000" transform="rotate(-90 60.7 571)" >SNR (dB)</text><text x="85.8" y="564.88" font-size="8.8" text-anchor="middle" font-weight="bold" fill="#4e70a6" >Au</text><text x="97.2" y="545.81" font-size="8.6" text-anchor="middle" font-weight="bold" fill="#c9454c" >Hydrogel</text><rect x="7.6" y="614.4" width="105.1" height="39.7" fill="#a8a8a8" stroke="none" stroke-width="1" filter="url(#sh)"/><rect x="7.6" y="655.5" width="105.1" height="39.4" fill="#a8a8a8" stroke="none" stroke-width="1" filter="url(#sh)"/><rect x="6.1" y="612.9" width="105.1" height="39.7" fill="#dae7f3" stroke="none" stroke-width="1" /><rect x="6.1" y="654" width="105.1" height="39.4" fill="#f4d8d8" stroke="none" stroke-width="1" /><text x="10.2" y="622.42" font-size="7.2" text-anchor="start" font-weight="bold" fill="#1a1a1a" >Au electrode</text><text x="10.2" y="663.49" font-size="7.1" text-anchor="start" font-weight="bold" fill="#c4161c" >Hydrogel</text><text x="7.6" y="638.65" font-size="5" text-anchor="start" font-weight="bold" fill="#333" >0.5 mV</text><path d="M10.5 640.9 L10.5 647 L21 647" fill="none" stroke="#333" stroke-width="0.9" stroke-linejoin="round" /><text x="22.6" y="648.89" font-size="5.4" text-anchor="start" font-weight="bold" fill="#333" >125 ms</text><text x="7.6" y="679.15" font-size="5" text-anchor="start" font-weight="bold" fill="#c4161c" >0.5 mV</text><path d="M10.5 681.4 L10.5 687.5 L21 687.5" fill="none" stroke="#c4161c" stroke-width="0.9" stroke-linejoin="round" /><text x="22.6" y="689.39" font-size="5.4" text-anchor="start" font-weight="bold" fill="#c4161c" >125 ms</text><path d="M31.5 639.23 L32.6 634.89 L33.7 639.23 L34.8 634.29 L35.9 638.83 L37 634 L38.1 637.41 L39.2 634.4 L40.3 638.53 L41.4 625.73 L42.5 638.2 L43.6 634.42 L44.7 637.3 L45.8 634.02 L46.9 637.27 L48 633.4 L49.1 636.37 L50.2 633.92 L51.3 636.79 L52.4 632.88 L53.5 637.64 L54.6 634.19 L55.7 637.86 L56.8 634.43 L57.9 637.81 L59 634.7 L60.1 633.53 L61.2 629.34 L62.3 637.76 L63.4 635.17 L64.5 639.28 L65.6 634.46 L66.7 638.5 L67.8 634.61 L68.9 639.16 L70 635.29 L71.1 638.85 L72.2 635.06 L73.3 639.75 L74.4 635.13 L75.5 640.13 L76.6 636.19 L77.7 639.28 L78.8 636.34 L79.9 638.85 L81 627.36 L82.1 638.92 L83.2 635.31 L84.3 638.21 L85.4 634.94 L86.5 638.45 L87.6 635.21 L88.7 638.89 L89.8 634.63 L90.9 637.79 L92 634.32 L93.1 638.1 L94.2 634.7 L95.3 638.26 L96.4 634.51 L97.5 637.71 L98.6 633.06 L99.7 636.43 L100.8 625.85 L101.9 636.01 L103 633.36 L104.1 636.38 L105.2 634.26 L106.3 636.76 L107.4 632.99 L108.5 636.96 L109.6 633.51" fill="none" stroke="#52698e" stroke-width="0.75" stroke-linejoin="round" /><path d="M30.6 678.68 L31.9 676.34 L33.2 678.03 L34.5 676.35 L35.8 666.93 L37.1 675.76 L38.4 677.43 L39.7 675.51 L41 677.25 L42.3 675.47 L43.6 677.22 L44.9 675.56 L46.2 677.73 L47.5 676.08 L48.8 677.89 L50.1 676.24 L51.4 678.04 L52.7 676.76 L54 678.93 L55.3 677.43 L56.6 676.79 L57.9 671.08 L59.2 679.86 L60.5 678.24 L61.8 679.67 L63.1 678.21 L64.4 680.44 L65.7 678.65 L67 680.04 L68.3 678.88 L69.6 680.4 L70.9 678.71 L72.2 680.46 L73.5 678.26 L74.8 679.63 L76.1 677.87 L77.4 679.35 L78.7 677.24 L80 679.3 L81.3 665.38 L82.6 678.64 L83.9 676.49 L85.2 678.32 L86.5 675.88 L87.8 677.4 L89.1 676.01 L90.4 677.55 L91.7 675.86 L93 677.41 L94.3 675.96 L95.6 677.64 L96.9 675.73 L98.2 677.25 L99.5 675.86 L100.8 677.68 L102.1 676.53 L103.4 669.09 L104.7 677 L106 678.44 L107.3 676.94 L108.6 679.25 L109.9 678.01" fill="none" stroke="#c23a40" stroke-width="0.75" stroke-linejoin="round" /><text x="115.65" y="544" font-size="22.6" font-weight="bold" fill="#000" stroke="#000" stroke-width="0.3">j</text><path d="M124.7 535.8 L177 535.8 L156 564.5 L124.7 564.5 Z" fill="#e6e3e0"/><path d="M177 535.8 L193.8 535.8 L171 564.5 L156 564.5 Z" fill="#ddd3c8"/><path d="M124.7 564.5 L186 564.5 L186 576.5 L124.7 576.5 Z" fill="#d5cabe"/><path d="M124.7 576.5 L182 576.5 C176 582 166 584.5 150 584.5 C138 584.5 130 583 124.7 581.5 Z" fill="#e2ddd8"/><path d="M183 564.5 C187 563 192 563.5 194.5 565 L193.5 580 C195 588 195.5 594 194.8 598.8 L186 598.8 C184 590 181 580 182 570 Z" fill="#c98a7c"/><line x1="167.9" y1="570.3" x2="183" y2="570.3" stroke="#eab7c4" stroke-width="1.3" /><ellipse cx="152.1" cy="573.2" rx="16.6" ry="5.4" transform="rotate(-14 152.1 573.2)" fill="#c27a7e" stroke="#b26a70" stroke-width="0.6"/><path d="M142.2 547.5 C140 552 137 556 136.8 562 C136.5 568 137.5 572 141 574.4 C146 576 152 574 160 571.5" fill="none" stroke="#f08b9f" stroke-width="3"/><path d="M139.6 551.5 C138.2 554 137.3 557 137.1 560.5" fill="none" stroke="#5b8fcc" stroke-width="3.4"/><path d="M135.2 554.5 C131 562 129.5 572 132 580 C134 585 142 586.6 151 586.6" fill="none" stroke="#3a7ab8" stroke-width="0.7"/><path d="M150.5 585.3 L153.2 586.6 L150.5 587.9 Z" fill="#3a7ab8" stroke="#000" stroke-width="0" stroke-linejoin="round" /><path d="M131.7 554.5 C127 563 124.8 575 127.5 582 C131 589 140 590.7 152.7 590.7" fill="none" stroke="#d44a4e" stroke-width="0.7"/><path d="M130.4 556.6 L132.5 553.4 L133.3 557.2 Z" fill="#d44a4e" stroke="#000" stroke-width="0" stroke-linejoin="round" /><line x1="147.2" y1="543.8" x2="144.8" y2="546.5" stroke="#000" stroke-width="0.6" /><line x1="146.3" y1="550.2" x2="141.2" y2="552.2" stroke="#000" stroke-width="0.6" /><line x1="160" y1="563.3" x2="156.2" y2="566.5" stroke="#000" stroke-width="0.6" /><text x="131.7" y="543.65" font-size="7.3" text-anchor="start" font-weight="normal" fill="#222" >Sciatic nerve</text><text x="149.8" y="553.55" font-size="7.3" text-anchor="start" font-weight="normal" fill="#3a80b8" >Hydrogel</text><text x="163" y="563.55" font-size="7.3" text-anchor="start" font-weight="normal" fill="#222" >Muscle</text><text x="154.4" y="586.85" font-size="7.3" text-anchor="start" font-weight="bold" fill="#2f6fa6" >Stimulation</text><text x="155" y="596.25" font-size="7.3" text-anchor="start" font-weight="bold" fill="#d0202a" >Recording</text><filter id="pb" x="-10%" y="-10%" width="120%" height="120%"><feGaussianBlur stdDeviation="0.7"/></filter><clipPath id="pc1"><rect x="124.7" y="603" width="35" height="35"/></clipPath><clipPath id="pc2"><rect x="160.4" y="603" width="35.1" height="35"/></clipPath><g filter="url(#pb)"><rect x="124.7" y="603" width="35" height="35" fill="#f1e3e7" stroke="none" stroke-width="1" /><path d="M126 612 C128 606 134 604 142 604 C150 604 157 607 158.5 614 C159 622 156 630 150 633 C143 635 134 633 129 628 C126 624 125 618 126 612 Z" fill="#c24d6d"/><ellipse cx="142" cy="619.5" rx="11.5" ry="9" fill="#93304e"/><rect x="131" y="603" width="22" height="6" fill="#c9a86a" stroke="none" stroke-width="1" /><rect x="133" y="610.5" width="18" height="14" fill="#5c4652" stroke="none" stroke-width="1" opacity="0.9"/><path d="M134.5 603 C135.5 607 134 611 135 616" fill="none" stroke="#111" stroke-width="1.1"/><path d="M138.5 603 C139.5 607 138 611 139 616" fill="none" stroke="#111" stroke-width="1.1"/><path d="M143 603 C144 607 142.5 611 143.5 616" fill="none" stroke="#111" stroke-width="1.1"/><path d="M147.5 603 C148.5 607 147 611 148 616" fill="none" stroke="#111" stroke-width="1.1"/><ellipse cx="142" cy="628.5" rx="10" ry="3.5" fill="#e8c8d0"/><line x1="153" y1="624" x2="158.5" y2="631" stroke="#888" stroke-width="0.7" /><rect x="160.4" y="603" width="35.1" height="35" fill="#f1e3e7" stroke="none" stroke-width="1" /><path d="M162 613 C164 606 170 604 178 604 C186 604 193 607 194.5 614 C195 622 192 630 186 633 C179 635 170 633 165 628 C162 624 161 618 162 613 Z" fill="#bb4866"/><ellipse cx="177.5" cy="622" rx="10.5" ry="7.5" fill="#7e1a34"/><rect x="169" y="603" width="19" height="8" fill="#9e8060" stroke="none" stroke-width="1" /><path d="M171 603 C172 607 170.5 610 171.5 614" fill="none" stroke="#1a1a1a" stroke-width="1.0"/><path d="M175 603 C176 607 174.5 610 175.5 614" fill="none" stroke="#1a1a1a" stroke-width="1.0"/><path d="M179.5 603 C180.5 607 179 610 180 614" fill="none" stroke="#1a1a1a" stroke-width="1.0"/><path d="M184 603 C185 607 183.5 610 184.5 614" fill="none" stroke="#1a1a1a" stroke-width="1.0"/><ellipse cx="178" cy="630" rx="9" ry="3" fill="#e8c8d0"/><line x1="163" y1="606" x2="168" y2="612" stroke="#888" stroke-width="0.7" /></g><line x1="141" y1="630" x2="142" y2="626" stroke="#fff" stroke-width="0.9" /><line x1="177" y1="627" x2="178" y2="622" stroke="#fff" stroke-width="0.9" /><text x="142" y="634.96" font-size="5.3" text-anchor="middle" font-weight="normal" fill="#111" >Hydrogel</text><text x="177.6" y="634.96" font-size="5.3" text-anchor="middle" font-weight="normal" fill="#111" >Anti-adhesion</text><path d="M156.5 619.4 L162.5 619.4 L162.5 618.2 L165 620.6 L162.5 623 L162.5 621.8 L156.5 621.8 Z" fill="#f2b000"/><linearGradient id="ph2" x1="0" y1="0" x2="1" y2="0"><stop offset="0" stop-color="#bdbdbd"/><stop offset="0.5" stop-color="#d8d8d8"/><stop offset="1" stop-color="#c8c8c8"/></linearGradient><rect x="124.7" y="643.2" width="71.5" height="50.7" fill="url(#ph2)" stroke="none" stroke-width="1" /><line x1="160.5" y1="643.2" x2="160.5" y2="693.9" stroke="#e6e6e6" stroke-width="0.6" /><path d="M132.5 643.2 L153.5 643.2 L136.2 661.2 L129.2 658.2 Z" fill="#eadbe0" stroke="none" stroke-width="0" stroke-linejoin="round" /><line x1="132.5" y1="659.2" x2="135.9" y2="677.8" stroke="#eadbe0" stroke-width="4.8" stroke-linecap="round"/><path d="M133.4 678.8 C131.9 683.8 133.9 689.8 136.4 689.8 C138.4 685.8 138.9 680.8 138.4 677.8 Z" fill="#e7a8b6"/><path d="M145.5 646.9 L131.7 659.2 L135.9 677.8" fill="none" stroke="#222" stroke-width="0.8" stroke-linejoin="round" stroke-dasharray="1.6 1"/><circle cx="145.5" cy="646.9" r="2" fill="#fff" stroke="#555" stroke-width="0.6" /><circle cx="131.7" cy="659.2" r="2" fill="#fff" stroke="#555" stroke-width="0.6" /><circle cx="135.9" cy="677.8" r="2" fill="#fff" stroke="#555" stroke-width="0.6" /><path d="M167.6 643.2 L188.6 643.2 L170.9 661.6 L163.9 658.6 Z" fill="#eadbe0" stroke="none" stroke-width="0" stroke-linejoin="round" /><line x1="167.2" y1="659.6" x2="176.8" y2="675.2" stroke="#eadbe0" stroke-width="4.8" stroke-linecap="round"/><path d="M174.3 676.2 C172.8 681.2 174.8 687.2 177.3 687.2 C179.3 683.2 179.8 678.2 179.3 675.2 Z" fill="#e7a8b6"/><path d="M180.6 646.9 L166.4 659.6 L176.8 675.2" fill="none" stroke="#222" stroke-width="0.8" stroke-linejoin="round" stroke-dasharray="1.6 1"/><circle cx="180.6" cy="646.9" r="2" fill="#fff" stroke="#555" stroke-width="0.6" /><circle cx="166.4" cy="659.6" r="2" fill="#fff" stroke="#555" stroke-width="0.6" /><circle cx="176.8" cy="675.2" r="2" fill="#fff" stroke="#555" stroke-width="0.6" /><path d="M148.6 667.2 L155.2 667.2 L155.2 665.5 L158.6 668.6 L155.2 671.7 L155.2 670 L148.6 670 Z" fill="#f2b000"/><text x="207.1" y="544" font-size="22.6" font-weight="bold" fill="#000" stroke="#000" stroke-width="0.3">k</text><rect x="240.9" y="630.39" width="8.9" height="44.71" fill="#75aacc" stroke="none" stroke-width="1" /><rect x="271.9" y="622.5" width="8.8" height="52.6" fill="#75aacc" stroke="none" stroke-width="1" /><rect x="302.7" y="606.72" width="9.3" height="68.38" fill="#75aacc" stroke="none" stroke-width="1" /><rect x="334.2" y="583.05" width="8.8" height="92.05" fill="#75aacc" stroke="none" stroke-width="1" /><rect x="365" y="564.64" width="8.8" height="110.46" fill="#75aacc" stroke="none" stroke-width="1" /><rect x="315.2" y="659.32" width="8.9" height="15.78" fill="#cdcdcd" stroke="none" stroke-width="1" /><rect x="346.5" y="647.49" width="8.5" height="27.62" fill="#cdcdcd" stroke="none" stroke-width="1" /><rect x="377.4" y="627.76" width="8.8" height="47.34" fill="#cdcdcd" stroke="none" stroke-width="1" /><line x1="245.3" y1="626.45" x2="245.3" y2="634.34" stroke="#000" stroke-width="0.9" /><line x1="243.1" y1="626.45" x2="247.5" y2="626.45" stroke="#000" stroke-width="0.9" /><line x1="243.1" y1="634.34" x2="247.5" y2="634.34" stroke="#000" stroke-width="0.9" /><circle cx="243.8" cy="626.97" r="1.6" fill="#fff" stroke="#000" stroke-width="0.7" /><circle cx="248.3" cy="631.71" r="1.6" fill="#fff" stroke="#000" stroke-width="0.7" /><circle cx="245.5" cy="633.55" r="1.6" fill="#fff" stroke="#000" stroke-width="0.7" /><line x1="276.3" y1="616.45" x2="276.3" y2="628.55" stroke="#000" stroke-width="0.9" /><line x1="274.1" y1="616.45" x2="278.5" y2="616.45" stroke="#000" stroke-width="0.9" /><line x1="274.1" y1="628.55" x2="278.5" y2="628.55" stroke="#000" stroke-width="0.9" /><circle cx="276" cy="615.93" r="1.6" fill="#fff" stroke="#000" stroke-width="0.7" /><circle cx="273.5" cy="624.6" r="1.6" fill="#fff" stroke="#000" stroke-width="0.7" /><circle cx="278.8" cy="623.03" r="1.6" fill="#fff" stroke="#000" stroke-width="0.7" /><line x1="307.3" y1="600.67" x2="307.3" y2="612.77" stroke="#000" stroke-width="0.9" /><line x1="305.1" y1="600.67" x2="309.5" y2="600.67" stroke="#000" stroke-width="0.9" /><line x1="305.1" y1="612.77" x2="309.5" y2="612.77" stroke="#000" stroke-width="0.9" /><circle cx="307.5" cy="600.14" r="1.6" fill="#fff" stroke="#000" stroke-width="0.7" /><circle cx="305.2" cy="610.66" r="1.6" fill="#fff" stroke="#000" stroke-width="0.7" /><circle cx="309.8" cy="608.56" r="1.6" fill="#fff" stroke="#000" stroke-width="0.7" /><line x1="338.6" y1="577.79" x2="338.6" y2="588.31" stroke="#000" stroke-width="0.9" /><line x1="336.4" y1="577.79" x2="340.8" y2="577.79" stroke="#000" stroke-width="0.9" /><line x1="336.4" y1="588.31" x2="340.8" y2="588.31" stroke="#000" stroke-width="0.9" /><circle cx="338.5" cy="577.26" r="1.6" fill="#fff" stroke="#000" stroke-width="0.7" /><circle cx="336.5" cy="584.37" r="1.6" fill="#fff" stroke="#000" stroke-width="0.7" /><circle cx="341.2" cy="583.58" r="1.6" fill="#fff" stroke="#000" stroke-width="0.7" /><line x1="369.4" y1="560.7" x2="369.4" y2="568.59" stroke="#000" stroke-width="0.9" /><line x1="367.2" y1="560.7" x2="371.6" y2="560.7" stroke="#000" stroke-width="0.9" /><line x1="367.2" y1="568.59" x2="371.6" y2="568.59" stroke="#000" stroke-width="0.9" /><circle cx="368.5" cy="559.91" r="1.6" fill="#fff" stroke="#000" stroke-width="0.7" /><circle cx="371" cy="563.85" r="1.6" fill="#fff" stroke="#000" stroke-width="0.7" /><circle cx="369.3" cy="569.37" r="1.6" fill="#fff" stroke="#000" stroke-width="0.7" /><line x1="319.6" y1="653.27" x2="319.6" y2="665.37" stroke="#000" stroke-width="0.9" /><line x1="317.4" y1="653.27" x2="321.8" y2="653.27" stroke="#000" stroke-width="0.9" /><line x1="317.4" y1="665.37" x2="321.8" y2="665.37" stroke="#000" stroke-width="0.9" /><circle cx="319.7" cy="653.01" r="1.6" fill="#fff" stroke="#000" stroke-width="0.7" /><circle cx="317" cy="661.42" r="1.6" fill="#fff" stroke="#000" stroke-width="0.7" /><circle cx="322.2" cy="661.69" r="1.6" fill="#fff" stroke="#000" stroke-width="0.7" /><line x1="350.8" y1="642.75" x2="350.8" y2="652.22" stroke="#000" stroke-width="0.9" /><line x1="348.6" y1="642.75" x2="353" y2="642.75" stroke="#000" stroke-width="0.9" /><line x1="348.6" y1="652.22" x2="353" y2="652.22" stroke="#000" stroke-width="0.9" /><circle cx="349.6" cy="643.01" r="1.6" fill="#fff" stroke="#000" stroke-width="0.7" /><circle cx="352.5" cy="646.7" r="1.6" fill="#fff" stroke="#000" stroke-width="0.7" /><circle cx="350.2" cy="651.69" r="1.6" fill="#fff" stroke="#000" stroke-width="0.7" /><line x1="381.8" y1="618.56" x2="381.8" y2="636.97" stroke="#000" stroke-width="0.9" /><line x1="379.6" y1="618.56" x2="384" y2="618.56" stroke="#000" stroke-width="0.9" /><line x1="379.6" y1="636.97" x2="384" y2="636.97" stroke="#000" stroke-width="0.9" /><circle cx="382.3" cy="619.08" r="1.6" fill="#fff" stroke="#000" stroke-width="0.7" /><circle cx="383.6" cy="629.86" r="1.6" fill="#fff" stroke="#000" stroke-width="0.7" /><circle cx="379.8" cy="634.6" r="1.6" fill="#fff" stroke="#000" stroke-width="0.7" /><circle cx="255.3" cy="674.9" r="1.4" fill="#fff" stroke="#000" stroke-width="0.6" /><circle cx="257.8" cy="674.9" r="1.4" fill="#fff" stroke="#000" stroke-width="0.6" /><circle cx="260.3" cy="674.9" r="1.4" fill="#fff" stroke="#000" stroke-width="0.6" /><circle cx="286.1" cy="674.9" r="1.4" fill="#fff" stroke="#000" stroke-width="0.6" /><circle cx="288.6" cy="674.9" r="1.4" fill="#fff" stroke="#000" stroke-width="0.6" /><circle cx="291.1" cy="674.9" r="1.4" fill="#fff" stroke="#000" stroke-width="0.6" /><rect x="235.7" y="536.9" width="155.8" height="138.2" fill="none" stroke="#000" stroke-width="1.3" /><line x1="232.9" y1="675.1" x2="235.7" y2="675.1" stroke="#000" stroke-width="1.2" /><text x="231.8" y="679.23" font-size="11.8" text-anchor="end" font-weight="bold" fill="#000" >0</text><line x1="232.9" y1="635.65" x2="235.7" y2="635.65" stroke="#000" stroke-width="1.2" /><text x="231.8" y="639.78" font-size="11.8" text-anchor="end" font-weight="bold" fill="#000" >15</text><line x1="232.9" y1="596.2" x2="235.7" y2="596.2" stroke="#000" stroke-width="1.2" /><text x="231.8" y="600.33" font-size="11.8" text-anchor="end" font-weight="bold" fill="#000" >30</text><line x1="232.9" y1="556.75" x2="235.7" y2="556.75" stroke="#000" stroke-width="1.2" /><text x="231.8" y="560.88" font-size="11.8" text-anchor="end" font-weight="bold" fill="#000" >45</text><line x1="234.1" y1="655.38" x2="235.7" y2="655.38" stroke="#000" stroke-width="0.9" /><line x1="234.1" y1="615.93" x2="235.7" y2="615.93" stroke="#000" stroke-width="0.9" /><line x1="234.1" y1="576.48" x2="235.7" y2="576.48" stroke="#000" stroke-width="0.9" /><line x1="234.1" y1="537.03" x2="235.7" y2="537.03" stroke="#000" stroke-width="0.9" /><line x1="251.7" y1="675.1" x2="251.7" y2="677.7" stroke="#000" stroke-width="1.1" /><text x="251.7" y="690.13" font-size="11.8" text-anchor="middle" font-weight="bold" fill="#000" >0.15</text><line x1="282.7" y1="675.1" x2="282.7" y2="677.7" stroke="#000" stroke-width="1.1" /><text x="282.7" y="690.13" font-size="11.8" text-anchor="middle" font-weight="bold" fill="#000" >0.25</text><line x1="313.6" y1="675.1" x2="313.6" y2="677.7" stroke="#000" stroke-width="1.1" /><text x="313.6" y="690.13" font-size="11.8" text-anchor="middle" font-weight="bold" fill="#000" >0.50</text><line x1="345" y1="675.1" x2="345" y2="677.7" stroke="#000" stroke-width="1.1" /><text x="345" y="690.13" font-size="11.8" text-anchor="middle" font-weight="bold" fill="#000" >0.75</text><line x1="375.4" y1="675.1" x2="375.4" y2="677.7" stroke="#000" stroke-width="1.1" /><text x="375.4" y="690.13" font-size="11.8" text-anchor="middle" font-weight="bold" fill="#000" >1.0</text><text x="317.6" y="702.63" font-size="11.8" text-anchor="middle" font-weight="bold" fill="#000" >Stimulation voltage (V)</text><text transform="rotate(-90 211.6 606)" x="211.6" y="610.1" font-size="11.7" text-anchor="middle" font-weight="bold">Movement angle <tspan font-style="italic">θ</tspan> (°)</text><rect x="288.3" y="546" width="12.9" height="6.6" fill="#75aacc" stroke="none" stroke-width="1" /><rect x="288.3" y="557.3" width="12.9" height="6.4" fill="#cdcdcd" stroke="none" stroke-width="1" /><text x="305.6" y="552.35" font-size="9" text-anchor="start" font-weight="bold" fill="#000" >Hydrogel interface</text><text x="305.6" y="563.65" font-size="9" text-anchor="start" font-weight="bold" fill="#000" >Au electrode</text><linearGradient id="thg" x1="0" y1="0" x2="1" y2="0"><stop offset="0" stop-color="#d8cabd" stop-opacity="0.5"/><stop offset="0.5" stop-color="#cdbcac"/><stop offset="1" stop-color="#bfae9e"/></linearGradient><path d="M251 571.5 C258 566 266 561 273 558.5 C275 556 273 554.5 272.5 554 C277 555.5 281 559 283 563 C279 566 271 570 262 572.5 C258 573.5 254 573 251 571.5 Z" fill="url(#thg)"/><path d="M281.5 561.5 C276 570 270 580 266.5 590 C265.5 592.5 265 594 266 594.5 L269 594 C272 584 277 574 283.5 566 Z" fill="#e8b2aa" stroke="#d9a098" stroke-width="0.5"/><path d="M264 589 C262.5 591 262.8 594.5 264.5 595.5 C266.5 595.8 268.5 594 269 591 Z" fill="#e8b2aa"/><path d="M278.5 563 C284 571 290 580 295.5 586.5 C297.5 588.5 298.5 588 298 585.5 C294 578 288 569 282.5 561 Z" fill="#e0a69e" stroke="#d39890" stroke-width="0.5"/><path d="M294.5 584 C296.5 583 299 584.5 299 587 C298 589.5 295.5 589.5 294 587.5 Z" fill="#e0a69e"/><path d="M265 593.6 L280.3 563.7 L296 593.6" fill="none" stroke="#222" stroke-width="0.6" stroke-linejoin="round" stroke-dasharray="1 1"/><path d="M265 593.6 Q280.5 597 296 593.6" fill="none" stroke="#3a78c8" stroke-width="0.8" stroke-dasharray="1.2 0.8"/><circle cx="280.3" cy="563.7" r="1.5" fill="#3a8ae0" stroke="none" stroke-width="0" /><circle cx="265" cy="593.6" r="1.5" fill="#fff" stroke="#3a78c8" stroke-width="0.6" /><circle cx="296" cy="593.6" r="1.5" fill="#1f5fb0" stroke="none" stroke-width="0" /><text x="280.8" y="590.45" font-size="7" text-anchor="middle" font-weight="normal" fill="#333" >θ</text><text x="396.8" y="544.1" font-size="22.6" font-weight="bold" fill="#000" stroke="#000" stroke-width="0.3">l</text><rect x="446.6" y="537.5" width="14.4" height="157.6" fill="#e2e2e2" stroke="none" stroke-width="1" /><rect x="476.2" y="537.5" width="14.1" height="157.6" fill="#e2e2e2" stroke="none" stroke-width="1" /><rect x="505.1" y="537.5" width="14.2" height="157.6" fill="#e2e2e2" stroke="none" stroke-width="1" /><path d="M440.5 557.5 L441.2 557.57 L441.9 558.09 L442.6 557.84 L443.3 557.75 L444 557.56 L444.7 557.01 L445.4 558.37 L446.1 558.56 L446.8 557.71 L447.5 557.22 L448.2 557.31 L448.9 555.5 L449.6 557.52 L450.3 558.7 L451 557.06 L451.7 555.91 L452.4 557.33 L453.1 556.86 L453.8 556.72 L454.5 558.58 L455.2 557.84 L455.9 559.02 L456.6 558.02 L457.3 557.69 L458 558.03 L458.7 558.47 L459.4 557.38 L460.1 558.25 L460.8 558.07 L461.5 558.49 L462.2 558.22 L462.9 558.14 L463.6 557.59 L464.3 556.71 L465 557.53 L465.7 556.08 L466.4 557.68 L467.1 557.29 L467.8 557.49 L468.5 557.6 L469.2 557.65 L469.9 557.76 L470.6 558.01 L471.3 556.72 L472 557.17 L472.7 558.81 L473.4 558.89 L474.1 558.12 L474.8 555.76 L475.5 557 L476.2 559.2 L476.9 556.2 L477.6 557.31 L478.3 556.94 L479 556.97 L479.7 556.66 L480.4 557.08 L481.1 555.98 L481.8 556.22 L482.5 557.53 L483.2 558.16 L483.9 555.77 L484.6 557.29 L485.3 556.99 L486 558.04 L486.7 558.08 L487.4 557.31 L488.1 558.86 L488.8 557.8 L489.5 556.43 L490.2 557.17 L490.9 558.21 L491.6 555.93 L492.3 557.74 L493 556.88 L493.7 556.21 L494.4 558.22 L495.1 558.21 L495.8 557.89 L496.5 556.74 L497.2 557.76 L497.9 556.99 L498.6 558 L499.3 558.52 L500 558.66 L500.7 557.39 L501.4 556.61 L502.1 557.8 L502.8 558.98 L503.5 557.79 L504.2 557.44 L504.9 556.8 L505.6 556.13 L506.3 556.24 L507 557.37 L507.7 557.62 L508.4 556.04 L509.1 557.84 L509.8 556.64 L510.5 557.34 L511.2 556.56 L511.9 557.1 L512.6 558.58 L513.3 556.9 L514 557.88 L514.7 557.66 L515.4 557.75 L516.1 557.06 L516.8 556.26 L517.5 557.6 L518.2 557.89 L518.9 557.22 L519.6 557.79 L520.3 556.03 L521 555.87 L521.7 557.98 L522.4 557.31 L523.1 556.62 L523.8 556.84 L524.5 558.06 L524.5 570.91 L523.8 571.01 L523.1 571.12 L522.4 569.56 L521.7 570.68 L521 571.18 L520.3 570.49 L519.6 570.35 L518.9 571.43 L518.2 570.97 L517.5 570.7 L516.8 570.81 L516.1 571.17 L515.4 570.27 L514.7 570.68 L514 568.87 L513.3 570.54 L512.6 570.08 L511.9 570.8 L511.2 572 L510.5 570.8 L509.8 571.53 L509.1 571.2 L508.4 570.95 L507.7 570.96 L507 571.17 L506.3 570.47 L505.6 570.15 L504.9 570.47 L504.2 570.23 L503.5 570.4 L502.8 569.83 L502.1 570.77 L501.4 571.69 L500.7 570.98 L500 569.18 L499.3 571.02 L498.6 570.25 L497.9 570.47 L497.2 568.84 L496.5 570.43 L495.8 571.12 L495.1 570.17 L494.4 569.47 L493.7 570.41 L493 571.15 L492.3 569.91 L491.6 570.99 L490.9 570.46 L490.2 571.56 L489.5 571.1 L488.8 570.13 L488.1 569.66 L487.4 571.29 L486.7 570.82 L486 571.15 L485.3 569.57 L484.6 570.42 L483.9 571.89 L483.2 570.96 L482.5 570.87 L481.8 571.17 L481.1 571.04 L480.4 571.65 L479.7 571.52 L479 571.35 L478.3 569.36 L477.6 571.19 L476.9 569.86 L476.2 570.31 L475.5 570.09 L474.8 571.54 L474.1 570.34 L473.4 569.44 L472.7 569.49 L472 569.53 L471.3 570.81 L470.6 570.32 L469.9 570.01 L469.2 571.52 L468.5 569.18 L467.8 569.87 L467.1 570.59 L466.4 570.68 L465.7 570.69 L465 570.41 L464.3 571.49 L463.6 570.57 L462.9 569.28 L462.2 569.37 L461.5 570.43 L460.8 571.73 L460.1 570.57 L459.4 571.85 L458.7 570.78 L458 570.58 L457.3 569.25 L456.6 569.79 L455.9 570.25 L455.2 570.42 L454.5 570.51 L453.8 570.25 L453.1 570.42 L452.4 569.88 L451.7 570.23 L451 570.08 L450.3 570.57 L449.6 570.3 L448.9 572.15 L448.2 570.32 L447.5 570.51 L446.8 571.07 L446.1 569.07 L445.4 568.84 L444.7 570.07 L444 570.41 L443.3 570.05 L442.6 570.6 L441.9 570.12 L441.2 570.58 L440.5 571.2 Z" fill="#52709f" stroke="none" stroke-width="0" stroke-linejoin="round" /><line x1="452.3" y1="539.7" x2="452.3" y2="564" stroke="#52709f" stroke-width="0.8" /><path d="M451.7 564 L452.9 549.2 L454.8 552.16 L456.8 555.49 L458.8 557.34 L458.8 564 Z" fill="#52709f" stroke="none" stroke-width="0" stroke-linejoin="round" /><path d="M451.5 564 L452.5 589.6 L453.2 583.6 L455.1 572.88 L456.8 564 Z" fill="#52709f" stroke="none" stroke-width="0" stroke-linejoin="round" /><line x1="482.8" y1="539.7" x2="482.8" y2="564" stroke="#52709f" stroke-width="0.8" /><path d="M482.2 564 L483.4 549.2 L485.3 552.16 L487.3 555.49 L489.3 557.34 L489.3 564 Z" fill="#52709f" stroke="none" stroke-width="0" stroke-linejoin="round" /><path d="M482 564 L483 589.6 L483.7 583.6 L485.6 572.88 L487.3 564 Z" fill="#52709f" stroke="none" stroke-width="0" stroke-linejoin="round" /><line x1="511.6" y1="539.7" x2="511.6" y2="564" stroke="#52709f" stroke-width="0.8" /><path d="M511 564 L512.2 549.2 L514.1 552.16 L516.1 555.49 L518.1 557.34 L518.1 564 Z" fill="#52709f" stroke="none" stroke-width="0" stroke-linejoin="round" /><path d="M510.8 564 L511.8 589.6 L512.5 583.6 L514.4 572.88 L516.1 564 Z" fill="#52709f" stroke="none" stroke-width="0" stroke-linejoin="round" /><path d="M440.5 612.56 L441.2 614.04 L441.9 612.65 L442.6 612.52 L443.3 613.41 L444 612.95 L444.7 613.17 L445.4 612.38 L446.1 612.87 L446.8 612.71 L447.5 613.49 L448.2 612.88 L448.9 613.24 L449.6 612.46 L450.3 612.67 L451 613.18 L451.7 611.73 L452.4 612.69 L453.1 613.76 L453.8 612.25 L454.5 613.05 L455.2 613.2 L455.9 612.52 L456.6 613.23 L457.3 613.81 L458 613.32 L458.7 613.55 L459.4 612.1 L460.1 612.67 L460.8 612.89 L461.5 613.86 L462.2 613.42 L462.9 613.32 L463.6 612 L464.3 612.61 L465 613.02 L465.7 612.6 L466.4 611.36 L467.1 612.53 L467.8 612.06 L468.5 612.95 L469.2 612.88 L469.9 612.78 L470.6 613.27 L471.3 612.48 L472 611.58 L472.7 611.97 L473.4 612.9 L474.1 612.3 L474.8 611.75 L475.5 611.41 L476.2 612.54 L476.9 613.3 L477.6 612.41 L478.3 613.31 L479 613.34 L479.7 612.76 L480.4 613.68 L481.1 612.09 L481.8 613.72 L482.5 613.38 L483.2 613.43 L483.9 612.99 L484.6 613.57 L485.3 612.58 L486 613.05 L486.7 612.03 L487.4 612.27 L488.1 613.14 L488.8 612.66 L489.5 611.94 L490.2 612.65 L490.9 613 L491.6 613.74 L492.3 613.85 L493 612.44 L493.7 612.36 L494.4 613.63 L495.1 612.05 L495.8 612.72 L496.5 613.11 L497.2 612.45 L497.9 613.6 L498.6 613.47 L499.3 611.62 L500 612.75 L500.7 611.61 L501.4 613.04 L502.1 613.99 L502.8 612.79 L503.5 613.54 L504.2 613.28 L504.9 612.8 L505.6 612.03 L506.3 612.62 L507 613.08 L507.7 612.82 L508.4 612.21 L509.1 611.73 L509.8 612.75 L510.5 612.91 L511.2 613.98 L511.9 613.89 L512.6 612.29 L513.3 611.61 L514 613.89 L514.7 613.29 L515.4 612.82 L516.1 613.8 L516.8 611.18 L517.5 612.36 L518.2 611.94 L518.9 613.91 L519.6 611.85 L520.3 613.21 L521 612.04 L521.7 612.52 L522.4 613.36 L523.1 613.29 L523.8 612.83 L524.5 613.05 L524.5 623.2 L523.8 623.86 L523.1 623.7 L522.4 623.38 L521.7 623.58 L521 623.82 L520.3 623.94 L519.6 624.43 L518.9 622.84 L518.2 624.59 L517.5 623.93 L516.8 624.81 L516.1 623.39 L515.4 623.21 L514.7 624 L514 623.49 L513.3 625.17 L512.6 624.71 L511.9 622.32 L511.2 622.38 L510.5 623.37 L509.8 623.88 L509.1 624.2 L508.4 623.92 L507.7 624.69 L507 623.48 L506.3 624.06 L505.6 623.87 L504.9 623.73 L504.2 624.1 L503.5 623.67 L502.8 623.42 L502.1 622.4 L501.4 623.87 L500.7 623.67 L500 623.36 L499.3 623.95 L498.6 624.21 L497.9 623.87 L497.2 622.95 L496.5 623.3 L495.8 623.11 L495.1 624.66 L494.4 623.57 L493.7 624.08 L493 623.44 L492.3 623.7 L491.6 623.13 L490.9 623.31 L490.2 623.12 L489.5 624.69 L488.8 623.72 L488.1 623.59 L487.4 624.1 L486.7 623.37 L486 623.87 L485.3 623.19 L484.6 623.18 L483.9 624.06 L483.2 623.11 L482.5 623.81 L481.8 623.4 L481.1 624.79 L480.4 623.27 L479.7 622.8 L479 623.31 L478.3 623.33 L477.6 624.13 L476.9 624.07 L476.2 623.37 L475.5 624.3 L474.8 624.46 L474.1 623.15 L473.4 623.53 L472.7 624.24 L472 624.19 L471.3 624.41 L470.6 623.95 L469.9 622.94 L469.2 623.54 L468.5 623.57 L467.8 624.67 L467.1 622.96 L466.4 623.7 L465.7 623.21 L465 623.89 L464.3 623.86 L463.6 623.51 L462.9 623.6 L462.2 622.62 L461.5 623.24 L460.8 623.75 L460.1 622.91 L459.4 625.18 L458.7 623.14 L458 623.77 L457.3 622.69 L456.6 624.03 L455.9 622.83 L455.2 623.54 L454.5 622.8 L453.8 623.64 L453.1 622.83 L452.4 623.68 L451.7 624.1 L451 623.56 L450.3 623.58 L449.6 623.97 L448.9 623.36 L448.2 622.82 L447.5 622.5 L446.8 623.63 L446.1 622.96 L445.4 622.72 L444.7 622.73 L444 624.83 L443.3 622.58 L442.6 624.05 L441.9 623.56 L441.2 622.89 L440.5 623.85 Z" fill="#3e9c6d" stroke="none" stroke-width="0" stroke-linejoin="round" /><line x1="452.3" y1="605" x2="452.3" y2="618.2" stroke="#3e9c6d" stroke-width="0.8" /><path d="M451.7 618.2 L452.9 605.8 L454.8 608.28 L456.8 611.07 L458.8 612.62 L458.8 618.2 Z" fill="#3e9c6d" stroke="none" stroke-width="0" stroke-linejoin="round" /><path d="M451.5 618.2 L452.5 643 L453.2 637 L455.1 625.64 L456.8 618.2 Z" fill="#3e9c6d" stroke="none" stroke-width="0" stroke-linejoin="round" /><line x1="482.8" y1="605" x2="482.8" y2="618.2" stroke="#3e9c6d" stroke-width="0.8" /><path d="M482.2 618.2 L483.4 605.8 L485.3 608.28 L487.3 611.07 L489.3 612.62 L489.3 618.2 Z" fill="#3e9c6d" stroke="none" stroke-width="0" stroke-linejoin="round" /><path d="M482 618.2 L483 643 L483.7 637 L485.6 625.64 L487.3 618.2 Z" fill="#3e9c6d" stroke="none" stroke-width="0" stroke-linejoin="round" /><line x1="511.6" y1="605" x2="511.6" y2="618.2" stroke="#3e9c6d" stroke-width="0.8" /><path d="M511 618.2 L512.2 605.8 L514.1 608.28 L516.1 611.07 L518.1 612.62 L518.1 618.2 Z" fill="#3e9c6d" stroke="none" stroke-width="0" stroke-linejoin="round" /><path d="M510.8 618.2 L511.8 643 L512.5 637 L514.4 625.64 L516.1 618.2 Z" fill="#3e9c6d" stroke="none" stroke-width="0" stroke-linejoin="round" /><path d="M440.5 661.04 L441.2 660.95 L441.9 662.06 L442.6 661.55 L443.3 661.43 L444 661.7 L444.7 660.93 L445.4 659.67 L446.1 659.45 L446.8 660.31 L447.5 660.95 L448.2 661.41 L448.9 659.7 L449.6 660.46 L450.3 661.29 L451 662.05 L451.7 661.45 L452.4 661.81 L453.1 661.89 L453.8 661.97 L454.5 660.33 L455.2 661.12 L455.9 659.64 L456.6 661.71 L457.3 659.56 L458 660.54 L458.7 660.78 L459.4 661.11 L460.1 660.59 L460.8 660.83 L461.5 661.22 L462.2 662.2 L462.9 660.74 L463.6 661.34 L464.3 661.01 L465 661.72 L465.7 661.76 L466.4 661.36 L467.1 660.02 L467.8 660.65 L468.5 661.79 L469.2 660.99 L469.9 660.79 L470.6 661.67 L471.3 661.74 L472 661.89 L472.7 661.73 L473.4 661.53 L474.1 661.62 L474.8 660.96 L475.5 660.92 L476.2 662.01 L476.9 661.29 L477.6 661.03 L478.3 661.08 L479 660.1 L479.7 662.26 L480.4 661.61 L481.1 660.65 L481.8 660.18 L482.5 660.07 L483.2 660.55 L483.9 661.02 L484.6 660.25 L485.3 660.45 L486 662.46 L486.7 661.32 L487.4 659.18 L488.1 660.83 L488.8 660.96 L489.5 661.98 L490.2 661.43 L490.9 661.97 L491.6 661.67 L492.3 660.76 L493 660.14 L493.7 661.42 L494.4 660.1 L495.1 661.2 L495.8 661.71 L496.5 662.22 L497.2 660.57 L497.9 660.23 L498.6 660.16 L499.3 661.13 L500 660.99 L500.7 661.75 L501.4 661.4 L502.1 661.34 L502.8 660.52 L503.5 662.25 L504.2 660.27 L504.9 660.95 L505.6 659.64 L506.3 660.17 L507 662.04 L507.7 661.63 L508.4 660.7 L509.1 660.48 L509.8 660.79 L510.5 660.25 L511.2 660.9 L511.9 660.84 L512.6 661.13 L513.3 659.38 L514 660.97 L514.7 662.19 L515.4 661.62 L516.1 660.69 L516.8 660.63 L517.5 662.28 L518.2 661.68 L518.9 661.49 L519.6 661.3 L520.3 660.21 L521 659.63 L521.7 661.55 L522.4 660.34 L523.1 660.69 L523.8 661.79 L524.5 660.02 L524.5 673.54 L523.8 673.54 L523.1 674.1 L522.4 673.28 L521.7 673.08 L521 673.7 L520.3 674.58 L519.6 674.07 L518.9 672.22 L518.2 673.02 L517.5 672.41 L516.8 672.6 L516.1 672.97 L515.4 674.41 L514.7 672.49 L514 674.18 L513.3 674.29 L512.6 674.44 L511.9 673.35 L511.2 674.34 L510.5 675.66 L509.8 673.71 L509.1 675.25 L508.4 674.63 L507.7 674.34 L507 673.83 L506.3 674.47 L505.6 674.85 L504.9 673.88 L504.2 674.2 L503.5 673.72 L502.8 673.47 L502.1 672.52 L501.4 673.62 L500.7 673.77 L500 672.61 L499.3 675.52 L498.6 674.18 L497.9 673.36 L497.2 673.51 L496.5 673.44 L495.8 674.65 L495.1 673.07 L494.4 673.96 L493.7 673.77 L493 674.22 L492.3 674.04 L491.6 674.22 L490.9 672.88 L490.2 674.37 L489.5 674.01 L488.8 674.81 L488.1 674.37 L487.4 675.22 L486.7 674.74 L486 672.31 L485.3 673.13 L484.6 674 L483.9 673.83 L483.2 674.68 L482.5 673.8 L481.8 675.18 L481.1 673.06 L480.4 673 L479.7 673.57 L479 673.79 L478.3 672.88 L477.6 674.86 L476.9 674.32 L476.2 672.97 L475.5 674.06 L474.8 672.53 L474.1 673.45 L473.4 673.4 L472.7 674.61 L472 674.17 L471.3 672.51 L470.6 673.21 L469.9 674.71 L469.2 674.7 L468.5 673.7 L467.8 673.44 L467.1 673.9 L466.4 674.14 L465.7 672.87 L465 673.69 L464.3 672.32 L463.6 672.99 L462.9 673.07 L462.2 673.62 L461.5 672.57 L460.8 673.87 L460.1 673.75 L459.4 674.53 L458.7 673.38 L458 674.99 L457.3 673.95 L456.6 673.89 L455.9 674.74 L455.2 673.89 L454.5 675.19 L453.8 673.91 L453.1 672.84 L452.4 673.66 L451.7 673.61 L451 673.32 L450.3 673.1 L449.6 674.74 L448.9 675.5 L448.2 673.02 L447.5 673.73 L446.8 675.07 L446.1 674.17 L445.4 674.96 L444.7 673.76 L444 673.63 L443.3 674.11 L442.6 672.69 L441.9 673.63 L441.2 673.95 L440.5 673.76 Z" fill="#c94a50" stroke="none" stroke-width="0" stroke-linejoin="round" /><line x1="452.3" y1="653.4" x2="452.3" y2="667.4" stroke="#c94a50" stroke-width="0.8" /><path d="M451.7 667.4 L452.9 652.6 L454.8 655.56 L456.8 658.89 L458.8 660.74 L458.8 667.4 Z" fill="#c94a50" stroke="none" stroke-width="0" stroke-linejoin="round" /><path d="M451.5 667.4 L452.5 691.3 L453.2 685.3 L455.1 676.28 L456.8 667.4 Z" fill="#c94a50" stroke="none" stroke-width="0" stroke-linejoin="round" /><line x1="482.8" y1="653.4" x2="482.8" y2="667.4" stroke="#c94a50" stroke-width="0.8" /><path d="M482.2 667.4 L483.4 652.6 L485.3 655.56 L487.3 658.89 L489.3 660.74 L489.3 667.4 Z" fill="#c94a50" stroke="none" stroke-width="0" stroke-linejoin="round" /><path d="M482 667.4 L483 691.3 L483.7 685.3 L485.6 676.28 L487.3 667.4 Z" fill="#c94a50" stroke="none" stroke-width="0" stroke-linejoin="round" /><line x1="511.6" y1="653.4" x2="511.6" y2="667.4" stroke="#c94a50" stroke-width="0.8" /><path d="M511 667.4 L512.2 652.6 L514.1 655.56 L516.1 658.89 L518.1 660.74 L518.1 667.4 Z" fill="#c94a50" stroke="none" stroke-width="0" stroke-linejoin="round" /><path d="M510.8 667.4 L511.8 691.3 L512.5 685.3 L514.4 676.28 L516.1 667.4 Z" fill="#c94a50" stroke="none" stroke-width="0" stroke-linejoin="round" /><text x="404.1" y="549.7" font-size="10" text-anchor="start" font-weight="bold" fill="#000" >Strong</text><text x="407.3" y="603.2" font-size="10" text-anchor="start" font-weight="bold" fill="#000" >Weak</text><text x="411.1" y="658.8" font-size="10" text-anchor="start" font-weight="bold" fill="#000" >Tap</text><g transform="translate(400.8 554.2)"><path d="M0 0 L6.5 0 L13.5 4.5 L13.5 10.5 L0 10.5 Z" fill="#d6c8b8"/><path d="M13.4 3.2 C10 9 7 16 4.6 22.5" fill="none" stroke="#efc2ba" stroke-width="3.4" stroke-linecap="round"/><path d="M2.2 21 C1.5 23.5 2.5 26 4.5 26.8 C6.5 26.5 7.6 24 7.2 21.5 Z" fill="#efc2ba"/><path d="M14 2.4 C17 8 20.5 14 23.8 18.6" fill="none" stroke="#dd9c92" stroke-width="3.4" stroke-linecap="round"/><path d="M21.5 17.5 C24 16.5 28 18.5 29 22 C28 24 25.5 24 23.5 22.5 Z" fill="#dd9c92"/><path d="M6.6 19.3 Q14 20.5 21.5 18.8" fill="none" stroke="#3a68b0" stroke-width="0.8" stroke-dasharray="1.3 0.8"/><circle cx="6.6" cy="19.3" r="0.7" fill="#3a68b0" stroke="none" stroke-width="0" /><path d="M22 12.5 L25.5 9.5 L24.2 7.5 L29 6.8 L33.5 3.5 L37 5.5 L36.5 10 L35 14.5 L31 16 L27 16.5 L23.5 17.5 Z" fill="#fff" fill-opacity="0.6" stroke="#4a4ab0" stroke-width="0.6"/></g><g transform="translate(400.8 607.5)"><path d="M0 0 L6.5 0 L13.5 4.5 L13.5 10.5 L0 10.5 Z" fill="#d6c8b8"/><path d="M13.4 3.2 C10 9 7 16 4.6 22.5" fill="none" stroke="#efc2ba" stroke-width="3.4" stroke-linecap="round"/><path d="M2.2 21 C1.5 23.5 2.5 26 4.5 26.8 C6.5 26.5 7.6 24 7.2 21.5 Z" fill="#efc2ba"/><path d="M14 2.4 C17 8 20.5 14 23.8 18.6" fill="none" stroke="#dd9c92" stroke-width="3.4" stroke-linecap="round"/><path d="M21.5 17.5 C24 16.5 28 18.5 29 22 C28 24 25.5 24 23.5 22.5 Z" fill="#dd9c92"/><path d="M6.6 19.3 Q14 20.5 21.5 18.8" fill="none" stroke="#2e8a5a" stroke-width="0.8" stroke-dasharray="1.3 0.8"/><circle cx="6.6" cy="19.3" r="0.7" fill="#2e8a5a" stroke="none" stroke-width="0" /><path d="M22 12.5 L25.5 9.5 L24.2 7.5 L29 6.8 L33.5 3.5 L37 5.5 L36.5 10 L35 14.5 L31 16 L27 16.5 L23.5 17.5 Z" fill="#fff" fill-opacity="0.6" stroke="#4a4ab0" stroke-width="0.6"/></g><g transform="translate(400.7 662)"><path d="M0 0 L6.5 0 L13.5 4.5 L13.5 10.5 L0 10.5 Z" fill="#d6c8b8"/><path d="M14 2.4 C17 8 20.5 14 23.8 18.6" fill="none" stroke="#dd9c92" stroke-width="3.4" stroke-linecap="round"/><path d="M21.5 17.5 C24 16.5 28 18.5 29 22 C28 24 25.5 24 23.5 22.5 Z" fill="#dd9c92"/><circle cx="20.5" cy="12" r="0.8" fill="#d03030" stroke="none" stroke-width="0" /><path d="M22 12.5 L25.5 9.5 L24.2 7.5 L29 6.8 L33.5 3.5 L37 5.5 L36.5 10 L35 14.5 L31 16 L27 16.5 L23.5 17.5 Z" fill="#fff" fill-opacity="0.6" stroke="#4a4ab0" stroke-width="0.6"/></g><text x="525.1" y="550.64" font-size="8.4" text-anchor="start" font-weight="normal" fill="#222" >0.5 s</text><path d="M528.3 555 L542.4 555 L542.4 570.2" fill="none" stroke="#222" stroke-width="1" stroke-linejoin="round" /><text x="525.1" y="580.54" font-size="8.4" text-anchor="start" font-weight="normal" fill="#222" >40 μV</text><text x="525.1" y="603.34" font-size="8.4" text-anchor="start" font-weight="normal" fill="#222" >0.5 s</text><path d="M528.3 607.7 L542.4 607.7 L542.4 622.9" fill="none" stroke="#222" stroke-width="1" stroke-linejoin="round" /><text x="525.1" y="633.24" font-size="8.4" text-anchor="start" font-weight="normal" fill="#222" >40 μV</text><text x="525.1" y="655.94" font-size="8.4" text-anchor="start" font-weight="normal" fill="#222" >0.5 s</text><path d="M528.3 660.3 L542.4 660.3 L542.4 675.5" fill="none" stroke="#222" stroke-width="1" stroke-linejoin="round" /><text x="525.1" y="685.84" font-size="8.4" text-anchor="start" font-weight="normal" fill="#222" >40 μV</text><text x="551.4" y="544" font-size="22.6" font-weight="bold" fill="#000" stroke="#000" stroke-width="0.3">m</text><rect x="585.2" y="562.7" width="18.7" height="112.4" fill="#d4676a" stroke="none" stroke-width="1" /><rect x="618.2" y="590.14" width="18.7" height="84.96" fill="#7aaecd" stroke="none" stroke-width="1" /><rect x="651" y="630.01" width="18.9" height="45.09" fill="#c6c6c6" stroke="none" stroke-width="1" /><line x1="594.5" y1="550.94" x2="594.5" y2="562.7" stroke="#000" stroke-width="1" /><line x1="590" y1="550.94" x2="599" y2="550.94" stroke="#000" stroke-width="1" /><line x1="627.5" y1="574.46" x2="627.5" y2="590.14" stroke="#000" stroke-width="1" /><line x1="623" y1="574.46" x2="632" y2="574.46" stroke="#000" stroke-width="1" /><line x1="660.5" y1="615.63" x2="660.5" y2="630.01" stroke="#000" stroke-width="1" /><line x1="656" y1="615.63" x2="665" y2="615.63" stroke="#000" stroke-width="1" /><circle cx="593.3" cy="552.2" r="1.9" fill="#fff" stroke="#d4676a" stroke-width="0.8" /><circle cx="593.8" cy="561" r="1.9" fill="#fff" stroke="#d4676a" stroke-width="0.8" /><circle cx="592.5" cy="578.3" r="1.9" fill="#fff" stroke="#fff" stroke-width="0" /><circle cx="629.5" cy="578" r="1.9" fill="#fff" stroke="#7aaecd" stroke-width="0.8" /><circle cx="627.5" cy="585" r="1.9" fill="#fff" stroke="#7aaecd" stroke-width="0.8" /><circle cx="624.5" cy="608.5" r="1.9" fill="#fff" stroke="#fff" stroke-width="0" /><circle cx="660" cy="612" r="1.9" fill="#fff" stroke="#999" stroke-width="0.8" /><circle cx="660.5" cy="633.4" r="1.9" fill="#fff" stroke="#fff" stroke-width="0" /><circle cx="658" cy="642.7" r="1.9" fill="#fff" stroke="#fff" stroke-width="0" /><rect x="577.4" y="537.3" width="99.7" height="137.8" fill="none" stroke="#000" stroke-width="1.3" /><line x1="574.6" y1="675.1" x2="577.4" y2="675.1" stroke="#000" stroke-width="1.2" /><text x="573.2" y="678.95" font-size="11" text-anchor="end" font-weight="bold" fill="#000" >0</text><line x1="574.6" y1="635.89" x2="577.4" y2="635.89" stroke="#000" stroke-width="1.2" /><text x="573.2" y="639.74" font-size="11" text-anchor="end" font-weight="bold" fill="#000" >3</text><line x1="574.6" y1="596.68" x2="577.4" y2="596.68" stroke="#000" stroke-width="1.2" /><text x="573.2" y="600.53" font-size="11" text-anchor="end" font-weight="bold" fill="#000" >6</text><line x1="574.6" y1="557.47" x2="577.4" y2="557.47" stroke="#000" stroke-width="1.2" /><text x="573.2" y="561.32" font-size="11" text-anchor="end" font-weight="bold" fill="#000" >9</text><line x1="575.8" y1="655.5" x2="577.4" y2="655.5" stroke="#000" stroke-width="0.9" /><line x1="575.8" y1="616.29" x2="577.4" y2="616.29" stroke="#000" stroke-width="0.9" /><line x1="575.8" y1="577.08" x2="577.4" y2="577.08" stroke="#000" stroke-width="0.9" /><line x1="594.5" y1="675.1" x2="594.5" y2="677.7" stroke="#000" stroke-width="1.1" /><line x1="627.5" y1="675.1" x2="627.5" y2="677.7" stroke="#000" stroke-width="1.1" /><line x1="660.5" y1="675.1" x2="660.5" y2="677.7" stroke="#000" stroke-width="1.1" /><text x="559.8" y="609.96" font-size="11.3" text-anchor="middle" font-weight="bold" fill="#000" transform="rotate(-90 559.8 606)" >ENG SNR (dB)</text><text x="589.3" y="693.25" font-size="11" text-anchor="middle" font-weight="bold" fill="#000" transform="rotate(-22 589.3 689.4)" >Strong</text><text x="625.4" y="691.25" font-size="11" text-anchor="middle" font-weight="bold" fill="#000" transform="rotate(-22 625.4 687.4)" >Weak</text><text x="662.3" y="689.15" font-size="11" text-anchor="middle" font-weight="bold" fill="#000" transform="rotate(-22 662.3 685.3)" >Tap</text>
</svg></body></html>
